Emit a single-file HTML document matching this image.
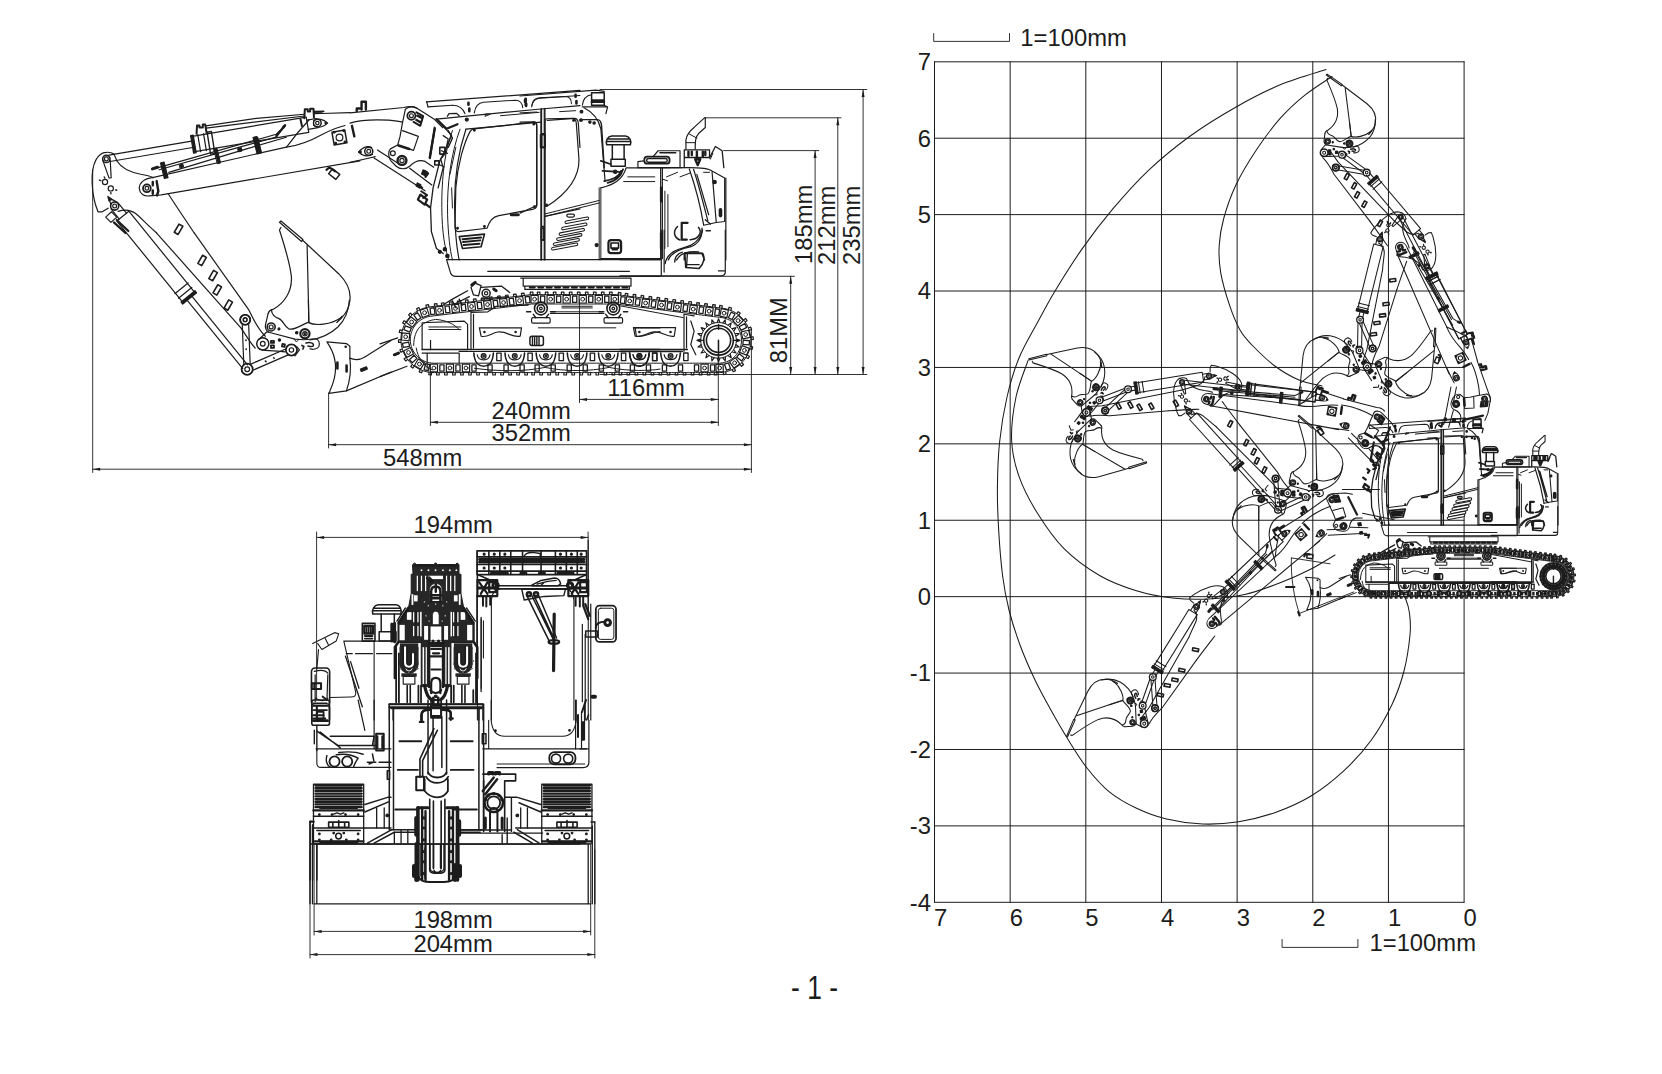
<!DOCTYPE html>
<html lang="en"><head><meta charset="utf-8"><title>Excavator dimensions</title>
<style>html,body{margin:0;padding:0;background:#fff}body{width:1662px;height:1074px;overflow:hidden}svg{display:block}text{font-family:"Liberation Sans",Arial,sans-serif;fill:#1c1c1c;stroke:none}#sideview *,#frontview *,#rightview *{vector-effect:non-scaling-stroke}</style></head><body>
<svg width="1662" height="1074" viewBox="0 0 1662 1074" fill="none" stroke="#1c1c1c" stroke-linecap="round" stroke-linejoin="round">
<rect width="1662" height="1074" fill="#fff" stroke="none"/>
<g id="grid"><path d="M934.5 61.8V902.3M1010.16 61.8V902.3M1085.81 61.8V902.3M1161.47 61.8V902.3M1237.13 61.8V902.3M1312.79 61.8V902.3M1388.44 61.8V902.3M1464.1 61.8V902.3M934.5 61.8H1464.1M934.5 138.21H1464.1M934.5 214.62H1464.1M934.5 291.03H1464.1M934.5 367.44H1464.1M934.5 443.85H1464.1M934.5 520.25H1464.1M934.5 596.66H1464.1M934.5 673.07H1464.1M934.5 749.48H1464.1M934.5 825.89H1464.1M934.5 902.3H1464.1" stroke-width="1"/><text x="931" y="70.1" font-size="23.8" text-anchor="end" >7</text><text x="931" y="146.51" font-size="23.8" text-anchor="end" >6</text><text x="931" y="222.92" font-size="23.8" text-anchor="end" >5</text><text x="931" y="299.33" font-size="23.8" text-anchor="end" >4</text><text x="931" y="375.74" font-size="23.8" text-anchor="end" >3</text><text x="931" y="452.15" font-size="23.8" text-anchor="end" >2</text><text x="931" y="528.55" font-size="23.8" text-anchor="end" >1</text><text x="931" y="604.96" font-size="23.8" text-anchor="end" >0</text><text x="931" y="681.37" font-size="23.8" text-anchor="end" >-1</text><text x="931" y="757.78" font-size="23.8" text-anchor="end" >-2</text><text x="931" y="834.19" font-size="23.8" text-anchor="end" >-3</text><text x="931" y="910.6" font-size="23.8" text-anchor="end" >-4</text><text x="934" y="925.5" font-size="23.8" text-anchor="start" >7</text><text x="1009.66" y="925.5" font-size="23.8" text-anchor="start" >6</text><text x="1085.31" y="925.5" font-size="23.8" text-anchor="start" >5</text><text x="1160.97" y="925.5" font-size="23.8" text-anchor="start" >4</text><text x="1236.63" y="925.5" font-size="23.8" text-anchor="start" >3</text><text x="1312.29" y="925.5" font-size="23.8" text-anchor="start" >2</text><text x="1387.94" y="925.5" font-size="23.8" text-anchor="start" >1</text><text x="1463.6" y="925.5" font-size="23.8" text-anchor="start" >0</text><path d="M933.7 33.5V41.4H1009.5V33.5" stroke-width="0.9"/><text x="1020.3" y="46.3" font-size="23.8" text-anchor="start" >1=100mm</text><path d="M1282.1 939.5V947.4H1357.9V939.5" stroke-width="0.9"/><text x="1369.5" y="950.8" font-size="23.8" text-anchor="start" >1=100mm</text></g>
<g id="dims"><path d="M600 89.5L866.8 89.5" stroke-width="0.9" /><path d="M863.1 89.5L863.1 374.5" stroke-width="0.9" /><path d="M863.1 89.5L864.6 97L861.6 97Z" fill="#1c1c1c" stroke="none"/><path d="M863.1 374.5L861.6 367L864.6 367Z" fill="#1c1c1c" stroke="none"/><path d="M705 117.8L841 117.8" stroke-width="0.9" /><path d="M837.8 117.8L837.8 374.5" stroke-width="0.9" /><path d="M837.8 117.8L839.3 125.3L836.3 125.3Z" fill="#1c1c1c" stroke="none"/><path d="M837.8 374.5L836.3 367L839.3 367Z" fill="#1c1c1c" stroke="none"/><path d="M723.6 150.6L818.8 150.6" stroke-width="0.9" /><path d="M815.1 150.6L815.1 374.5" stroke-width="0.9" /><path d="M815.1 150.6L816.6 158.1L813.6 158.1Z" fill="#1c1c1c" stroke="none"/><path d="M815.1 374.5L813.6 367L816.6 367Z" fill="#1c1c1c" stroke="none"/><path d="M640 276.3L794.4 276.3" stroke-width="0.9" /><path d="M790.7 276.3L790.7 374.5" stroke-width="0.9" /><path d="M790.7 276.3L792.2 283.8L789.2 283.8Z" fill="#1c1c1c" stroke="none"/><path d="M790.7 374.5L789.2 367L792.2 367Z" fill="#1c1c1c" stroke="none"/><path d="M600 374.5L866.8 374.5" stroke-width="0.9" /><text transform="translate(812.3 264) rotate(-90)" font-size="23.8">185mm</text><text transform="translate(834.6 265) rotate(-90)" font-size="23.8">212mm</text><text transform="translate(860.4 265) rotate(-90)" font-size="23.8">235mm</text><text transform="translate(786.8 363.3) rotate(-90)" font-size="23.8">81MM</text><path d="M579.5 300L579.5 402.5" stroke-width="0.9" /><path d="M718.3 340L718.3 425.5" stroke-width="0.9" /><path d="M579.5 399.4L718.3 399.4" stroke-width="0.9" /><path d="M579.5 399.4L587 397.9L587 400.9Z" fill="#1c1c1c" stroke="none"/><path d="M718.3 399.4L710.8 400.9L710.8 397.9Z" fill="#1c1c1c" stroke="none"/><text x="607.2" y="396" font-size="23.8" text-anchor="start" >116mm</text><path d="M430.4 372L430.4 425.5" stroke-width="0.9" /><path d="M430.4 422.3L718.3 422.3" stroke-width="0.9" /><path d="M430.4 422.3L437.9 420.8L437.9 423.8Z" fill="#1c1c1c" stroke="none"/><path d="M718.3 422.3L710.8 423.8L710.8 420.8Z" fill="#1c1c1c" stroke="none"/><text x="491.5" y="418.9" font-size="23.8" text-anchor="start" >240mm</text><path d="M328.6 393L328.6 448" stroke-width="0.9" /><path d="M751.4 330L751.4 472.5" stroke-width="0.9" /><path d="M328.6 444.7L751.4 444.7" stroke-width="0.9" /><path d="M328.6 444.7L336.1 443.2L336.1 446.2Z" fill="#1c1c1c" stroke="none"/><path d="M751.4 444.7L743.9 446.2L743.9 443.2Z" fill="#1c1c1c" stroke="none"/><text x="491.5" y="441" font-size="23.8" text-anchor="start" >352mm</text><path d="M92.7 170L92.7 472.5" stroke-width="0.9" /><path d="M92.7 469.2L751.4 469.2" stroke-width="0.9" /><path d="M92.7 469.2L100.2 467.7L100.2 470.7Z" fill="#1c1c1c" stroke="none"/><path d="M751.4 469.2L743.9 470.7L743.9 467.7Z" fill="#1c1c1c" stroke="none"/><text x="383" y="465.7" font-size="23.8" text-anchor="start" >548mm</text><path d="M316.6 532L316.6 700" stroke-width="0.9" /><path d="M588.1 532L588.1 610" stroke-width="0.9" /><path d="M316.6 537.4L588.1 537.4" stroke-width="0.9" /><path d="M316.6 537.4L324.1 535.9L324.1 538.9Z" fill="#1c1c1c" stroke="none"/><path d="M588.1 537.4L580.6 538.9L580.6 535.9Z" fill="#1c1c1c" stroke="none"/><text x="413.6" y="533.3" font-size="23.8" text-anchor="start" >194mm</text><path d="M314.1 845L314.1 935" stroke-width="0.9" /><path d="M590.7 845L590.7 935" stroke-width="0.9" /><path d="M314.1 931.4L590.7 931.4" stroke-width="0.9" /><path d="M314.1 931.4L321.6 929.9L321.6 932.9Z" fill="#1c1c1c" stroke="none"/><path d="M590.7 931.4L583.2 932.9L583.2 929.9Z" fill="#1c1c1c" stroke="none"/><text x="413.4" y="927.6" font-size="23.8" text-anchor="start" >198mm</text><path d="M310 850L310 958" stroke-width="0.9" /><path d="M594.8 850L594.8 958" stroke-width="0.9" /><path d="M310 954.6L594.8 954.6" stroke-width="0.9" /><path d="M310 954.6L317.5 953.1L317.5 956.1Z" fill="#1c1c1c" stroke="none"/><path d="M594.8 954.6L587.3 956.1L587.3 953.1Z" fill="#1c1c1c" stroke="none"/><text x="413.4" y="951.5" font-size="23.8" text-anchor="start" >204mm</text><text transform="translate(814.5 999) scale(0.8 1)" font-size="33" text-anchor="middle">- 1 -</text></g>
<g id="sideview" stroke-width="1.2"><g transform="translate(85 130) scale(0.09625)"><path d="M300 250C275 232 245 230 222 232C190 232 160 250 138 275C100 320 78 400 74 480C70 580 85 690 110 780L135 850L178 850L240 812" /><circle cx="222" cy="300" r="20"/><circle cx="222" cy="300" r="38" stroke-width="1.6"/><path d="M186 318L250 500L272 496L262 315" /><circle cx="208" cy="540" r="27"/><circle cx="268" cy="607" r="27"/><path d="M150 520l14 6M200 488l6 12M318 622l12 4M268 650l2 12" stroke-width="1.4" /><circle cx="308" cy="790" r="20"/><circle cx="308" cy="790" r="42" stroke-width="1.6"/><path d="M270 775L243 700L335 752" /><path d="M238 690L278 722L250 738Z" fill="#1c1c1c" /><path d="M330 320C380 400 470 440 580 460C650 470 680 480 712 496" /><path d="M300 248L330 318" /><path d="M345 846C400 826 470 826 530 870C585 915 650 990 745 1070" /><path d="M862 660C890 700 915 745 1135 1070" /></g><g transform="translate(80 220) scale(0.16846)"><path d="M455 78L955 640C990 690 1010 730 1040 760" /><path d="M678 77L1000 530C1030 590 1050 640 1100 690" /><circle cx="1085" cy="735" r="14"/><circle cx="1085" cy="735" r="36" stroke-width="1.5"/><circle cx="980" cy="592" r="12"/><circle cx="980" cy="592" r="30" stroke-width="1.5"/><rect x="-13" y="-28" width="26" height="56" transform="translate(585 55) rotate(30)" stroke-width="1.6"/><rect x="-13" y="-28" width="26" height="56" transform="translate(725 240) rotate(30)" stroke-width="1.6"/><rect x="-13" y="-28" width="26" height="56" transform="translate(790 330) rotate(30)" stroke-width="1.6"/><rect x="-13" y="-28" width="26" height="56" transform="translate(815 415) rotate(30)" stroke-width="1.6"/><rect x="-13" y="-28" width="26" height="56" transform="translate(880 505) rotate(30)" stroke-width="1.6"/></g><g transform="translate(114.64 206.03) rotate(50.92)"><path d="M0 -4.65H13M0 4.65H13"/><path d="M13 -7.75H119M13 7.75H119M13 -7.75V7.75"/><path d="M106 -8.55V8.55M111.85 -8.55V8.55"/><rect x="116.4" y="-8.95" width="2.6" height="17.9" fill="#1c1c1c"/><path d="M119 -3.1H207.03M119 3.1H207.03"/></g><g transform="translate(85 130) scale(0.09625)"><path d="M215 905L275 850L330 905L270 960Z" /><path d="M300 960L420 1070M330 935L450 1050" stroke-width="2.2" /></g><g transform="translate(247.18 369.23) rotate(-92.2)"><path d="M4.86 -3.2H44.62M4.86 3.2H44.62"/></g><g transform="translate(247.18 369.23) rotate(-23.54)"><path d="M4.86 -3.2H43.41M4.86 3.2H43.41"/></g><g transform="translate(225 300) scale(0.09990)"><circle cx="203" cy="198" r="18"/><circle cx="203" cy="198" r="50" stroke-width="1.6"/><circle cx="222" cy="693" r="24"/><circle cx="222" cy="693" r="56" stroke-width="1.8"/><circle cx="665" cy="500" r="22"/><circle cx="665" cy="500" r="56" stroke-width="1.8"/><path d="M210 400v6M212 490v6M405 612l5 5M487 578l5 5" stroke-width="1.6" /></g><g transform="translate(225 300) scale(0.09990)"><path d="M340 395L420 318L700 392L790 398L905 388C940 395 950 425 940 465C925 490 880 500 850 488" /><path d="M720 470L745 500L700 560M345 490C380 510 440 500 600 520" /><path d="M810 430C850 420 890 430 885 455C880 470 850 465 830 460" stroke-width="1.5" /><path d="M690 390l25 30l25-25" stroke-width="1.0" /><circle cx="462" cy="270" r="20"/><circle cx="462" cy="270" r="40" stroke-width="1.6"/><circle cx="800" cy="338" r="22"/><circle cx="800" cy="338" r="46" stroke-width="2.2"/><circle cx="800" cy="338" r="8" fill="#1c1c1c"/><circle cx="540" cy="290" r="10" fill="#1c1c1c"/><circle cx="718" cy="328" r="12" fill="#1c1c1c"/><circle cx="545" cy="400" r="12" fill="#1c1c1c"/><path d="M460 410h30v20h-30zM460 455h30v25h-30zM575 440l25 5l-5 25l-25 -5z" stroke-width="1.8" /><path d="M770 455l20 10l-10 25" stroke-width="1.6" /></g><g transform="translate(225 215) scale(0.09990)"><path d="M545 72L560 60L780 245L766 266Z" /><path d="M560 125L545 150C600 320 650 480 665 620C672 760 600 880 480 945C455 950 440 958 432 985" /><path d="M780 255L1140 590C1230 680 1275 790 1240 905C1222 975 1180 1025 1120 1075" /><path d="M822 305L840 1075" /></g><g transform="translate(225 300) scale(0.09990)"><path d="M432 135L405 250C398 290 415 310 440 322" /><path d="M465 100C468 150 500 172 540 186C580 200 592 262 640 290C700 305 760 250 832 224C900 262 1060 250 1165 175" /><path d="M1245 0C1240 100 1200 200 1130 270C1060 335 960 385 850 400" /><path d="M835 0L838 222" /><path d="M1120 225L1170 160" stroke-width="1.0" /></g><path d="M433.9 372.6L430.39 372.41L426.92 371.85L423.52 370.93L420.25 369.64L417.13 368.02L414.2 366.07L411.49 363.82L409.04 361.3L406.87 358.53L405.01 355.55L403.48 352.38L402.29 349.07L401.46 345.65L401 342.17L400.91 338.65L401.2 335.14L401.86 331.69L402.89 328.32L404.26 325.09L405.98 322.02L408.01 319.14L410.33 316.5L412.92 314.13L415.75 312.04L418.79 310.26L422 308.82L425.34 307.73L428.78 307L431.95 306.6L434.95 306.23L437.95 305.87L440.96 305.51L443.96 305.15L446.96 304.78L449.97 304.42L452.97 304.06L455.97 303.7L458.97 303.33L461.98 302.97L464.98 302.61L467.98 302.25L470.99 301.88L473.99 301.52L476.99 301.16L480 300.8L483 300.43L486 300.07L489.01 299.71L492.01 299.35L495.01 298.98L498.01 298.62L501.02 298.26L504.02 297.9L507.02 297.53L510.03 297.17L513.03 296.81L516.03 296.45L519.04 296.08L522.04 295.72L525.04 295.36L528.05 295L531.6 294.6L534.61 294.6L537.61 294.6L540.62 294.6L543.63 294.6L546.64 294.6L549.64 294.6L552.65 294.6L555.66 294.6L558.66 294.6L561.67 294.6L564.68 294.6L567.69 294.6L570.69 294.6L573.7 294.6L576.71 294.6L579.71 294.6L582.72 294.6L585.73 294.6L588.74 294.6L591.74 294.6L594.75 294.6L597.76 294.6L600.76 294.6L603.77 294.6L606.78 294.6L609.79 294.6L612.79 294.6L616.38 294.64L619.37 295.02L622.35 295.4L625.33 295.78L628.31 296.17L631.29 296.55L634.27 296.93L637.25 297.31L640.23 297.69L643.21 298.08L646.19 298.46L649.18 298.84L652.16 299.22L655.14 299.6L658.12 299.99L661.1 300.37L664.08 300.75L667.06 301.13L670.04 301.51L673.02 301.9L676 302.28L678.98 302.66L681.97 303.04L684.95 303.42L687.93 303.81L690.91 304.19L693.89 304.57L696.87 304.95L699.85 305.33L702.83 305.72L705.81 306.1L708.79 306.48L711.78 306.86L714.76 307.24L717.74 307.63L720.72 308.01L723.87 308.43L727.3 309.19L730.63 310.32L733.82 311.81L736.83 313.63L739.62 315.77L742.16 318.2L744.42 320.9L746.38 323.82L748.01 326.94L749.28 330.21L750.2 333.61L750.74 337.09L750.9 340.6L750.67 344.11L750.07 347.57L749.09 350.95L747.75 354.2L746.07 357.29L744.06 360.18L741.75 362.83L739.16 365.21L736.33 367.3L733.29 369.07L730.07 370.49L726.72 371.56L723.28 372.26L719.77 372.58L716.6 372.6L713.59 372.6L710.58 372.6L707.57 372.6L704.57 372.6L701.56 372.6L698.55 372.6L695.54 372.6L692.54 372.6L689.53 372.6L686.52 372.6L683.51 372.6L680.51 372.6L677.5 372.6L674.49 372.6L671.48 372.6L668.48 372.6L665.47 372.6L662.46 372.6L659.45 372.6L656.45 372.6L653.44 372.6L650.43 372.6L647.42 372.6L644.42 372.6L641.41 372.6L638.4 372.6L635.4 372.6L632.39 372.6L629.38 372.6L626.37 372.6L623.37 372.6L620.36 372.6L617.35 372.6L614.34 372.6L611.34 372.6L608.33 372.6L605.32 372.6L602.31 372.6L599.31 372.6L596.3 372.6L593.29 372.6L590.28 372.6L587.28 372.6L584.27 372.6L581.26 372.6L578.25 372.6L575.25 372.6L572.24 372.6L569.23 372.6L566.23 372.6L563.22 372.6L560.21 372.6L557.2 372.6L554.2 372.6L551.19 372.6L548.18 372.6L545.17 372.6L542.17 372.6L539.16 372.6L536.15 372.6L533.14 372.6L530.14 372.6L527.13 372.6L524.12 372.6L521.11 372.6L518.11 372.6L515.1 372.6L512.09 372.6L509.08 372.6L506.08 372.6L503.07 372.6L500.06 372.6L497.06 372.6L494.05 372.6L491.04 372.6L488.03 372.6L485.03 372.6L482.02 372.6L479.01 372.6L476 372.6L473 372.6L469.99 372.6L466.98 372.6L463.97 372.6L460.97 372.6L457.96 372.6L454.95 372.6L451.94 372.6L448.94 372.6L445.93 372.6L442.92 372.6L439.91 372.6L436.91 372.6Z" stroke-width="1.0" /><path d="M433.9 363.2L431.39 363.07L428.9 362.67L426.48 362L424.14 361.09L421.9 359.92L419.81 358.53L417.87 356.92L416.12 355.12L414.57 353.14L413.24 351.01L412.14 348.74L411.29 346.37L410.7 343.93L410.37 341.44L410.31 338.92L410.52 336.41L410.99 333.94L411.72 331.54L412.7 329.22L413.93 327.02L415.38 324.97L417.04 323.08L418.9 321.38L420.92 319.89L423.09 318.62L425.39 317.59L427.78 316.81L430.24 316.29L433.07 315.93L436.08 315.57L439.08 315.2L442.08 314.84L445.09 314.48L448.09 314.12L451.09 313.75L454.1 313.39L457.1 313.03L460.1 312.67L463.1 312.3L466.11 311.94L469.11 311.58L472.11 311.22L475.12 310.85L478.12 310.49L481.12 310.13L484.13 309.77L487.13 309.4L490.13 309.04L493.14 308.68L496.14 308.32L499.14 307.95L502.14 307.59L505.15 307.23L508.15 306.87L511.15 306.5L514.16 306.14L517.16 305.78L520.16 305.42L523.17 305.05L526.17 304.69L529.17 304.33L531.6 304L534.61 304L537.61 304L540.62 304L543.63 304L546.64 304L549.64 304L552.65 304L555.66 304L558.66 304L561.67 304L564.68 304L567.69 304L570.69 304L573.7 304L576.71 304L579.71 304L582.72 304L585.73 304L588.74 304L591.74 304L594.75 304L597.76 304L600.76 304L603.77 304L606.78 304L609.79 304L612.79 304L615.19 303.96L618.17 304.34L621.15 304.73L624.13 305.11L627.11 305.49L630.09 305.87L633.08 306.25L636.06 306.64L639.04 307.02L642.02 307.4L645 307.78L647.98 308.16L650.96 308.55L653.94 308.93L656.92 309.31L659.9 309.69L662.89 310.07L665.87 310.46L668.85 310.84L671.83 311.22L674.81 311.6L677.79 311.98L680.77 312.37L683.75 312.75L686.73 313.13L689.71 313.51L692.69 313.89L695.68 314.28L698.66 314.66L701.64 315.04L704.62 315.42L707.6 315.8L710.58 316.19L713.56 316.57L716.54 316.95L719.52 317.33L722.33 317.71L724.77 318.25L727.13 319.05L729.39 320.1L731.52 321.39L733.5 322.91L735.3 324.63L736.91 326.54L738.29 328.62L739.45 330.83L740.35 333.15L741 335.56L741.39 338.02L741.5 340.51L741.34 343L740.91 345.46L740.22 347.85L739.27 350.16L738.08 352.35L736.65 354.39L735.01 356.27L733.18 357.96L731.17 359.44L729.01 360.7L726.73 361.71L724.36 362.46L721.91 362.96L719.43 363.18L716.6 363.2L713.59 363.2L710.58 363.2L707.57 363.2L704.57 363.2L701.56 363.2L698.55 363.2L695.54 363.2L692.54 363.2L689.53 363.2L686.52 363.2L683.51 363.2L680.51 363.2L677.5 363.2L674.49 363.2L671.48 363.2L668.48 363.2L665.47 363.2L662.46 363.2L659.45 363.2L656.45 363.2L653.44 363.2L650.43 363.2L647.42 363.2L644.42 363.2L641.41 363.2L638.4 363.2L635.4 363.2L632.39 363.2L629.38 363.2L626.37 363.2L623.37 363.2L620.36 363.2L617.35 363.2L614.34 363.2L611.34 363.2L608.33 363.2L605.32 363.2L602.31 363.2L599.31 363.2L596.3 363.2L593.29 363.2L590.28 363.2L587.28 363.2L584.27 363.2L581.26 363.2L578.25 363.2L575.25 363.2L572.24 363.2L569.23 363.2L566.23 363.2L563.22 363.2L560.21 363.2L557.2 363.2L554.2 363.2L551.19 363.2L548.18 363.2L545.17 363.2L542.17 363.2L539.16 363.2L536.15 363.2L533.14 363.2L530.14 363.2L527.13 363.2L524.12 363.2L521.11 363.2L518.11 363.2L515.1 363.2L512.09 363.2L509.08 363.2L506.08 363.2L503.07 363.2L500.06 363.2L497.06 363.2L494.05 363.2L491.04 363.2L488.03 363.2L485.03 363.2L482.02 363.2L479.01 363.2L476 363.2L473 363.2L469.99 363.2L466.98 363.2L463.97 363.2L460.97 363.2L457.96 363.2L454.95 363.2L451.94 363.2L448.94 363.2L445.93 363.2L442.92 363.2L439.91 363.2L436.91 363.2Z" stroke-width="1.0" /><rect x="-3.6" y="-3.8" width="7.2" height="7.6" transform="translate(433.9 368) rotate(180)" stroke-width="1.2"/><circle cx="433.9" cy="368" r="1.9" stroke-width="1.0"/><rect x="-2.1" y="-3.2" width="4.2" height="6.4" transform="translate(426.91 367.13) rotate(194.26)" stroke-width="1.3"/><rect x="-3.6" y="-3.8" width="7.2" height="7.6" transform="translate(419.46 364.06) rotate(210.55)" stroke-width="1.2"/><circle cx="419.46" cy="364.06" r="1.9" stroke-width="1.0"/><rect x="-2.1" y="-3.2" width="4.2" height="6.4" transform="translate(413.18 359.03) rotate(226.84)" stroke-width="1.3"/><rect x="-3.6" y="-3.8" width="7.2" height="7.6" transform="translate(408.56 352.43) rotate(243.14)" stroke-width="1.2"/><circle cx="408.56" cy="352.43" r="1.9" stroke-width="1.0"/><rect x="-2.1" y="-3.2" width="4.2" height="6.4" transform="translate(405.98 344.81) rotate(259.43)" stroke-width="1.3"/><rect x="-3.6" y="-3.8" width="7.2" height="7.6" transform="translate(405.64 336.77) rotate(-84.28)" stroke-width="1.2"/><circle cx="405.64" cy="336.77" r="1.9" stroke-width="1.0"/><rect x="-2.1" y="-3.2" width="4.2" height="6.4" transform="translate(407.57 328.95) rotate(-67.98)" stroke-width="1.3"/><rect x="-3.6" y="-3.8" width="7.2" height="7.6" transform="translate(411.62 321.99) rotate(-51.69)" stroke-width="1.2"/><circle cx="411.62" cy="321.99" r="1.9" stroke-width="1.0"/><rect x="-2.1" y="-3.2" width="4.2" height="6.4" transform="translate(417.45 316.45) rotate(-35.4)" stroke-width="1.3"/><rect x="-3.6" y="-3.8" width="7.2" height="7.6" transform="translate(424.61 312.76) rotate(-19.1)" stroke-width="1.2"/><circle cx="424.61" cy="312.76" r="1.9" stroke-width="1.0"/><rect x="-2.1" y="-3.2" width="4.2" height="6.4" transform="translate(432.5 311.16) rotate(-6.88)" stroke-width="1.3"/><rect x="-3.6" y="-3.8" width="7.2" height="7.6" transform="translate(439.51 310.32) rotate(-6.88)" stroke-width="1.2"/><circle cx="439.51" cy="310.32" r="1.9" stroke-width="1.0"/><rect x="-2.1" y="-3.2" width="4.2" height="6.4" transform="translate(447.51 309.35) rotate(-6.88)" stroke-width="1.3"/><rect x="-3.6" y="-3.8" width="7.2" height="7.6" transform="translate(455.52 308.38) rotate(-6.88)" stroke-width="1.2"/><circle cx="455.52" cy="308.38" r="1.9" stroke-width="1.0"/><rect x="-2.1" y="-3.2" width="4.2" height="6.4" transform="translate(463.53 307.42) rotate(-6.88)" stroke-width="1.3"/><rect x="-3.6" y="-3.8" width="7.2" height="7.6" transform="translate(471.54 306.45) rotate(-6.88)" stroke-width="1.2"/><circle cx="471.54" cy="306.45" r="1.9" stroke-width="1.0"/><rect x="-2.1" y="-3.2" width="4.2" height="6.4" transform="translate(479.55 305.48) rotate(-6.88)" stroke-width="1.3"/><rect x="-3.6" y="-3.8" width="7.2" height="7.6" transform="translate(487.55 304.52) rotate(-6.88)" stroke-width="1.2"/><circle cx="487.55" cy="304.52" r="1.9" stroke-width="1.0"/><rect x="-2.1" y="-3.2" width="4.2" height="6.4" transform="translate(495.56 303.55) rotate(-6.88)" stroke-width="1.3"/><rect x="-3.6" y="-3.8" width="7.2" height="7.6" transform="translate(503.57 302.58) rotate(-6.88)" stroke-width="1.2"/><circle cx="503.57" cy="302.58" r="1.9" stroke-width="1.0"/><rect x="-2.1" y="-3.2" width="4.2" height="6.4" transform="translate(511.58 301.62) rotate(-6.88)" stroke-width="1.3"/><rect x="-3.6" y="-3.8" width="7.2" height="7.6" transform="translate(519.59 300.65) rotate(-6.88)" stroke-width="1.2"/><circle cx="519.59" cy="300.65" r="1.9" stroke-width="1.0"/><rect x="-2.1" y="-3.2" width="4.2" height="6.4" transform="translate(527.6 299.68) rotate(-6.88)" stroke-width="1.3"/><rect x="-3.6" y="-3.8" width="7.2" height="7.6" transform="translate(534.61 299.2) rotate(0)" stroke-width="1.2"/><circle cx="534.61" cy="299.2" r="1.9" stroke-width="1.0"/><rect x="-2.1" y="-3.2" width="4.2" height="6.4" transform="translate(542.63 299.2) rotate(0)" stroke-width="1.3"/><rect x="-3.6" y="-3.8" width="7.2" height="7.6" transform="translate(550.65 299.2) rotate(0)" stroke-width="1.2"/><circle cx="550.65" cy="299.2" r="1.9" stroke-width="1.0"/><rect x="-2.1" y="-3.2" width="4.2" height="6.4" transform="translate(558.66 299.2) rotate(0)" stroke-width="1.3"/><rect x="-3.6" y="-3.8" width="7.2" height="7.6" transform="translate(566.68 299.2) rotate(0)" stroke-width="1.2"/><circle cx="566.68" cy="299.2" r="1.9" stroke-width="1.0"/><rect x="-2.1" y="-3.2" width="4.2" height="6.4" transform="translate(574.7 299.2) rotate(0)" stroke-width="1.3"/><rect x="-3.6" y="-3.8" width="7.2" height="7.6" transform="translate(582.72 299.2) rotate(0)" stroke-width="1.2"/><circle cx="582.72" cy="299.2" r="1.9" stroke-width="1.0"/><rect x="-2.1" y="-3.2" width="4.2" height="6.4" transform="translate(590.74 299.2) rotate(0)" stroke-width="1.3"/><rect x="-3.6" y="-3.8" width="7.2" height="7.6" transform="translate(598.76 299.2) rotate(0)" stroke-width="1.2"/><circle cx="598.76" cy="299.2" r="1.9" stroke-width="1.0"/><rect x="-2.1" y="-3.2" width="4.2" height="6.4" transform="translate(606.78 299.2) rotate(0)" stroke-width="1.3"/><rect x="-3.6" y="-3.8" width="7.2" height="7.6" transform="translate(614.8 299.2) rotate(0)" stroke-width="1.2"/><circle cx="614.8" cy="299.2" r="1.9" stroke-width="1.0"/><rect x="-2.1" y="-3.2" width="4.2" height="6.4" transform="translate(622.76 300.09) rotate(7.3)" stroke-width="1.3"/><rect x="-3.6" y="-3.8" width="7.2" height="7.6" transform="translate(629.71 300.98) rotate(7.3)" stroke-width="1.2"/><circle cx="629.71" cy="300.98" r="1.9" stroke-width="1.0"/><rect x="-2.1" y="-3.2" width="4.2" height="6.4" transform="translate(637.66 302) rotate(7.3)" stroke-width="1.3"/><rect x="-3.6" y="-3.8" width="7.2" height="7.6" transform="translate(645.61 303.02) rotate(7.3)" stroke-width="1.2"/><circle cx="645.61" cy="303.02" r="1.9" stroke-width="1.0"/><rect x="-2.1" y="-3.2" width="4.2" height="6.4" transform="translate(653.56 304.04) rotate(7.3)" stroke-width="1.3"/><rect x="-3.6" y="-3.8" width="7.2" height="7.6" transform="translate(661.51 305.06) rotate(7.3)" stroke-width="1.2"/><circle cx="661.51" cy="305.06" r="1.9" stroke-width="1.0"/><rect x="-2.1" y="-3.2" width="4.2" height="6.4" transform="translate(669.46 306.08) rotate(7.3)" stroke-width="1.3"/><rect x="-3.6" y="-3.8" width="7.2" height="7.6" transform="translate(677.41 307.09) rotate(7.3)" stroke-width="1.2"/><circle cx="677.41" cy="307.09" r="1.9" stroke-width="1.0"/><rect x="-2.1" y="-3.2" width="4.2" height="6.4" transform="translate(685.36 308.11) rotate(7.3)" stroke-width="1.3"/><rect x="-3.6" y="-3.8" width="7.2" height="7.6" transform="translate(693.3 309.13) rotate(7.3)" stroke-width="1.2"/><circle cx="693.3" cy="309.13" r="1.9" stroke-width="1.0"/><rect x="-2.1" y="-3.2" width="4.2" height="6.4" transform="translate(701.25 310.15) rotate(7.3)" stroke-width="1.3"/><rect x="-3.6" y="-3.8" width="7.2" height="7.6" transform="translate(709.2 311.17) rotate(7.3)" stroke-width="1.2"/><circle cx="709.2" cy="311.17" r="1.9" stroke-width="1.0"/><rect x="-2.1" y="-3.2" width="4.2" height="6.4" transform="translate(717.15 312.19) rotate(7.3)" stroke-width="1.3"/><rect x="-3.6" y="-3.8" width="7.2" height="7.6" transform="translate(724.11 313.15) rotate(11.46)" stroke-width="1.2"/><circle cx="724.11" cy="313.15" r="1.9" stroke-width="1.0"/><rect x="-2.1" y="-3.2" width="4.2" height="6.4" transform="translate(731.65 315.87) rotate(28.11)" stroke-width="1.3"/><rect x="-3.6" y="-3.8" width="7.2" height="7.6" transform="translate(738.1 320.63) rotate(44.75)" stroke-width="1.2"/><circle cx="738.1" cy="320.63" r="1.9" stroke-width="1.0"/><rect x="-2.1" y="-3.2" width="4.2" height="6.4" transform="translate(742.92 327.04) rotate(61.4)" stroke-width="1.3"/><rect x="-3.6" y="-3.8" width="7.2" height="7.6" transform="translate(745.7 334.56) rotate(78.05)" stroke-width="1.2"/><circle cx="745.7" cy="334.56" r="1.9" stroke-width="1.0"/><rect x="-2.1" y="-3.2" width="4.2" height="6.4" transform="translate(746.21 342.57) rotate(94.69)" stroke-width="1.3"/><rect x="-3.6" y="-3.8" width="7.2" height="7.6" transform="translate(744.4 350.38) rotate(111.34)" stroke-width="1.2"/><circle cx="744.4" cy="350.38" r="1.9" stroke-width="1.0"/><rect x="-2.1" y="-3.2" width="4.2" height="6.4" transform="translate(740.43 357.35) rotate(127.98)" stroke-width="1.3"/><rect x="-3.6" y="-3.8" width="7.2" height="7.6" transform="translate(734.63 362.89) rotate(144.63)" stroke-width="1.2"/><circle cx="734.63" cy="362.89" r="1.9" stroke-width="1.0"/><rect x="-2.1" y="-3.2" width="4.2" height="6.4" transform="translate(727.49 366.53) rotate(161.27)" stroke-width="1.3"/><rect x="-3.6" y="-3.8" width="7.2" height="7.6" transform="translate(719.61 367.98) rotate(177.92)" stroke-width="1.2"/><circle cx="719.61" cy="367.98" r="1.9" stroke-width="1.0"/><rect x="-2.1" y="-3.2" width="4.2" height="6.4" transform="translate(712.59 368) rotate(180)" stroke-width="1.3"/><rect x="-3.6" y="-3.8" width="7.2" height="7.6" transform="translate(704.57 368) rotate(180)" stroke-width="1.2"/><circle cx="704.57" cy="368" r="1.9" stroke-width="1.0"/><rect x="-2.1" y="-3.2" width="4.2" height="6.4" transform="translate(696.55 368) rotate(180)" stroke-width="1.3"/><rect x="-2.1" y="-3.2" width="4.2" height="6.4" transform="translate(680.51 368) rotate(180)" stroke-width="1.3"/><rect x="-2.1" y="-3.2" width="4.2" height="6.4" transform="translate(664.47 368) rotate(180)" stroke-width="1.3"/><rect x="-2.1" y="-3.2" width="4.2" height="6.4" transform="translate(648.43 368) rotate(180)" stroke-width="1.3"/><rect x="-2.1" y="-3.2" width="4.2" height="6.4" transform="translate(632.39 368) rotate(180)" stroke-width="1.3"/><rect x="-2.1" y="-3.2" width="4.2" height="6.4" transform="translate(617.35 368) rotate(180)" stroke-width="1.3"/><rect x="-2.1" y="-3.2" width="4.2" height="6.4" transform="translate(601.31 368) rotate(180)" stroke-width="1.3"/><rect x="-2.1" y="-3.2" width="4.2" height="6.4" transform="translate(585.27 368) rotate(180)" stroke-width="1.3"/><rect x="-2.1" y="-3.2" width="4.2" height="6.4" transform="translate(569.23 368) rotate(180)" stroke-width="1.3"/><rect x="-2.1" y="-3.2" width="4.2" height="6.4" transform="translate(553.19 368) rotate(180)" stroke-width="1.3"/><rect x="-2.1" y="-3.2" width="4.2" height="6.4" transform="translate(537.15 368) rotate(180)" stroke-width="1.3"/><rect x="-2.1" y="-3.2" width="4.2" height="6.4" transform="translate(522.12 368) rotate(180)" stroke-width="1.3"/><rect x="-2.1" y="-3.2" width="4.2" height="6.4" transform="translate(506.08 368) rotate(180)" stroke-width="1.3"/><rect x="-2.1" y="-3.2" width="4.2" height="6.4" transform="translate(490.04 368) rotate(180)" stroke-width="1.3"/><rect x="-2.1" y="-3.2" width="4.2" height="6.4" transform="translate(474 368) rotate(180)" stroke-width="1.3"/><rect x="-3.6" y="-3.8" width="7.2" height="7.6" transform="translate(465.98 368) rotate(180)" stroke-width="1.2"/><circle cx="465.98" cy="368" r="1.9" stroke-width="1.0"/><rect x="-2.1" y="-3.2" width="4.2" height="6.4" transform="translate(457.96 368) rotate(180)" stroke-width="1.3"/><rect x="-3.6" y="-3.8" width="7.2" height="7.6" transform="translate(449.94 368) rotate(180)" stroke-width="1.2"/><circle cx="449.94" cy="368" r="1.9" stroke-width="1.0"/><rect x="-2.1" y="-3.2" width="4.2" height="6.4" transform="translate(441.92 368) rotate(180)" stroke-width="1.3"/><path d="M431.68 372.55L431.42 374.94L428.84 374.66L429.09 372.27M422.52 370.6L421.61 372.82L419.21 371.83L420.12 369.61M414.28 366.17L412.78 368.04L410.75 366.42L412.25 364.54M407.62 359.6L405.65 360.97L404.16 358.84L406.13 357.47M403.06 351.42L400.79 352.19L399.95 349.73L402.23 348.96M400.98 342.29L398.59 342.4L398.48 339.8L400.87 339.7M401.55 332.95L399.22 332.38L399.84 329.85L402.17 330.43M404.72 324.14L402.64 322.94L403.95 320.69L406.02 321.89M410.22 316.58L408.57 314.84L410.46 313.04L412.11 314.78M417.63 310.86L416.54 308.72L418.85 307.53L419.95 309.67M426.35 307.45L425.9 305.09L428.45 304.6L428.9 306.95M434.66 306.27L434.37 303.89L436.95 303.57L437.24 305.96M441.67 305.42L441.38 303.04L443.96 302.73L444.25 305.11M449.68 304.46L449.39 302.07L451.97 301.76L452.26 304.14M457.68 303.49L457.4 301.11L459.98 300.8L460.27 303.18M465.69 302.52L465.4 300.14L467.99 299.83L468.27 302.21M473.7 301.56L473.41 299.17L475.99 298.86L476.28 301.24M481.71 300.59L481.42 298.21L484 297.89L484.29 300.28M489.72 299.62L489.43 297.24L492.01 296.93L492.3 299.31M497.73 298.66L497.44 296.27L500.02 295.96L500.31 298.34M505.73 297.69L505.45 295.31L508.03 294.99L508.31 297.38M513.74 296.72L513.45 294.34L516.04 294.03L516.32 296.41M521.75 295.76L521.46 293.37L524.04 293.06L524.33 295.44M530.3 294.6L530.3 292.2L532.9 292.2L532.9 294.6M537.32 294.6L537.32 292.2L539.92 292.2L539.92 294.6M545.34 294.6L545.34 292.2L547.94 292.2L547.94 294.6M553.35 294.6L553.35 292.2L555.95 292.2L555.95 294.6M561.37 294.6L561.37 292.2L563.97 292.2L563.97 294.6M569.39 294.6L569.39 292.2L571.99 292.2L571.99 294.6M577.41 294.6L577.41 292.2L580.01 292.2L580.01 294.6M585.43 294.6L585.43 292.2L588.03 292.2L588.03 294.6M593.45 294.6L593.45 292.2L596.05 292.2L596.05 294.6M601.47 294.6L601.47 292.2L604.07 292.2L604.07 294.6M609.49 294.6L609.49 292.2L612.09 292.2L612.09 294.6M618.08 294.85L618.38 292.47L620.96 292.8L620.66 295.18M625.03 295.75L625.34 293.36L627.92 293.7L627.61 296.08M632.98 296.76L633.29 294.38L635.86 294.71L635.56 297.09M640.93 297.78L641.24 295.4L643.81 295.73L643.51 298.11M648.88 298.8L649.18 296.42L651.76 296.75L651.46 299.13M656.83 299.82L657.13 297.44L659.71 297.77L659.41 300.15M664.78 300.84L665.08 298.46L667.66 298.79L667.36 301.17M672.73 301.86L673.03 299.48L675.61 299.81L675.31 302.19M680.68 302.88L680.98 300.5L683.56 300.83L683.26 303.21M688.63 303.89L688.93 301.51L691.51 301.84L691.2 304.23M696.57 304.91L696.88 302.53L699.46 302.86L699.15 305.24M704.52 305.93L704.83 303.55L707.41 303.88L707.1 306.26M712.47 306.95L712.78 304.57L715.36 304.9L715.05 307.28M719.43 307.84L719.73 305.46L722.31 305.79L722.01 308.17M728.31 309.47L729.12 307.21L731.57 308.09L730.76 310.35M736.74 313.54L738.16 311.61L740.25 313.15L738.83 315.08M743.64 319.86L745.56 318.42L747.12 320.49L745.2 321.94M748.45 327.89L750.7 327.06L751.6 329.49L749.35 330.33M750.75 336.96L753.15 336.8L753.31 339.4L750.92 339.55M750.36 346.31L752.7 346.85L752.12 349.38L749.78 348.84M747.31 355.15L749.4 356.34L748.11 358.6L746.02 357.41M741.85 362.76L743.51 364.49L741.63 366.29L739.97 364.55M734.45 368.48L735.54 370.61L733.22 371.8L732.13 369.66M725.71 371.83L726.14 374.19L723.59 374.66L723.15 372.3M716.89 372.6L716.89 375L714.29 375L714.29 372.6M709.88 372.6L709.88 375L707.28 375L707.28 372.6M701.86 372.6L701.86 375L699.26 375L699.26 372.6M693.84 372.6L693.84 375L691.24 375L691.24 372.6M685.82 372.6L685.82 375L683.22 375L683.22 372.6M677.8 372.6L677.8 375L675.2 375L675.2 372.6M669.78 372.6L669.78 375L667.18 375L667.18 372.6M661.76 372.6L661.76 375L659.16 375L659.16 372.6M653.74 372.6L653.74 375L651.14 375L651.14 372.6M645.72 372.6L645.72 375L643.12 375L643.12 372.6M637.7 372.6L637.7 375L635.1 375L635.1 372.6M629.68 372.6L629.68 375L627.08 375L627.08 372.6M621.66 372.6L621.66 375L619.06 375L619.06 372.6M614.64 372.6L614.64 375L612.04 375L612.04 372.6M606.62 372.6L606.62 375L604.02 375L604.02 372.6M598.6 372.6L598.6 375L596 375L596 372.6M590.58 372.6L590.58 375L587.98 375L587.98 372.6M582.56 372.6L582.56 375L579.96 375L579.96 372.6M574.54 372.6L574.54 375L571.94 375L571.94 372.6M566.52 372.6L566.52 375L563.92 375L563.92 372.6M558.5 372.6L558.5 375L555.9 375L555.9 372.6M550.48 372.6L550.48 375L547.88 375L547.88 372.6M542.46 372.6L542.46 375L539.86 375L539.86 372.6M534.44 372.6L534.44 375L531.84 375L531.84 372.6M527.43 372.6L527.43 375L524.83 375L524.83 372.6M519.41 372.6L519.41 375L516.81 375L516.81 372.6M511.39 372.6L511.39 375L508.79 375L508.79 372.6M503.37 372.6L503.37 375L500.77 375L500.77 372.6M495.35 372.6L495.35 375L492.75 375L492.75 372.6M487.33 372.6L487.33 375L484.73 375L484.73 372.6M479.31 372.6L479.31 375L476.71 375L476.71 372.6M471.29 372.6L471.29 375L468.69 375L468.69 372.6M463.27 372.6L463.27 375L460.67 375L460.67 372.6M455.25 372.6L455.25 375L452.65 375L452.65 372.6M447.23 372.6L447.23 375L444.63 375L444.63 372.6M439.21 372.6L439.21 375L436.61 375L436.61 372.6" stroke-width="1.2" /><g transform="translate(380 220) scale(0.16846)"><path d="M200 745C200 640 260 600 330 590C400 595 440 620 470 650" stroke-width="1.0" /><path d="M215 760C225 820 260 870 310 890" stroke-width="1.0" /><path d="M250 610L500 600L520 620L520 770L250 770Z" /><path d="M290 635H480M290 650H480" stroke-width="1.0" /><path d="M300 715V770M250 790H470V850M280 790V880" /><path d="M540 548L640 545L690 512L880 505M540 548V770M555 560V760" /><path d="M250 768H1662M470 780H1662" stroke-width="1.4" /><path d="M590 640H840L832 690C780 700 760 660 700 665C660 670 640 700 600 690Z" /><circle cx="620" cy="665" r="4" fill="#1c1c1c"/><circle cx="805" cy="665" r="4" fill="#1c1c1c"/><path d="M940 640H1400M1080 512H1260M1080 522H1260" stroke-width="1.0" /><path d="M1510 640H1662M1515 640L1522 690C1560 700 1600 670 1662 662" /><rect x="890" y="690" width="80" height="55" rx="12" stroke-width="1.5"/><path d="M905 695v45M918 695v45M931 695v45M944 695v45" stroke-width="1.4" /><circle cx="955" cy="525" r="38" stroke-width="1.6"/><circle cx="955" cy="525" r="22" stroke-width="1.6"/><circle cx="955" cy="525" r="8"/><rect x="900" y="580" width="110" height="32" rx="8"/><path d="M910 560L925 580M1000 560L985 580M895 545h-25M1015 545h25" stroke-width="1.4" /><circle cx="1385" cy="525" r="38" stroke-width="1.6"/><circle cx="1385" cy="525" r="22" stroke-width="1.6"/><circle cx="1385" cy="525" r="8"/><rect x="1330" y="580" width="110" height="32" rx="8"/><path d="M1340 560L1355 580M1430 560L1415 580M1325 545h-25M1445 545h25" stroke-width="1.4" /><path d="M1010 545H1330M1010 555H1330" stroke-width="1.0" /><path d="M557 790C560 850 590 868 615 868C640 868 670 850 673 790" stroke-width="1.6" /><path d="M577 800C583 840 647 840 653 800" stroke-width="1.2" /><circle cx="615" cy="808" r="14" stroke-width="1.3"/><circle cx="615" cy="808" r="5"/><rect x="693" y="790" width="26" height="45" stroke-width="1.3"/><path d="M742 790C745 850 775 868 800 868C825 868 855 850 858 790" stroke-width="1.6" /><path d="M762 800C768 840 832 840 838 800" stroke-width="1.2" /><circle cx="800" cy="808" r="14" stroke-width="1.3"/><circle cx="800" cy="808" r="5"/><rect x="878" y="790" width="26" height="45" stroke-width="1.3"/><path d="M927 790C930 850 960 868 985 868C1010 868 1040 850 1043 790" stroke-width="1.6" /><path d="M947 800C953 840 1017 840 1023 800" stroke-width="1.2" /><circle cx="985" cy="808" r="14" stroke-width="1.3"/><circle cx="985" cy="808" r="5"/><rect x="1063" y="790" width="26" height="45" stroke-width="1.3"/><path d="M1112 790C1115 850 1145 868 1170 868C1195 868 1225 850 1228 790" stroke-width="1.6" /><path d="M1132 800C1138 840 1202 840 1208 800" stroke-width="1.2" /><circle cx="1170" cy="808" r="14" stroke-width="1.3"/><circle cx="1170" cy="808" r="5"/><rect x="1248" y="790" width="26" height="45" stroke-width="1.3"/><path d="M1297 790C1300 850 1330 868 1355 868C1380 868 1410 850 1413 790" stroke-width="1.6" /><path d="M1317 800C1323 840 1387 840 1393 800" stroke-width="1.2" /><circle cx="1355" cy="808" r="14" stroke-width="1.3"/><circle cx="1355" cy="808" r="5"/><rect x="1433" y="790" width="26" height="45" stroke-width="1.3"/><path d="M1482 790C1485 850 1515 868 1540 868C1565 868 1595 850 1598 790" stroke-width="1.6" /><path d="M1502 800C1508 840 1572 840 1578 800" stroke-width="1.2" /><circle cx="1540" cy="808" r="14" stroke-width="1.3"/><circle cx="1540" cy="808" r="5"/><rect x="1618" y="790" width="26" height="45" stroke-width="1.3"/><path d="M560 880C700 900 860 900 980 875C1100 900 1240 900 1360 875C1480 900 1600 895 1662 885" stroke-width="1.0" /><path d="M835 345H1490V392H850V345M860 392v20h620v-20" /><path d="M890 400h28M940 400h28M990 400h28M1040 400h28M1090 400h28M1140 400h28M1190 400h28M1240 400h28M1290 400h28M1340 400h28M1390 400h28M1440 400h28" stroke-width="2.2" /><path d="M395 235H1662M450 335H1662M640 305H1480" /><path d="M395 235L420 318C428 332 440 336 452 335" /><circle cx="630" cy="435" r="24" stroke-width="1.5"/><circle cx="630" cy="435" r="10"/><path d="M540 400L565 375L600 390L585 450L555 445ZM600 400L720 392L770 430M520 420L430 470L380 500M530 455L440 500M470 470l20 35M430 480l20 40M600 470L760 455" stroke-width="1.3" /><path d="M545 385l20 -15M675 410l15 10" stroke-width="3" /><path d="M0 735L105 700M0 930L160 868" /><path d="M85 800l25 -10" stroke-width="3" /></g><g transform="translate(620 230) scale(0.16846)"><circle cx="585" cy="655" r="72" stroke-width="1.6"/><circle cx="585" cy="655" r="88" stroke-width="1.6"/><path d="M585 655V760M585 560V590M497 655H470M673 655H700" stroke-width="1.4" /><path d="M692.74 647.45L713 655L692.74 662.55M689.8 681.11L706.74 694.55L685.13 695.48M676.6 712.21L688.55 730.24L667.72 724.44M654.44 737.72L660.24 758.55L642.21 746.6M625.48 755.13L624.55 776.74L611.11 759.8M592.55 762.74L585 783L577.45 762.74M558.89 759.8L545.45 776.74L544.52 755.13M527.79 746.6L509.76 758.55L515.56 737.72M502.28 724.44L481.45 730.24L493.4 712.21M484.87 695.48L463.26 694.55L480.2 681.11M477.26 662.55L457 655L477.26 647.45M480.2 628.89L463.26 615.45L484.87 614.52M493.4 597.79L481.45 579.76L502.28 585.56M515.56 572.28L509.76 551.45L527.79 563.4M544.52 554.87L545.45 533.26L558.89 550.2M577.45 547.26L585 527L592.55 547.26M611.11 550.2L624.55 533.26L625.48 554.87M642.21 563.4L660.24 551.45L654.44 572.28M667.72 585.56L688.55 579.76L676.6 597.79M685.13 614.52L706.74 615.45L689.8 628.89" stroke-width="1.2" /><circle cx="585" cy="655" r="106" stroke-width="1.0"/><path d="M380 500V720M395 515V700M380 500L440 510M420 540L440 600L420 680L450 740" stroke-width="1.2" /><path d="M80 580H330L322 630C280 640 250 600 200 605C160 610 130 640 90 630Z" /><circle cx="115" cy="605" r="4" fill="#1c1c1c"/><circle cx="300" cy="605" r="4" fill="#1c1c1c"/><path d="M0 709H400M0 721H370" stroke-width="1.4" /><path d="M57 730C60 790 90 808 115 808C140 808 170 790 173 730" stroke-width="1.6" /><path d="M77 740C83 780 147 780 153 740" stroke-width="1.2" /><circle cx="115" cy="748" r="14" stroke-width="1.3"/><circle cx="115" cy="748" r="5"/><rect x="193" y="730" width="26" height="45" stroke-width="1.3"/><path d="M242 730C245 790 275 808 300 808C325 808 355 790 358 730" stroke-width="1.6" /><path d="M262 740C268 780 332 780 338 740" stroke-width="1.2" /><circle cx="300" cy="748" r="14" stroke-width="1.3"/><circle cx="300" cy="748" r="5"/><rect x="378" y="730" width="26" height="45" stroke-width="1.3"/><path d="M0 450L375 520" stroke-width="1.0" /><path d="M625 0V250C625 265 615 272 600 272H0" /><path d="M245 0V270M262 0V250" stroke-width="1.2" /><path d="M245 20v80" stroke-width="2.6" /><path d="M268 200C275 150 320 120 380 105C440 90 480 50 490 0" stroke-width="1.3" /><path d="M325 190C325 160 345 140 370 132" stroke-width="1.3" /><path d="M385 135L490 138C505 160 500 200 470 228L390 222Z" stroke-width="1.5" /><path d="M400 140L395 222M400 205H470" stroke-width="1.3" /><path d="M585 243h35" stroke-width="1.3" /><path d="M0 176H245" stroke-width="1.15" /></g><g transform="translate(300 80) scale(0.16846)"><path d="M810 232L1430 172L1662 152" /><path d="M750 130L1662 62M760 160L905 150" /><path d="M752 130L760 160" /><path d="M905 150C950 150 970 175 980 200M1035 195C1040 150 1060 135 1090 132L1280 120C1305 120 1320 140 1322 165M1375 160C1380 125 1395 110 1420 108L1662 92" stroke-width="1.1" /><path d="M1000 135v12M1005 170v15M1340 112v12M1342 140v14" stroke-width="2.6" /><path d="M875 215L885 200L930 198L945 212" stroke-width="1.3" /><circle cx="990" cy="235" r="9" fill="#1c1c1c"/><path d="M810 232L870 290L935 262" stroke-width="2.2" /><path d="M1100 215l30 -12l-25 -2zM1190 212L1420 192" stroke-width="1.0" /><path d="M985 292C935 440 915 600 918 760C920 900 930 1000 945 1068" /><path d="M950 292C895 440 872 620 876 800C880 920 890 1010 905 1068" stroke-width="1.0" /><path d="M905 300C860 420 845 560 842 700C840 860 850 960 880 1060" stroke-width="1.0" /><path d="M985 292L1430 250" /><path d="M1035 290L1385 250C1400 250 1405 260 1405 275L1405 745C1405 760 1395 765 1380 768L1180 805C1140 812 1125 840 1110 880L940 900C925 900 920 890 920 870L925 640C935 500 975 370 1010 305C1018 292 1025 290 1035 290Z" /><circle cx="1035" cy="298" r="5" fill="#1c1c1c"/><circle cx="1388" cy="262" r="5" fill="#1c1c1c"/><circle cx="1392" cy="752" r="5" fill="#1c1c1c"/><circle cx="935" cy="880" r="5" fill="#1c1c1c"/><circle cx="1095" cy="870" r="5" fill="#1c1c1c"/><path d="M1255 800h40" stroke-width="3.2" /><path d="M945 930L1095 915L1075 990L965 1000Z" stroke-width="1.6" /><path d="M965 945L1075 935M968 962L1070 952M972 980L1065 972" stroke-width="2.0" /><path d="M1430 172V1068M1450 170V1068" /><path d="M1435 320h18v80h-18z" stroke-width="1.6" /><path d="M1435 870h14v80h-14z" stroke-width="1.4" /><path d="M820 240L900 330L860 420L830 480L810 560L790 640L775 760L780 900L810 1000L850 1030" stroke-width="1.3" /><path d="M800 290L770 460" stroke-width="2.2" /><path d="M850 330L880 350L860 440L835 470L850 520L820 640M880 300L905 345L880 400M840 420l35 15M820 500l35 15" stroke-width="1.3" /><path d="M830 400h30v40h-30zM800 480h25v25h-25z" stroke-width="1.6" /><path d="M740 540l20 15l-15 20M700 620l25 20M715 680l40 30l-15 30l-40 -30zM745 735l25 20" stroke-width="2.2" /><circle cx="860" cy="1005" r="10" fill="#1c1c1c"/><circle cx="875" cy="1045" r="10" fill="#1c1c1c"/><circle cx="830" cy="1020" r="9" fill="#1c1c1c"/><path d="M925 400L890 560M900 640L905 760" stroke-width="1.0" /><path d="M1468 240L1630 228C1645 228 1650 240 1652 255L1662 400" /><path d="M1452 810L1662 765" /></g><g transform="translate(520 80) scale(0.16846)"><path d="M0 95L450 60L500 68" /><path d="M70 152C75 120 90 108 115 106L270 98C295 98 305 115 305 140M370 150C375 110 395 92 425 88" stroke-width="1.1" /><path d="M30 118v12M35 140v10M330 88v12M335 125v14" stroke-width="2.6" /><path d="M425 75H500V150H425Z" stroke-width="1.5" /><path d="M425 130H500M430 120H498" stroke-width="2.0" /><path d="M370 160H520M500 150L520 160L510 200" stroke-width="1.2" /><path d="M380 165C430 190 465 230 480 290L505 600" /><path d="M360 235H460C478 235 482 250 484 270L500 520" stroke-width="1.4" /><circle cx="365" cy="188" r="8" fill="#1c1c1c"/><circle cx="362" cy="238" r="8" fill="#1c1c1c"/><circle cx="415" cy="250" r="7" fill="#1c1c1c"/><circle cx="440" cy="255" r="7" fill="#1c1c1c"/><path d="M128 170V1068M148 168V1068" /><path d="M122 325h26v75h-26z" stroke-width="1.6" /><path d="M126 880h16v70h-16z" stroke-width="1.4" /><path d="M0 195L100 190M235 188L330 182" stroke-width="1.0" /><path d="M0 250L85 248C97 248 100 258 100 272L100 745L0 790" /><path d="M160 230L312 228C328 228 332 240 334 255L350 470C352 560 300 660 160 750C150 752 148 745 148 735L148 245C148 235 152 230 160 230Z" /><circle cx="318" cy="240" r="5" fill="#1c1c1c"/><circle cx="158" cy="742" r="5" fill="#1c1c1c"/><path d="M148 810L470 730M148 795L470 715" stroke-width="1.0" /><rect x="278" y="796" width="45" height="18" rx="9" stroke-width="1.3"/><path d="M275 845L400 821.25" stroke-width="3.6" stroke="#1c1c1c" stroke-linecap="round"/><path d="M275 845L400 821.25" stroke-width="1.5" stroke="#fff" stroke-linecap="round"/><path d="M255 882L390 856.35" stroke-width="3.6" stroke="#1c1c1c" stroke-linecap="round"/><path d="M255 882L390 856.35" stroke-width="1.5" stroke="#fff" stroke-linecap="round"/><path d="M240 915L375 889.35" stroke-width="3.6" stroke="#1c1c1c" stroke-linecap="round"/><path d="M240 915L375 889.35" stroke-width="1.5" stroke="#fff" stroke-linecap="round"/><path d="M225 945L360 919.35" stroke-width="3.6" stroke="#1c1c1c" stroke-linecap="round"/><path d="M225 945L360 919.35" stroke-width="1.5" stroke="#fff" stroke-linecap="round"/><path d="M205 975L345 948.4" stroke-width="3.6" stroke="#1c1c1c" stroke-linecap="round"/><path d="M205 975L345 948.4" stroke-width="1.5" stroke="#fff" stroke-linecap="round"/><path d="M195 1002L335 975.4" stroke-width="3.6" stroke="#1c1c1c" stroke-linecap="round"/><path d="M195 1002L335 975.4" stroke-width="1.5" stroke="#fff" stroke-linecap="round"/><circle cx="455" cy="980" r="9" fill="#1c1c1c"/><path d="M470 640V1068M480 640V1068" stroke-width="1.0" /><path d="M480 640C560 620 610 590 630 522L835 522V1060H480" /><path d="M640 575H800M615 603H800" stroke-width="1.0" /><path d="M845 522V1060M835 522H845" /><path d="M838 640v80M838 910v90" stroke-width="2.6" /><path d="M860 660V1000M878 680V990" stroke-width="1.0" /><rect x="525" y="950" width="75" height="78" rx="16" stroke-width="2.2"/><path d="M540 968h45v30h-45zM548 1008h30" stroke-width="1.6" /><path d="M515 385C505 360 520 335 545 332H625C650 335 665 360 655 385ZM518 350H652M516 365H655" stroke-width="1.5" /><path d="M548 385V470H618V385M540 470H625V512H540Z" stroke-width="1.5" /><path d="M480 480L540 500M490 540L590 545M500 600C560 590 590 570 600 540M520 610C570 600 600 570 612 530" stroke-width="1.8" /><circle cx="565" cy="545" r="10" fill="#1c1c1c"/><path d="M790 455L820 420H950V515M700 515V485L735 480" /><rect x="738" y="455" width="150" height="42" rx="18" stroke-width="1.8"/><rect x="752" y="466" width="122" height="22" rx="10" stroke-width="1.4"/><path d="M700 520H960M830 432H925" stroke-width="1.3" /><path d="M845 522L1000 520C1080 520 1120 525 1140 540L1215 582V840L1165 846" /><path d="M1005 528C1030 600 1070 740 1090 860M1030 530C1060 620 1090 740 1115 835M1050 560L1120 800" stroke-width="1.2" /><path d="M870 575L935 548M950 575L1010 552M1090 548H1125" stroke-width="1.0" /><path d="M850 590l25 8" stroke-width="1.0" /><path d="M1140 545L1165 846M1165 846L1090 862" /><circle cx="1155" cy="605" r="10" fill="#1c1c1c"/><path d="M1190 770v35" stroke-width="3.6" /><path d="M1222 582V1068" /><path d="M1100 830l30 25M1105 895h25" stroke-width="1.4" /><path d="M985 410V355C990 320 1010 300 1035 280L1095 225H1100" /><path d="M1100 225V282L1060 318C1045 335 1040 350 1040 410" /><path d="M985 372H1040M1000 318L1050 345" stroke-width="1.0" /><path d="M975 415H1125V460H975ZM975 415V520" stroke-width="1.3" /><path d="M1000 425v25M1020 425v20M1050 425v45M1085 425v30M1100 425v20M1040 470h30l-15 35z" stroke-width="2.4" /><path d="M1125 462L1160 395L1200 420L1210 520" stroke-width="1.3" /><path d="M1130 470l15 -35" stroke-width="1.0" /><path d="M935 870C905 900 915 935 950 950M1060 875C1085 905 1060 945 1010 948" stroke-width="1.5" /><path d="M995 848H960V948H990" stroke-width="2.2" /><path d="M880 1068C900 1020 960 1000 1010 990C1060 975 1085 930 1080 880" stroke-width="1.3" /><path d="M930 1068C950 1030 1000 1015 1060 1020M975 1030V1068M975 1030H1080L1095 1068" stroke-width="1.4" /></g><g transform="translate(225 300) scale(0.09990)"><path d="M1020 420C1090 520 1125 650 1095 780C1080 850 1055 900 1040 935L1215 910C1255 800 1265 700 1250 580L1250 462L1215 436Z" /><path d="M1250 582C1300 605 1350 600 1400 570L1662 405" /><path d="M1215 910L1662 720" /><path d="M1125 625v60M1217 655v60" stroke-width="2.6" /><rect x="-30" y="-10" width="60" height="20" transform="translate(1390 692) rotate(-22)" stroke-width="1.8"/><circle cx="1208" cy="468" r="7" fill="#1c1c1c"/></g><g transform="translate(80 80) scale(0.16846)"><path d="M430 580C380 585 350 612 352 645C355 676 380 692 412 688L482 682L1662 480" /><path d="M430 580L1225 398" /><circle cx="397" cy="643" r="11"/><circle cx="397" cy="643" r="23" stroke-width="1.8"/><path d="M432 605v20M432 655v20M455 600l10 60l-8 25" stroke-width="2.4" /><path d="M464 520L1165 322L1205 283M470 533L979 390L1170 338M527 548L979 412L1225 340" /><path d="M430 528l30 -10" stroke-width="3" /><path d="M1205 283l12 -14" stroke-width="2.5" /><rect x="-11" y="-47.5" width="22" height="95" transform="translate(500 536) rotate(-14)" stroke-width="1.2" fill="#1c1c1c"/><rect x="-11" y="-50" width="22" height="100" transform="translate(1050 387) rotate(-14)" stroke-width="1.2" fill="#1c1c1c"/><rect x="-10" y="-9" width="20" height="18" transform="translate(603 510) rotate(-14)" stroke-width="1" fill="#1c1c1c"/><rect x="-10" y="-9" width="20" height="18" transform="translate(950 412) rotate(-14)" stroke-width="1" fill="#1c1c1c"/></g><g transform="translate(185 100) scale(0.09625)"><path d="M1055 490C1120 400 1200 300 1290 205" /><path d="M1055 490C1200 470 1330 410 1430 355C1520 310 1600 280 1662 265" /><circle cx="1375" cy="240" r="18"/><circle cx="1375" cy="240" r="40" stroke-width="1.5"/><path d="M1335 215C1380 185 1440 200 1482 240C1440 285 1380 295 1335 262" /><circle cx="1462" cy="240" r="8" fill="#1c1c1c"/><path d="M1240 190L1245 95L1275 95L1275 120L1300 120L1300 92L1335 92L1340 185" stroke-width="2.0" /><path d="M1340 120L1440 118M1340 140L1420 135" stroke-width="1.8" /><path d="M1200 200L1215 270" stroke-width="2" /><path d="M1425 140L1714 131" /><rect x="-67.5" y="-67.5" width="135" height="135" transform="translate(1605 390) rotate(-10)" stroke-width="1.5"/><circle cx="1605" cy="390" r="35"/><circle cx="1550" cy="335" r="9" fill="#1c1c1c"/><circle cx="1650" cy="320" r="9" fill="#1c1c1c"/><circle cx="1565" cy="450" r="9" fill="#1c1c1c"/><circle cx="1662" cy="435" r="9" fill="#1c1c1c"/><rect x="-47.5" y="-32.5" width="95" height="65" transform="translate(1550 770) rotate(38)" stroke-width="1.5"/><path d="M1470 725L1500 700L1560 740" stroke-width="2.2" /></g><g transform="translate(350 95) scale(0.09625)"><path d="M0 185L560 130C600 118 650 110 700 140" /><path d="M0 292C100 262 220 252 400 262C470 268 520 275 545 282" /><path d="M0 700L180 660L262 640" /><path d="M20 320L45 430" stroke-width="2.4" /><circle cx="195" cy="585" r="20"/><circle cx="195" cy="585" r="42" stroke-width="1.5"/><path d="M225 545C170 520 120 560 88 592C120 625 180 650 235 615" /><path d="M90 592l25 -12l0 24z" fill="#1c1c1c" /><path d="M120 150v-80h45v80M70 165v-25h40" stroke-width="2.4" /></g><g transform="translate(317.34 123.1) rotate(170.38)"><path d="M0 -4.65H10M0 4.65H10"/><path d="M10 -7.75H127M10 7.75H127M10 -7.75V7.75"/><path d="M114 -8.55V8.55M119.85 -8.55V8.55"/><rect x="124.4" y="-8.95" width="2.6" height="17.9" fill="#1c1c1c"/><path d="M127 -3.2H210.78M127 3.2H210.78"/></g><g transform="translate(185 100) scale(0.09625)"><path d="M215 268L745 190L1240 148M220 292L1240 166" /><path d="M120 350L125 265L150 265L150 285L185 285L185 255L210 255L225 345" stroke-width="2.0" /><rect x="-22.5" y="-115" width="45" height="230" transform="translate(270 445) rotate(-9)" stroke-width="1.4"/><rect x="-16" y="-80" width="32" height="160" transform="translate(335 580) rotate(-14)" stroke-width="1.0" fill="#1c1c1c"/><rect x="-16" y="-85" width="32" height="170" transform="translate(760 470) rotate(-14)" stroke-width="1.0" fill="#1c1c1c"/><rect x="-15" y="-15" width="30" height="30" transform="translate(572 520) rotate(-14)" stroke-width="1" fill="#1c1c1c"/><path d="M950 375L1010 300L1030 275" stroke-width="2.4" /></g><g transform="translate(350 95) scale(0.09625)"><path d="M575 150C600 120 660 110 700 140L880 255L965 340" /><path d="M575 150L545 290L520 430L495 520L420 560C395 585 395 640 425 685L480 740C520 775 580 775 620 740C680 680 730 670 780 690L870 750" /><path d="M545 370L710 430L660 575L500 522" /><circle cx="638" cy="215" r="20"/><circle cx="638" cy="215" r="42" stroke-width="1.8"/><path d="M690 180l70 40l-30 100l-70 -40" stroke-width="2.0" /><path d="M700 215l40 20M690 260l40 22" stroke-width="2.5" /><circle cx="445" cy="605" r="25"/><circle cx="540" cy="680" r="22"/><circle cx="540" cy="680" r="46" stroke-width="2.4"/><path d="M505 525l110 35" stroke-width="2.6" /><path d="M880 340L830 655" stroke-width="2.2" /><path d="M285 572L490 705M620 760L850 935M250 655L780 995" /><path d="M760 780l40 20l-15 40l-40 -20zM700 915l35 20l-12 30l-35 -20z" stroke-width="1.5" fill="#1c1c1c" /><path d="M740 1000l60 40l-40 30" stroke-width="2" /></g></g><g id="frontview" stroke-width="1.1"><g transform="translate(300 540) scale(0.16846)"><path d="M75 615L205 550L230 556L215 600L130 650L105 615M150 585L170 625M110 650L100 765" /><rect x="68" y="760" width="108" height="222" stroke-width="1.6" rx="22"/><path d="M85 780C120 770 150 770 165 790M90 800V960M165 800L160 950M95 940C120 960 150 955 165 940" stroke-width="1.2" /><path d="M70 850h55v35h-55zM85 850v35" stroke-width="2.0" /><path d="M135 930l25 20" stroke-width="2" /><rect x="70" y="985" width="105" height="90" stroke-width="1.6" rx="10"/><path d="M80 1040h60M80 1060h70M100 990v78" stroke-width="2" /><path d="M260 600H560M260 600L330 900C335 925 325 932 300 932L180 935" /><path d="M275 675H310M330 675H430M455 675H545" stroke-width="1.3" /><path d="M440 600V1068" /><path d="M270 690L370 990M300 722L350 880" stroke-width="1.3" /><path d="M432 440C425 410 440 388 465 385H570C595 388 605 410 598 440ZM436 405H596M434 420H598" stroke-width="1.5" /><path d="M482 440V545H560V440M470 545H570V600H470Z" stroke-width="1.5" /><rect x="370" y="495" width="75" height="105" stroke-width="1.6"/><rect x="382" y="510" width="52" height="45" stroke-width="2.4"/><path d="M395 515v35M408 515v35M421 515v35M385 570h45M385 585h45" stroke-width="1.8" /><path d="M530 975H1085M530 992H1085" stroke-width="1.8" /><path d="M530 975V1068M552 992V1068M1085 975V1068M1062 992V1068" /><rect x="778" y="985" width="60" height="70" stroke-width="1.8"/><path d="M720 1068V1040C720 1015 740 1005 770 1005M895 1068V1030C895 1012 880 1005 846 1005" stroke-width="2.2" /><path d="M1050 330V975M1075 460V900" stroke-width="1.3" /></g><g transform="translate(390 555) scale(0.15361)"><path d="M148 62L160 52L172 62H285L297 50L309 62H425L437 52L449 62V125H462V250L478 335L548 440V570H52V440L122 335L138 250V125H148Z" stroke-width="1.0" fill="#262626" /><rect x="200" y="560" width="55" height="300" fill="#262626" stroke="none"/><rect x="345" y="560" width="55" height="300" fill="#262626" stroke="none"/><circle cx="124" cy="712" r="62" fill="#262626" stroke="none"/><rect x="62" y="600" width="124" height="112" fill="#262626" stroke="none"/><circle cx="124" cy="735" r="20" fill="none" stroke="#fff" stroke-width="0.9"/><rect x="74" y="770" width="100" height="22" fill="#262626" stroke="none"/><rect x="86" y="790" width="76" height="50" fill="none" stroke="#262626" stroke-width="1.2"/><rect x="64" y="575" width="120" height="40" fill="#262626" stroke="none"/><circle cx="476" cy="712" r="62" fill="#262626" stroke="none"/><rect x="414" y="600" width="124" height="112" fill="#262626" stroke="none"/><circle cx="476" cy="735" r="20" fill="none" stroke="#fff" stroke-width="0.9"/><rect x="426" y="770" width="100" height="22" fill="#262626" stroke="none"/><rect x="438" y="790" width="76" height="50" fill="none" stroke="#262626" stroke-width="1.2"/><rect x="416" y="575" width="120" height="40" fill="#262626" stroke="none"/><path d="M32 600V800M568 600V800M52 570L32 600M548 570L568 600" stroke-width="2.6" /><path d="M196 100l9 -11l9 11l-9 8z" stroke-width="0.5" fill="#fff" /><path d="M241 100l9 -11l9 11l-9 8z" stroke-width="0.5" fill="#fff" /><path d="M288 100l9 -11l9 11l-9 8z" stroke-width="0.5" fill="#fff" /><path d="M336 100l9 -11l9 11l-9 8z" stroke-width="0.5" fill="#fff" /><path d="M381 100l9 -11l9 11l-9 8z" stroke-width="0.5" fill="#fff" /><path d="M423 100l9 -11l9 11l-9 8z" stroke-width="0.5" fill="#fff" /><path d="M160 70H440" stroke-width="2.2" /><rect x="174" y="135" width="8" height="100" fill="#fff" stroke="none"/><rect x="201" y="135" width="8" height="100" fill="#fff" stroke="none"/><rect x="228" y="135" width="8" height="100" fill="#fff" stroke="none"/><rect x="364" y="135" width="8" height="100" fill="#fff" stroke="none"/><rect x="391" y="135" width="8" height="100" fill="#fff" stroke="none"/><rect x="418" y="135" width="8" height="100" fill="#fff" stroke="none"/><rect x="250" y="135" width="95" height="22" fill="#fff" stroke="none"/><path d="M257 300V230C257 200 275 186 298 186C321 186 339 200 339 230V300Z" stroke-width="0.8" fill="#fff" /><path d="M268 300V238C268 215 282 205 298 205C314 205 328 215 328 238V300M262 262H334M270 282H326M298 190V240" stroke-width="2.4" /><path d="M240 150l30 30M255 145l25 25" stroke-width="2.0" /><circle cx="225" cy="305" r="6" stroke-width="0.5" fill="#fff"/><circle cx="250" cy="330" r="6" stroke-width="0.5" fill="#fff"/><circle cx="255" cy="430" r="6" stroke-width="0.5" fill="#fff"/><circle cx="235" cy="395" r="6" stroke-width="0.5" fill="#fff"/><circle cx="370" cy="305" r="6" stroke-width="0.5" fill="#fff"/><circle cx="345" cy="330" r="6" stroke-width="0.5" fill="#fff"/><circle cx="340" cy="430" r="6" stroke-width="0.5" fill="#fff"/><circle cx="360" cy="395" r="6" stroke-width="0.5" fill="#fff"/><circle cx="298" cy="320" r="6" stroke-width="0.5" fill="#fff"/><path d="M276 452V395C276 375 286 366 298 366C310 366 320 375 320 395V452Z" stroke-width="0.8" fill="#fff" /><rect x="262" y="462" width="76" height="98" fill="#fff" stroke-width="1"/><rect x="255" y="560" width="90" height="300" fill="#fff" stroke="none"/><path d="M262 575H338M270 590H330M280 560v15M316 560v15" stroke-width="3.0" /><path d="M268 612H332M280 640H320M255 660H345" stroke-width="2.2" /><path d="M270 745H330" stroke-width="2.0" /><path d="M255 560V860M345 560V860" stroke-width="2.4" /><path d="M268 900V835C268 810 282 800 298 800C314 800 328 810 328 835V900" stroke-width="2.2" /><path d="M262 880C280 905 316 905 334 880" stroke-width="2.0" /><rect x="150" y="372" width="36" height="66" fill="#fff" stroke="none"/><rect x="150" y="462" width="36" height="66" fill="#fff" stroke="none"/><path d="M168 372V438M168 462V528" stroke-width="3.0" /><rect x="156" y="262" width="24" height="40" fill="#fff" stroke="none"/><rect x="410" y="372" width="36" height="66" fill="#fff" stroke="none"/><rect x="410" y="462" width="36" height="66" fill="#fff" stroke="none"/><path d="M428 372V438M428 462V528" stroke-width="3.0" /><rect x="416" y="262" width="24" height="40" fill="#fff" stroke="none"/><rect x="140" y="255" width="12" height="70" fill="#fff" stroke="none"/><rect x="448" y="255" width="12" height="70" fill="#fff" stroke="none"/><rect x="196" y="370" width="10" height="160" fill="#fff" stroke="none"/><rect x="394" y="370" width="10" height="160" fill="#fff" stroke="none"/><rect x="110" y="372" width="30" height="50" fill="#fff" stroke="none"/><rect x="460" y="372" width="30" height="50" fill="#fff" stroke="none"/><rect x="222" y="462" width="26" height="90" fill="#fff" stroke="none"/><rect x="352" y="462" width="26" height="90" fill="#fff" stroke="none"/><rect x="212" y="600" width="10" height="240" fill="#fff" stroke="none"/><rect x="378" y="600" width="10" height="240" fill="#fff" stroke="none"/><rect x="232" y="600" width="8" height="240" fill="#fff" stroke="none"/><rect x="360" y="600" width="8" height="240" fill="#fff" stroke="none"/><rect x="62" y="455" width="34" height="100" fill="#fff" stroke="none"/><rect x="502" y="455" width="34" height="100" fill="#fff" stroke="none"/><path d="M120 345L58 440M478 345L540 440" stroke-width="3.0" /><path d="M100 345L45 430M498 345L555 430" stroke-width="1.4" /><path d="M98 595V700C98 735 150 735 150 700V640" stroke="#fff" stroke-width="3.4" stroke-linecap="butt"/><path d="M502 595V700C502 735 450 735 450 700V640" stroke="#fff" stroke-width="3.4" stroke-linecap="butt"/><path d="M86 595V700C86 752 162 752 162 700V640M110 595V700C110 720 138 720 138 700V640" stroke-width="1.6" /><path d="M514 595V700C514 752 438 752 438 700V640M490 595V700C490 720 462 720 462 700V640" stroke-width="1.6" /><circle cx="70" cy="740" r="5" stroke-width="0.5" fill="#fff"/><circle cx="178" cy="740" r="5" stroke-width="0.5" fill="#fff"/><circle cx="124" cy="765" r="5" stroke-width="0.5" fill="#fff"/><circle cx="422" cy="740" r="5" stroke-width="0.5" fill="#fff"/><circle cx="530" cy="740" r="5" stroke-width="0.5" fill="#fff"/><circle cx="476" cy="765" r="5" stroke-width="0.5" fill="#fff"/><circle cx="60" cy="690" r="5" stroke-width="0.5" fill="#fff"/><circle cx="540" cy="690" r="5" stroke-width="0.5" fill="#fff"/><path d="M112 850V960M132 850V960M468 850V960M488 850V960" stroke-width="1.6" /><path d="M40 600V960M58 640V960M185 850V960M202 850V960M398 850V960M415 850V960M560 640V960M542 880V960" stroke-width="1.8" /><path d="M225 850C235 900 250 930 268 940M375 850C365 900 350 930 332 940" stroke-width="3.2" /><circle cx="298" cy="920" r="9" fill="#262626"/><path d="M282 930V965M314 930V965" stroke-width="2.6" /><path d="M30 445V565M12 450V560" stroke-width="3.0" /></g><g transform="translate(440 540) scale(0.16846)"><rect x="220" y="65" width="650" height="140" stroke-width="1.8"/><path d="M220 100H870M220 145H870M220 185H870" stroke-width="1.6" /><path d="M235 115H855M235 130H855" stroke-width="3.0" /><path d="M290 65V205M355 65V205M420 65V205M490 65V205M600 65V205M685 65V205M750 65V205M815 65V205" stroke-width="1.6" /><circle cx="262" cy="84" r="6" fill="#1c1c1c"/><circle cx="262" cy="166" r="6" fill="#1c1c1c"/><circle cx="322" cy="84" r="6" fill="#1c1c1c"/><circle cx="322" cy="166" r="6" fill="#1c1c1c"/><circle cx="385" cy="84" r="6" fill="#1c1c1c"/><circle cx="385" cy="166" r="6" fill="#1c1c1c"/><circle cx="715" cy="84" r="6" fill="#1c1c1c"/><circle cx="715" cy="166" r="6" fill="#1c1c1c"/><circle cx="780" cy="84" r="6" fill="#1c1c1c"/><circle cx="780" cy="166" r="6" fill="#1c1c1c"/><circle cx="838" cy="84" r="6" fill="#1c1c1c"/><circle cx="838" cy="166" r="6" fill="#1c1c1c"/><path d="M500 95C510 75 530 72 560 75L595 80V98" stroke-width="1.4" /><path d="M305 197H400M480 197H510M590 197H620M700 197H790" stroke-width="3.0" /><path d="M222 205L290 235M870 205L805 235M222 205V235M870 205V235" stroke-width="1.6" /><path d="M340 272H760M340 290H760" stroke-width="1.6" /><rect x="222" y="238" width="118" height="95" stroke-width="2.2"/><path d="M232 250L282 320M282 250L242 320M292 250h40v60h-40z" stroke-width="2.2" /><path d="M227 285H334" stroke-width="3" /><rect x="762" y="238" width="118" height="95" stroke-width="2.2"/><path d="M772 250L822 320M822 250L782 320M832 250h40v60h-40z" stroke-width="2.2" /><path d="M767 285H874" stroke-width="3" /><circle cx="330" cy="270" r="16" stroke-width="3"/><circle cx="772" cy="270" r="16" stroke-width="3"/><path d="M255 335v55M275 335v60M298 335v50M805 335v55M830 335v60M850 335v50" stroke-width="2.0" /><path d="M222 235V1068M880 0V1068" /><path d="M305 1068V360C305 320 325 292 355 290M795 1068V360C795 320 775 292 745 290" /><path d="M245 470V880M258 480V700" stroke-width="1.1" /><path d="M845 500V960M862 560V1068M895 380V1068" stroke-width="1.2" /><path d="M850 390L880 470M862 380L890 450" stroke-width="2.2" /><path d="M545 268L600 240L680 225C700 225 712 240 716 260L700 272H548Z" stroke-width="1.5" /><path d="M575 262L640 245L690 240M600 268L615 255" stroke-width="1.3" /><path d="M485 292H745L735 330L620 335L500 356Z" stroke-width="1.4" /><circle cx="528" cy="322" r="12" stroke-width="2.6"/><circle cx="570" cy="322" r="12" stroke-width="2.6"/><path d="M515 330L652 608M541 322L672 588M558 330L680 592M582 322L692 582" stroke-width="1.5" /><path d="M678 440L674 775" stroke-width="3.2" /><ellipse cx="676" cy="605" rx="32" ry="11" stroke-width="2"/><rect x="925" y="390" width="120" height="215" stroke-width="1.8" rx="22"/><rect x="940" y="405" width="92" height="185" stroke-width="1.0" rx="14"/><circle cx="995" cy="490" r="17" stroke-width="3"/><rect x="865" y="540" width="70" height="36" stroke-width="1.6"/><path d="M925 520C925 490 950 485 980 485" stroke-width="2" /><path d="M905 930h15" stroke-width="4" /><path d="M870 1068l12 -30" stroke-width="1.5" /></g><g transform="translate(300 700) scale(0.16846)"><rect x="70" y="0" width="105" height="150" stroke-width="1.6" rx="12"/><path d="M80 20h80M80 60h80M100 70h40v40h-40zM78 120h85" stroke-width="1.8" /><path d="M100 150V300M85 180V260" stroke-width="1.4" /><path d="M440 0V290M345 0L385 180" stroke-width="1.2" /><path d="M95 290H540M100 290V375C100 392 110 400 125 400H540" /><path d="M100 185L225 270H450M180 215H440M120 190L240 285M440 215L430 270" stroke-width="1.5" /><rect x="452" y="200" width="45" height="100" stroke-width="2.0"/><path d="M460 215v70M488 215v70" stroke-width="1.8" /><circle cx="205" cy="365" r="30" stroke-width="1.8"/><circle cx="280" cy="365" r="30" stroke-width="1.8"/><path d="M160 330C150 360 160 390 180 398M230 312C280 305 340 310 375 322M215 325C260 318 310 325 345 345C330 370 320 385 318 398" stroke-width="1.4" /><path d="M400 370H450M470 370H540M410 380l20 -8M430 320l8 40" stroke-width="1.5" /><path d="M530 25H1090V770M530 25V770M555 50V770M1062 50V770M540 50H1080" stroke-width="1.5" /><path d="M590 245H720M895 245H1025M580 415H700M895 415H1030M565 650H700M910 650H1050" stroke-width="1.8" /><path d="M540 770H690M940 770H1080M560 785H680M950 785H1070" stroke-width="1.5" /><path d="M1082 200h22v60h-22zM518 420h14v50h-14z" stroke-width="1.5" /><path d="M760 0V440M870 0V440M790 100V420M842 100V400" stroke-width="1.5" /><path d="M760 430C780 470 850 470 870 430M748 455C780 505 850 505 880 455M740 470V540C780 590 850 590 878 540V470" stroke-width="1.8" /><path d="M770 590V1010C770 1035 860 1035 860 1010V590M792 600V1000M838 600V1000" stroke-width="1.6" /><path d="M795 1010C800 1030 830 1030 835 1010" stroke-width="1.4" /><rect x="778" y="0" width="60" height="95" stroke-width="1.8"/><path d="M722 130V85C722 65 740 58 770 58M712 130h20M895 110V78C895 62 880 58 846 58M888 110h18" stroke-width="2.4" /><path d="M795 170L712 350V460M815 180L728 360V455" stroke-width="1.6" /><rect x="690" y="455" width="46" height="80" stroke-width="2.0"/><path d="M700 640V1068M935 640V1068" stroke-width="3.6" /><path d="M725 640V1068M745 660V1068M885 660V1068M908 640V1068" stroke-width="2.4" /><path d="M690 700V800M690 980V1068M945 720V800M920 980V1068" stroke-width="4" /><path d="M700 640H760M870 640H935" stroke-width="3" /><circle cx="735" cy="700" r="6" fill="#1c1c1c"/><circle cx="897" cy="700" r="6" fill="#1c1c1c"/><circle cx="735" cy="760" r="6" fill="#1c1c1c"/><circle cx="897" cy="760" r="6" fill="#1c1c1c"/><circle cx="735" cy="830" r="6" fill="#1c1c1c"/><circle cx="897" cy="830" r="6" fill="#1c1c1c"/><circle cx="735" cy="900" r="6" fill="#1c1c1c"/><circle cx="897" cy="900" r="6" fill="#1c1c1c"/><circle cx="735" cy="960" r="6" fill="#1c1c1c"/><circle cx="897" cy="960" r="6" fill="#1c1c1c"/><circle cx="735" cy="1030" r="6" fill="#1c1c1c"/><circle cx="897" cy="1030" r="6" fill="#1c1c1c"/><path d="M1135 0V120C1140 185 1170 215 1215 215H1560C1600 215 1632 185 1640 120V0" /><path d="M1120 120V290M1085 290H1700M1170 380H1690" /><circle cx="1160" cy="182" r="5" fill="#1c1c1c"/><circle cx="1600" cy="180" r="5" fill="#1c1c1c"/><rect x="1480" y="310" width="155" height="72" stroke-width="1.8" rx="30"/><circle cx="1520" cy="348" r="27" stroke-width="1.6"/><circle cx="1592" cy="348" r="27" stroke-width="1.6"/><rect x="80" y="500" width="298" height="350" stroke-width="1.3"/><path d="M92 508H366M92 524H366M92 540H366M92 556H366M92 572H366M92 588H366M92 604H366M92 620H366M92 636H366" stroke-width="2.3" /><path d="M80 655H378M120 640H338" stroke-width="2.4" /><path d="M80 690H378M80 760H378M100 775H358M80 838H378" stroke-width="1.6" /><path d="M125 845H335" stroke-width="3.2" /><path d="M170 725h120v30h-120zM195 725v30M230 715v40M265 725v30" stroke-width="1.6" /><circle cx="229" cy="808" r="17" stroke-width="1.5"/><circle cx="115" cy="680" r="5" fill="#1c1c1c"/><circle cx="190" cy="680" r="5" fill="#1c1c1c"/><circle cx="270" cy="680" r="5" fill="#1c1c1c"/><circle cx="345" cy="680" r="5" fill="#1c1c1c"/><circle cx="115" cy="795" r="5" fill="#1c1c1c"/><circle cx="115" cy="830" r="5" fill="#1c1c1c"/><circle cx="345" cy="795" r="5" fill="#1c1c1c"/><circle cx="345" cy="830" r="5" fill="#1c1c1c"/><circle cx="185" cy="830" r="5" fill="#1c1c1c"/><circle cx="275" cy="830" r="5" fill="#1c1c1c"/><circle cx="200" cy="790" r="5" fill="#1c1c1c"/><circle cx="260" cy="790" r="5" fill="#1c1c1c"/><path d="M200 678l20 -8l20 8l20 -8" stroke-width="1.4" /><rect x="1435" y="500" width="298" height="350" stroke-width="1.3"/><path d="M1447 508H1721M1447 524H1721M1447 540H1721M1447 556H1721M1447 572H1721M1447 588H1721M1447 604H1721M1447 620H1721M1447 636H1721" stroke-width="2.3" /><path d="M1435 655H1733M1475 640H1693" stroke-width="2.4" /><path d="M1435 690H1733M1435 760H1733M1455 775H1713M1435 838H1733" stroke-width="1.6" /><path d="M1480 845H1690" stroke-width="3.2" /><path d="M1525 725h120v30h-120zM1550 725v30M1585 715v40M1620 725v30" stroke-width="1.6" /><circle cx="1584" cy="808" r="17" stroke-width="1.5"/><circle cx="1470" cy="680" r="5" fill="#1c1c1c"/><circle cx="1545" cy="680" r="5" fill="#1c1c1c"/><circle cx="1625" cy="680" r="5" fill="#1c1c1c"/><circle cx="1700" cy="680" r="5" fill="#1c1c1c"/><circle cx="1470" cy="795" r="5" fill="#1c1c1c"/><circle cx="1470" cy="830" r="5" fill="#1c1c1c"/><circle cx="1700" cy="795" r="5" fill="#1c1c1c"/><circle cx="1700" cy="830" r="5" fill="#1c1c1c"/><circle cx="1540" cy="830" r="5" fill="#1c1c1c"/><circle cx="1630" cy="830" r="5" fill="#1c1c1c"/><circle cx="1555" cy="790" r="5" fill="#1c1c1c"/><circle cx="1615" cy="790" r="5" fill="#1c1c1c"/><path d="M1555 678l20 -8l20 8l20 -8" stroke-width="1.4" /><path d="M385 620L520 578H540M385 665L525 605M400 850L545 770M440 850L560 785M1430 620L1290 578H1215M1430 665L1300 610M1420 850L1290 770M1380 850L1270 785" stroke-width="1.5" /><path d="M455 640V760M500 640V760M560 790V850M600 770V850M640 770V850" stroke-width="1.3" /><circle cx="518" cy="685" r="8" fill="#1c1c1c"/><circle cx="1290" cy="685" r="8" fill="#1c1c1c"/><path d="M380 760H540M1280 760H1435M940 790H1440M950 772H1250" stroke-width="1.4" /><path d="M1230 700V850M1255 580V780M1200 800V850" stroke-width="1.4" /><path d="M1310 640V760M1350 640V760" stroke-width="1.3" /><path d="M1085 440H1280V480H1215M1090 480V780M1215 480V780" stroke-width="1.6" /><path d="M1120 440v-10h25v10M1160 440v-10h25v10" stroke-width="3" /><path d="M1100 560L1170 470M1085 540L1150 460" stroke-width="2.4" /><circle cx="1150" cy="610" r="55" stroke-width="2.6"/><circle cx="1150" cy="610" r="38" stroke-width="1.8"/><path d="M1128 780V660C1128 635 1172 635 1172 660V780" stroke-width="2.0" /><circle cx="1102" cy="590" r="6" fill="#1c1c1c"/><circle cx="1120" cy="565" r="6" fill="#1c1c1c"/><circle cx="1180" cy="565" r="6" fill="#1c1c1c"/><circle cx="1198" cy="590" r="6" fill="#1c1c1c"/><circle cx="1150" cy="555" r="6" fill="#1c1c1c"/><path d="M1100 700v60M1200 700v60" stroke-width="3" /><path d="M60 855H1662M60 720V1068M100 855V1068M75 740V1068" stroke-width="1.5" /><path d="M60 720H82" stroke-width="1.5" /></g><g transform="translate(440 700) scale(0.16846)"></g><path d="M314.1 844.2H590.7M314.1 903.8H590.7M310 822V903.8M594.8 822V903.8M316.8 844.2V903.8M588.2 844.2V903.8M312.5 826V903.8M592.3 826V903.8" stroke-width="1.3" /><path d="M310 822H314M591 822H594.8" stroke-width="1.3" /><path d="M588.9 720V762C588.9 766 586 767.6 583 767.6H497M575.6 700V748.9M580 748.9H588.9M581.5 712V748M584.5 705V740" stroke-width="1.2" /><path d="M578 715v22M583 722v18M586 700l-4 12" stroke-width="2.0" /><path d="M416.5 844V873M457.5 844V873" stroke-width="4" /><path d="M421 844V876M425 848V878M449 848V878M453 844V876" stroke-width="1.6" /><path d="M418 875C420 882 426 882 430 882H444C450 882 455 880 456 875" stroke-width="2" /><path d="M430 844V868C430 874 444 874 444 868V844M433.5 844V868M440.5 844V868" stroke-width="1.4" /><path d="M414 866v10M460 866v10" stroke-width="4" /></g><g id="rightview" stroke-width="1.05"><path d="M1326 69.6C1318.47 72.1 1295.85 78.33 1280.8 84.6C1265.75 90.87 1250.73 98.68 1235.7 107.2C1220.67 115.72 1205.13 125.18 1190.6 135.7C1176.07 146.22 1161.53 158.02 1148.5 170.3C1135.47 182.58 1123.43 196.35 1112.4 209.4C1101.37 222.45 1091.83 235.05 1082.3 248.6C1072.77 262.15 1062.72 278.3 1055.2 290.7C1047.68 303.1 1043.23 311.78 1037.2 323C1031.17 334.22 1024.03 345.67 1019 358C1013.97 370.33 1010.23 383 1007 397C1003.77 411 1001.2 426.75 999.6 442C998 457.25 997.55 473.73 997.4 488.5C997.25 503.27 997.83 516.07 998.7 530.6C999.57 545.13 1000.88 562.47 1002.6 575.7C1004.32 588.93 1006.1 598.45 1009 610C1011.9 621.55 1015.67 633.33 1020 645C1024.33 656.67 1029.67 668.83 1035 680C1040.33 691.17 1046.33 701.83 1052 712C1057.67 722.17 1063.17 731.67 1069 741C1074.83 750.33 1080.33 759.57 1087 768C1093.67 776.43 1100.83 784.93 1109 791.6C1117.17 798.27 1126.42 803.43 1136 808C1145.58 812.57 1155.4 816.33 1166.5 819C1177.6 821.67 1190.57 823.55 1202.6 824C1214.63 824.45 1226.67 823.58 1238.7 821.7C1250.73 819.82 1262.75 816.98 1274.8 812.7C1286.85 808.42 1299.47 803.02 1311 796C1322.53 788.98 1334 779.85 1344 770.6C1354 761.35 1363 751.53 1371 740.5C1379 729.47 1386.5 715.98 1392 704.4C1397.5 692.82 1401 682.57 1404 671C1407 659.43 1409.07 644.5 1410 635C1410.93 625.5 1410.32 620 1409.6 614C1408.88 608 1407.35 603 1405.7 599C1404.05 595 1400.7 591.5 1399.7 590" stroke-width="1.05" /><path d="M1332 76.5C1327.48 79.6 1313.43 88.23 1304.9 95.1C1296.37 101.97 1288.82 108.67 1280.8 117.7C1272.78 126.73 1264.32 138.02 1256.8 149.3C1249.28 160.58 1241.22 173.87 1235.7 185.4C1230.18 196.93 1226.45 208.48 1223.7 218.5C1220.95 228.52 1219.7 236.48 1219.2 245.5C1218.7 254.52 1218.95 262.57 1220.7 272.6C1222.45 282.63 1226.48 296.13 1229.7 305.7C1232.92 315.27 1236.28 323.45 1240 330C1243.72 336.55 1246.2 339 1252 345C1257.8 351 1266.97 360.17 1274.8 366C1282.63 371.83 1291.13 376.67 1299 380C1306.87 383.33 1318.17 385 1322 386" stroke-width="1.05" /><path d="M1028 360.6C1026 366.67 1018.73 383.77 1016 397C1013.27 410.23 1011.1 426.77 1011.6 440C1012.1 453.23 1014.77 464.32 1019 476.4C1023.23 488.48 1029.5 500.47 1037 512.5C1044.5 524.53 1053.5 538.07 1064 548.6C1074.5 559.13 1087.93 568.68 1100 575.7C1112.07 582.72 1124.32 586.98 1136.4 590.7C1148.48 594.42 1160.47 596.62 1172.5 598C1184.53 599.38 1196.57 599.57 1208.6 599C1220.63 598.43 1232.67 597.33 1244.7 594.6C1256.73 591.87 1269.75 586.87 1280.8 582.6C1291.85 578.33 1301.97 573.6 1311 569C1320.03 564.4 1331 557.33 1335 555" stroke-width="1.05" /><g transform="translate(1098.6 360.8) scale(0.633)"><path d="M433.9 372.6L430.39 372.41L426.92 371.85L423.52 370.93L420.25 369.64L417.13 368.02L414.2 366.07L411.49 363.82L409.04 361.3L406.87 358.53L405.01 355.55L403.48 352.38L402.29 349.07L401.46 345.65L401 342.17L400.91 338.65L401.2 335.14L401.86 331.69L402.89 328.32L404.26 325.09L405.98 322.02L408.01 319.14L410.33 316.5L412.92 314.13L415.75 312.04L418.79 310.26L422 308.82L425.34 307.73L428.78 307L431.95 306.6L434.95 306.23L437.95 305.87L440.96 305.51L443.96 305.15L446.96 304.78L449.97 304.42L452.97 304.06L455.97 303.7L458.97 303.33L461.98 302.97L464.98 302.61L467.98 302.25L470.99 301.88L473.99 301.52L476.99 301.16L480 300.8L483 300.43L486 300.07L489.01 299.71L492.01 299.35L495.01 298.98L498.01 298.62L501.02 298.26L504.02 297.9L507.02 297.53L510.03 297.17L513.03 296.81L516.03 296.45L519.04 296.08L522.04 295.72L525.04 295.36L528.05 295L531.6 294.6L534.61 294.6L537.61 294.6L540.62 294.6L543.63 294.6L546.64 294.6L549.64 294.6L552.65 294.6L555.66 294.6L558.66 294.6L561.67 294.6L564.68 294.6L567.69 294.6L570.69 294.6L573.7 294.6L576.71 294.6L579.71 294.6L582.72 294.6L585.73 294.6L588.74 294.6L591.74 294.6L594.75 294.6L597.76 294.6L600.76 294.6L603.77 294.6L606.78 294.6L609.79 294.6L612.79 294.6L616.38 294.64L619.37 295.02L622.35 295.4L625.33 295.78L628.31 296.17L631.29 296.55L634.27 296.93L637.25 297.31L640.23 297.69L643.21 298.08L646.19 298.46L649.18 298.84L652.16 299.22L655.14 299.6L658.12 299.99L661.1 300.37L664.08 300.75L667.06 301.13L670.04 301.51L673.02 301.9L676 302.28L678.98 302.66L681.97 303.04L684.95 303.42L687.93 303.81L690.91 304.19L693.89 304.57L696.87 304.95L699.85 305.33L702.83 305.72L705.81 306.1L708.79 306.48L711.78 306.86L714.76 307.24L717.74 307.63L720.72 308.01L723.87 308.43L727.3 309.19L730.63 310.32L733.82 311.81L736.83 313.63L739.62 315.77L742.16 318.2L744.42 320.9L746.38 323.82L748.01 326.94L749.28 330.21L750.2 333.61L750.74 337.09L750.9 340.6L750.67 344.11L750.07 347.57L749.09 350.95L747.75 354.2L746.07 357.29L744.06 360.18L741.75 362.83L739.16 365.21L736.33 367.3L733.29 369.07L730.07 370.49L726.72 371.56L723.28 372.26L719.77 372.58L716.6 372.6L713.59 372.6L710.58 372.6L707.57 372.6L704.57 372.6L701.56 372.6L698.55 372.6L695.54 372.6L692.54 372.6L689.53 372.6L686.52 372.6L683.51 372.6L680.51 372.6L677.5 372.6L674.49 372.6L671.48 372.6L668.48 372.6L665.47 372.6L662.46 372.6L659.45 372.6L656.45 372.6L653.44 372.6L650.43 372.6L647.42 372.6L644.42 372.6L641.41 372.6L638.4 372.6L635.4 372.6L632.39 372.6L629.38 372.6L626.37 372.6L623.37 372.6L620.36 372.6L617.35 372.6L614.34 372.6L611.34 372.6L608.33 372.6L605.32 372.6L602.31 372.6L599.31 372.6L596.3 372.6L593.29 372.6L590.28 372.6L587.28 372.6L584.27 372.6L581.26 372.6L578.25 372.6L575.25 372.6L572.24 372.6L569.23 372.6L566.23 372.6L563.22 372.6L560.21 372.6L557.2 372.6L554.2 372.6L551.19 372.6L548.18 372.6L545.17 372.6L542.17 372.6L539.16 372.6L536.15 372.6L533.14 372.6L530.14 372.6L527.13 372.6L524.12 372.6L521.11 372.6L518.11 372.6L515.1 372.6L512.09 372.6L509.08 372.6L506.08 372.6L503.07 372.6L500.06 372.6L497.06 372.6L494.05 372.6L491.04 372.6L488.03 372.6L485.03 372.6L482.02 372.6L479.01 372.6L476 372.6L473 372.6L469.99 372.6L466.98 372.6L463.97 372.6L460.97 372.6L457.96 372.6L454.95 372.6L451.94 372.6L448.94 372.6L445.93 372.6L442.92 372.6L439.91 372.6L436.91 372.6Z" stroke-width="1.0" /><path d="M433.9 363.2L431.39 363.07L428.9 362.67L426.48 362L424.14 361.09L421.9 359.92L419.81 358.53L417.87 356.92L416.12 355.12L414.57 353.14L413.24 351.01L412.14 348.74L411.29 346.37L410.7 343.93L410.37 341.44L410.31 338.92L410.52 336.41L410.99 333.94L411.72 331.54L412.7 329.22L413.93 327.02L415.38 324.97L417.04 323.08L418.9 321.38L420.92 319.89L423.09 318.62L425.39 317.59L427.78 316.81L430.24 316.29L433.07 315.93L436.08 315.57L439.08 315.2L442.08 314.84L445.09 314.48L448.09 314.12L451.09 313.75L454.1 313.39L457.1 313.03L460.1 312.67L463.1 312.3L466.11 311.94L469.11 311.58L472.11 311.22L475.12 310.85L478.12 310.49L481.12 310.13L484.13 309.77L487.13 309.4L490.13 309.04L493.14 308.68L496.14 308.32L499.14 307.95L502.14 307.59L505.15 307.23L508.15 306.87L511.15 306.5L514.16 306.14L517.16 305.78L520.16 305.42L523.17 305.05L526.17 304.69L529.17 304.33L531.6 304L534.61 304L537.61 304L540.62 304L543.63 304L546.64 304L549.64 304L552.65 304L555.66 304L558.66 304L561.67 304L564.68 304L567.69 304L570.69 304L573.7 304L576.71 304L579.71 304L582.72 304L585.73 304L588.74 304L591.74 304L594.75 304L597.76 304L600.76 304L603.77 304L606.78 304L609.79 304L612.79 304L615.19 303.96L618.17 304.34L621.15 304.73L624.13 305.11L627.11 305.49L630.09 305.87L633.08 306.25L636.06 306.64L639.04 307.02L642.02 307.4L645 307.78L647.98 308.16L650.96 308.55L653.94 308.93L656.92 309.31L659.9 309.69L662.89 310.07L665.87 310.46L668.85 310.84L671.83 311.22L674.81 311.6L677.79 311.98L680.77 312.37L683.75 312.75L686.73 313.13L689.71 313.51L692.69 313.89L695.68 314.28L698.66 314.66L701.64 315.04L704.62 315.42L707.6 315.8L710.58 316.19L713.56 316.57L716.54 316.95L719.52 317.33L722.33 317.71L724.77 318.25L727.13 319.05L729.39 320.1L731.52 321.39L733.5 322.91L735.3 324.63L736.91 326.54L738.29 328.62L739.45 330.83L740.35 333.15L741 335.56L741.39 338.02L741.5 340.51L741.34 343L740.91 345.46L740.22 347.85L739.27 350.16L738.08 352.35L736.65 354.39L735.01 356.27L733.18 357.96L731.17 359.44L729.01 360.7L726.73 361.71L724.36 362.46L721.91 362.96L719.43 363.18L716.6 363.2L713.59 363.2L710.58 363.2L707.57 363.2L704.57 363.2L701.56 363.2L698.55 363.2L695.54 363.2L692.54 363.2L689.53 363.2L686.52 363.2L683.51 363.2L680.51 363.2L677.5 363.2L674.49 363.2L671.48 363.2L668.48 363.2L665.47 363.2L662.46 363.2L659.45 363.2L656.45 363.2L653.44 363.2L650.43 363.2L647.42 363.2L644.42 363.2L641.41 363.2L638.4 363.2L635.4 363.2L632.39 363.2L629.38 363.2L626.37 363.2L623.37 363.2L620.36 363.2L617.35 363.2L614.34 363.2L611.34 363.2L608.33 363.2L605.32 363.2L602.31 363.2L599.31 363.2L596.3 363.2L593.29 363.2L590.28 363.2L587.28 363.2L584.27 363.2L581.26 363.2L578.25 363.2L575.25 363.2L572.24 363.2L569.23 363.2L566.23 363.2L563.22 363.2L560.21 363.2L557.2 363.2L554.2 363.2L551.19 363.2L548.18 363.2L545.17 363.2L542.17 363.2L539.16 363.2L536.15 363.2L533.14 363.2L530.14 363.2L527.13 363.2L524.12 363.2L521.11 363.2L518.11 363.2L515.1 363.2L512.09 363.2L509.08 363.2L506.08 363.2L503.07 363.2L500.06 363.2L497.06 363.2L494.05 363.2L491.04 363.2L488.03 363.2L485.03 363.2L482.02 363.2L479.01 363.2L476 363.2L473 363.2L469.99 363.2L466.98 363.2L463.97 363.2L460.97 363.2L457.96 363.2L454.95 363.2L451.94 363.2L448.94 363.2L445.93 363.2L442.92 363.2L439.91 363.2L436.91 363.2Z" stroke-width="1.0" /><rect x="-3.6" y="-3.8" width="7.2" height="7.6" transform="translate(433.9 368) rotate(180)" stroke-width="1.2"/><circle cx="433.9" cy="368" r="1.9" stroke-width="1.0"/><rect x="-2.1" y="-3.2" width="4.2" height="6.4" transform="translate(426.91 367.13) rotate(194.26)" stroke-width="1.3"/><rect x="-3.6" y="-3.8" width="7.2" height="7.6" transform="translate(419.46 364.06) rotate(210.55)" stroke-width="1.2"/><circle cx="419.46" cy="364.06" r="1.9" stroke-width="1.0"/><rect x="-2.1" y="-3.2" width="4.2" height="6.4" transform="translate(413.18 359.03) rotate(226.84)" stroke-width="1.3"/><rect x="-3.6" y="-3.8" width="7.2" height="7.6" transform="translate(408.56 352.43) rotate(243.14)" stroke-width="1.2"/><circle cx="408.56" cy="352.43" r="1.9" stroke-width="1.0"/><rect x="-2.1" y="-3.2" width="4.2" height="6.4" transform="translate(405.98 344.81) rotate(259.43)" stroke-width="1.3"/><rect x="-3.6" y="-3.8" width="7.2" height="7.6" transform="translate(405.64 336.77) rotate(-84.28)" stroke-width="1.2"/><circle cx="405.64" cy="336.77" r="1.9" stroke-width="1.0"/><rect x="-2.1" y="-3.2" width="4.2" height="6.4" transform="translate(407.57 328.95) rotate(-67.98)" stroke-width="1.3"/><rect x="-3.6" y="-3.8" width="7.2" height="7.6" transform="translate(411.62 321.99) rotate(-51.69)" stroke-width="1.2"/><circle cx="411.62" cy="321.99" r="1.9" stroke-width="1.0"/><rect x="-2.1" y="-3.2" width="4.2" height="6.4" transform="translate(417.45 316.45) rotate(-35.4)" stroke-width="1.3"/><rect x="-3.6" y="-3.8" width="7.2" height="7.6" transform="translate(424.61 312.76) rotate(-19.1)" stroke-width="1.2"/><circle cx="424.61" cy="312.76" r="1.9" stroke-width="1.0"/><rect x="-2.1" y="-3.2" width="4.2" height="6.4" transform="translate(432.5 311.16) rotate(-6.88)" stroke-width="1.3"/><rect x="-3.6" y="-3.8" width="7.2" height="7.6" transform="translate(439.51 310.32) rotate(-6.88)" stroke-width="1.2"/><circle cx="439.51" cy="310.32" r="1.9" stroke-width="1.0"/><rect x="-2.1" y="-3.2" width="4.2" height="6.4" transform="translate(447.51 309.35) rotate(-6.88)" stroke-width="1.3"/><rect x="-3.6" y="-3.8" width="7.2" height="7.6" transform="translate(455.52 308.38) rotate(-6.88)" stroke-width="1.2"/><circle cx="455.52" cy="308.38" r="1.9" stroke-width="1.0"/><rect x="-2.1" y="-3.2" width="4.2" height="6.4" transform="translate(463.53 307.42) rotate(-6.88)" stroke-width="1.3"/><rect x="-3.6" y="-3.8" width="7.2" height="7.6" transform="translate(471.54 306.45) rotate(-6.88)" stroke-width="1.2"/><circle cx="471.54" cy="306.45" r="1.9" stroke-width="1.0"/><rect x="-2.1" y="-3.2" width="4.2" height="6.4" transform="translate(479.55 305.48) rotate(-6.88)" stroke-width="1.3"/><rect x="-3.6" y="-3.8" width="7.2" height="7.6" transform="translate(487.55 304.52) rotate(-6.88)" stroke-width="1.2"/><circle cx="487.55" cy="304.52" r="1.9" stroke-width="1.0"/><rect x="-2.1" y="-3.2" width="4.2" height="6.4" transform="translate(495.56 303.55) rotate(-6.88)" stroke-width="1.3"/><rect x="-3.6" y="-3.8" width="7.2" height="7.6" transform="translate(503.57 302.58) rotate(-6.88)" stroke-width="1.2"/><circle cx="503.57" cy="302.58" r="1.9" stroke-width="1.0"/><rect x="-2.1" y="-3.2" width="4.2" height="6.4" transform="translate(511.58 301.62) rotate(-6.88)" stroke-width="1.3"/><rect x="-3.6" y="-3.8" width="7.2" height="7.6" transform="translate(519.59 300.65) rotate(-6.88)" stroke-width="1.2"/><circle cx="519.59" cy="300.65" r="1.9" stroke-width="1.0"/><rect x="-2.1" y="-3.2" width="4.2" height="6.4" transform="translate(527.6 299.68) rotate(-6.88)" stroke-width="1.3"/><rect x="-3.6" y="-3.8" width="7.2" height="7.6" transform="translate(534.61 299.2) rotate(0)" stroke-width="1.2"/><circle cx="534.61" cy="299.2" r="1.9" stroke-width="1.0"/><rect x="-2.1" y="-3.2" width="4.2" height="6.4" transform="translate(542.63 299.2) rotate(0)" stroke-width="1.3"/><rect x="-3.6" y="-3.8" width="7.2" height="7.6" transform="translate(550.65 299.2) rotate(0)" stroke-width="1.2"/><circle cx="550.65" cy="299.2" r="1.9" stroke-width="1.0"/><rect x="-2.1" y="-3.2" width="4.2" height="6.4" transform="translate(558.66 299.2) rotate(0)" stroke-width="1.3"/><rect x="-3.6" y="-3.8" width="7.2" height="7.6" transform="translate(566.68 299.2) rotate(0)" stroke-width="1.2"/><circle cx="566.68" cy="299.2" r="1.9" stroke-width="1.0"/><rect x="-2.1" y="-3.2" width="4.2" height="6.4" transform="translate(574.7 299.2) rotate(0)" stroke-width="1.3"/><rect x="-3.6" y="-3.8" width="7.2" height="7.6" transform="translate(582.72 299.2) rotate(0)" stroke-width="1.2"/><circle cx="582.72" cy="299.2" r="1.9" stroke-width="1.0"/><rect x="-2.1" y="-3.2" width="4.2" height="6.4" transform="translate(590.74 299.2) rotate(0)" stroke-width="1.3"/><rect x="-3.6" y="-3.8" width="7.2" height="7.6" transform="translate(598.76 299.2) rotate(0)" stroke-width="1.2"/><circle cx="598.76" cy="299.2" r="1.9" stroke-width="1.0"/><rect x="-2.1" y="-3.2" width="4.2" height="6.4" transform="translate(606.78 299.2) rotate(0)" stroke-width="1.3"/><rect x="-3.6" y="-3.8" width="7.2" height="7.6" transform="translate(614.8 299.2) rotate(0)" stroke-width="1.2"/><circle cx="614.8" cy="299.2" r="1.9" stroke-width="1.0"/><rect x="-2.1" y="-3.2" width="4.2" height="6.4" transform="translate(622.76 300.09) rotate(7.3)" stroke-width="1.3"/><rect x="-3.6" y="-3.8" width="7.2" height="7.6" transform="translate(629.71 300.98) rotate(7.3)" stroke-width="1.2"/><circle cx="629.71" cy="300.98" r="1.9" stroke-width="1.0"/><rect x="-2.1" y="-3.2" width="4.2" height="6.4" transform="translate(637.66 302) rotate(7.3)" stroke-width="1.3"/><rect x="-3.6" y="-3.8" width="7.2" height="7.6" transform="translate(645.61 303.02) rotate(7.3)" stroke-width="1.2"/><circle cx="645.61" cy="303.02" r="1.9" stroke-width="1.0"/><rect x="-2.1" y="-3.2" width="4.2" height="6.4" transform="translate(653.56 304.04) rotate(7.3)" stroke-width="1.3"/><rect x="-3.6" y="-3.8" width="7.2" height="7.6" transform="translate(661.51 305.06) rotate(7.3)" stroke-width="1.2"/><circle cx="661.51" cy="305.06" r="1.9" stroke-width="1.0"/><rect x="-2.1" y="-3.2" width="4.2" height="6.4" transform="translate(669.46 306.08) rotate(7.3)" stroke-width="1.3"/><rect x="-3.6" y="-3.8" width="7.2" height="7.6" transform="translate(677.41 307.09) rotate(7.3)" stroke-width="1.2"/><circle cx="677.41" cy="307.09" r="1.9" stroke-width="1.0"/><rect x="-2.1" y="-3.2" width="4.2" height="6.4" transform="translate(685.36 308.11) rotate(7.3)" stroke-width="1.3"/><rect x="-3.6" y="-3.8" width="7.2" height="7.6" transform="translate(693.3 309.13) rotate(7.3)" stroke-width="1.2"/><circle cx="693.3" cy="309.13" r="1.9" stroke-width="1.0"/><rect x="-2.1" y="-3.2" width="4.2" height="6.4" transform="translate(701.25 310.15) rotate(7.3)" stroke-width="1.3"/><rect x="-3.6" y="-3.8" width="7.2" height="7.6" transform="translate(709.2 311.17) rotate(7.3)" stroke-width="1.2"/><circle cx="709.2" cy="311.17" r="1.9" stroke-width="1.0"/><rect x="-2.1" y="-3.2" width="4.2" height="6.4" transform="translate(717.15 312.19) rotate(7.3)" stroke-width="1.3"/><rect x="-3.6" y="-3.8" width="7.2" height="7.6" transform="translate(724.11 313.15) rotate(11.46)" stroke-width="1.2"/><circle cx="724.11" cy="313.15" r="1.9" stroke-width="1.0"/><rect x="-2.1" y="-3.2" width="4.2" height="6.4" transform="translate(731.65 315.87) rotate(28.11)" stroke-width="1.3"/><rect x="-3.6" y="-3.8" width="7.2" height="7.6" transform="translate(738.1 320.63) rotate(44.75)" stroke-width="1.2"/><circle cx="738.1" cy="320.63" r="1.9" stroke-width="1.0"/><rect x="-2.1" y="-3.2" width="4.2" height="6.4" transform="translate(742.92 327.04) rotate(61.4)" stroke-width="1.3"/><rect x="-3.6" y="-3.8" width="7.2" height="7.6" transform="translate(745.7 334.56) rotate(78.05)" stroke-width="1.2"/><circle cx="745.7" cy="334.56" r="1.9" stroke-width="1.0"/><rect x="-2.1" y="-3.2" width="4.2" height="6.4" transform="translate(746.21 342.57) rotate(94.69)" stroke-width="1.3"/><rect x="-3.6" y="-3.8" width="7.2" height="7.6" transform="translate(744.4 350.38) rotate(111.34)" stroke-width="1.2"/><circle cx="744.4" cy="350.38" r="1.9" stroke-width="1.0"/><rect x="-2.1" y="-3.2" width="4.2" height="6.4" transform="translate(740.43 357.35) rotate(127.98)" stroke-width="1.3"/><rect x="-3.6" y="-3.8" width="7.2" height="7.6" transform="translate(734.63 362.89) rotate(144.63)" stroke-width="1.2"/><circle cx="734.63" cy="362.89" r="1.9" stroke-width="1.0"/><rect x="-2.1" y="-3.2" width="4.2" height="6.4" transform="translate(727.49 366.53) rotate(161.27)" stroke-width="1.3"/><rect x="-3.6" y="-3.8" width="7.2" height="7.6" transform="translate(719.61 367.98) rotate(177.92)" stroke-width="1.2"/><circle cx="719.61" cy="367.98" r="1.9" stroke-width="1.0"/><rect x="-2.1" y="-3.2" width="4.2" height="6.4" transform="translate(712.59 368) rotate(180)" stroke-width="1.3"/><rect x="-3.6" y="-3.8" width="7.2" height="7.6" transform="translate(704.57 368) rotate(180)" stroke-width="1.2"/><circle cx="704.57" cy="368" r="1.9" stroke-width="1.0"/><rect x="-2.1" y="-3.2" width="4.2" height="6.4" transform="translate(696.55 368) rotate(180)" stroke-width="1.3"/><rect x="-2.1" y="-3.2" width="4.2" height="6.4" transform="translate(680.51 368) rotate(180)" stroke-width="1.3"/><rect x="-2.1" y="-3.2" width="4.2" height="6.4" transform="translate(664.47 368) rotate(180)" stroke-width="1.3"/><rect x="-2.1" y="-3.2" width="4.2" height="6.4" transform="translate(648.43 368) rotate(180)" stroke-width="1.3"/><rect x="-2.1" y="-3.2" width="4.2" height="6.4" transform="translate(632.39 368) rotate(180)" stroke-width="1.3"/><rect x="-2.1" y="-3.2" width="4.2" height="6.4" transform="translate(617.35 368) rotate(180)" stroke-width="1.3"/><rect x="-2.1" y="-3.2" width="4.2" height="6.4" transform="translate(601.31 368) rotate(180)" stroke-width="1.3"/><rect x="-2.1" y="-3.2" width="4.2" height="6.4" transform="translate(585.27 368) rotate(180)" stroke-width="1.3"/><rect x="-2.1" y="-3.2" width="4.2" height="6.4" transform="translate(569.23 368) rotate(180)" stroke-width="1.3"/><rect x="-2.1" y="-3.2" width="4.2" height="6.4" transform="translate(553.19 368) rotate(180)" stroke-width="1.3"/><rect x="-2.1" y="-3.2" width="4.2" height="6.4" transform="translate(537.15 368) rotate(180)" stroke-width="1.3"/><rect x="-2.1" y="-3.2" width="4.2" height="6.4" transform="translate(522.12 368) rotate(180)" stroke-width="1.3"/><rect x="-2.1" y="-3.2" width="4.2" height="6.4" transform="translate(506.08 368) rotate(180)" stroke-width="1.3"/><rect x="-2.1" y="-3.2" width="4.2" height="6.4" transform="translate(490.04 368) rotate(180)" stroke-width="1.3"/><rect x="-2.1" y="-3.2" width="4.2" height="6.4" transform="translate(474 368) rotate(180)" stroke-width="1.3"/><rect x="-3.6" y="-3.8" width="7.2" height="7.6" transform="translate(465.98 368) rotate(180)" stroke-width="1.2"/><circle cx="465.98" cy="368" r="1.9" stroke-width="1.0"/><rect x="-2.1" y="-3.2" width="4.2" height="6.4" transform="translate(457.96 368) rotate(180)" stroke-width="1.3"/><rect x="-3.6" y="-3.8" width="7.2" height="7.6" transform="translate(449.94 368) rotate(180)" stroke-width="1.2"/><circle cx="449.94" cy="368" r="1.9" stroke-width="1.0"/><rect x="-2.1" y="-3.2" width="4.2" height="6.4" transform="translate(441.92 368) rotate(180)" stroke-width="1.3"/><path d="M431.68 372.55L431.42 374.94L428.84 374.66L429.09 372.27M422.52 370.6L421.61 372.82L419.21 371.83L420.12 369.61M414.28 366.17L412.78 368.04L410.75 366.42L412.25 364.54M407.62 359.6L405.65 360.97L404.16 358.84L406.13 357.47M403.06 351.42L400.79 352.19L399.95 349.73L402.23 348.96M400.98 342.29L398.59 342.4L398.48 339.8L400.87 339.7M401.55 332.95L399.22 332.38L399.84 329.85L402.17 330.43M404.72 324.14L402.64 322.94L403.95 320.69L406.02 321.89M410.22 316.58L408.57 314.84L410.46 313.04L412.11 314.78M417.63 310.86L416.54 308.72L418.85 307.53L419.95 309.67M426.35 307.45L425.9 305.09L428.45 304.6L428.9 306.95M434.66 306.27L434.37 303.89L436.95 303.57L437.24 305.96M441.67 305.42L441.38 303.04L443.96 302.73L444.25 305.11M449.68 304.46L449.39 302.07L451.97 301.76L452.26 304.14M457.68 303.49L457.4 301.11L459.98 300.8L460.27 303.18M465.69 302.52L465.4 300.14L467.99 299.83L468.27 302.21M473.7 301.56L473.41 299.17L475.99 298.86L476.28 301.24M481.71 300.59L481.42 298.21L484 297.89L484.29 300.28M489.72 299.62L489.43 297.24L492.01 296.93L492.3 299.31M497.73 298.66L497.44 296.27L500.02 295.96L500.31 298.34M505.73 297.69L505.45 295.31L508.03 294.99L508.31 297.38M513.74 296.72L513.45 294.34L516.04 294.03L516.32 296.41M521.75 295.76L521.46 293.37L524.04 293.06L524.33 295.44M530.3 294.6L530.3 292.2L532.9 292.2L532.9 294.6M537.32 294.6L537.32 292.2L539.92 292.2L539.92 294.6M545.34 294.6L545.34 292.2L547.94 292.2L547.94 294.6M553.35 294.6L553.35 292.2L555.95 292.2L555.95 294.6M561.37 294.6L561.37 292.2L563.97 292.2L563.97 294.6M569.39 294.6L569.39 292.2L571.99 292.2L571.99 294.6M577.41 294.6L577.41 292.2L580.01 292.2L580.01 294.6M585.43 294.6L585.43 292.2L588.03 292.2L588.03 294.6M593.45 294.6L593.45 292.2L596.05 292.2L596.05 294.6M601.47 294.6L601.47 292.2L604.07 292.2L604.07 294.6M609.49 294.6L609.49 292.2L612.09 292.2L612.09 294.6M618.08 294.85L618.38 292.47L620.96 292.8L620.66 295.18M625.03 295.75L625.34 293.36L627.92 293.7L627.61 296.08M632.98 296.76L633.29 294.38L635.86 294.71L635.56 297.09M640.93 297.78L641.24 295.4L643.81 295.73L643.51 298.11M648.88 298.8L649.18 296.42L651.76 296.75L651.46 299.13M656.83 299.82L657.13 297.44L659.71 297.77L659.41 300.15M664.78 300.84L665.08 298.46L667.66 298.79L667.36 301.17M672.73 301.86L673.03 299.48L675.61 299.81L675.31 302.19M680.68 302.88L680.98 300.5L683.56 300.83L683.26 303.21M688.63 303.89L688.93 301.51L691.51 301.84L691.2 304.23M696.57 304.91L696.88 302.53L699.46 302.86L699.15 305.24M704.52 305.93L704.83 303.55L707.41 303.88L707.1 306.26M712.47 306.95L712.78 304.57L715.36 304.9L715.05 307.28M719.43 307.84L719.73 305.46L722.31 305.79L722.01 308.17M728.31 309.47L729.12 307.21L731.57 308.09L730.76 310.35M736.74 313.54L738.16 311.61L740.25 313.15L738.83 315.08M743.64 319.86L745.56 318.42L747.12 320.49L745.2 321.94M748.45 327.89L750.7 327.06L751.6 329.49L749.35 330.33M750.75 336.96L753.15 336.8L753.31 339.4L750.92 339.55M750.36 346.31L752.7 346.85L752.12 349.38L749.78 348.84M747.31 355.15L749.4 356.34L748.11 358.6L746.02 357.41M741.85 362.76L743.51 364.49L741.63 366.29L739.97 364.55M734.45 368.48L735.54 370.61L733.22 371.8L732.13 369.66M725.71 371.83L726.14 374.19L723.59 374.66L723.15 372.3M716.89 372.6L716.89 375L714.29 375L714.29 372.6M709.88 372.6L709.88 375L707.28 375L707.28 372.6M701.86 372.6L701.86 375L699.26 375L699.26 372.6M693.84 372.6L693.84 375L691.24 375L691.24 372.6M685.82 372.6L685.82 375L683.22 375L683.22 372.6M677.8 372.6L677.8 375L675.2 375L675.2 372.6M669.78 372.6L669.78 375L667.18 375L667.18 372.6M661.76 372.6L661.76 375L659.16 375L659.16 372.6M653.74 372.6L653.74 375L651.14 375L651.14 372.6M645.72 372.6L645.72 375L643.12 375L643.12 372.6M637.7 372.6L637.7 375L635.1 375L635.1 372.6M629.68 372.6L629.68 375L627.08 375L627.08 372.6M621.66 372.6L621.66 375L619.06 375L619.06 372.6M614.64 372.6L614.64 375L612.04 375L612.04 372.6M606.62 372.6L606.62 375L604.02 375L604.02 372.6M598.6 372.6L598.6 375L596 375L596 372.6M590.58 372.6L590.58 375L587.98 375L587.98 372.6M582.56 372.6L582.56 375L579.96 375L579.96 372.6M574.54 372.6L574.54 375L571.94 375L571.94 372.6M566.52 372.6L566.52 375L563.92 375L563.92 372.6M558.5 372.6L558.5 375L555.9 375L555.9 372.6M550.48 372.6L550.48 375L547.88 375L547.88 372.6M542.46 372.6L542.46 375L539.86 375L539.86 372.6M534.44 372.6L534.44 375L531.84 375L531.84 372.6M527.43 372.6L527.43 375L524.83 375L524.83 372.6M519.41 372.6L519.41 375L516.81 375L516.81 372.6M511.39 372.6L511.39 375L508.79 375L508.79 372.6M503.37 372.6L503.37 375L500.77 375L500.77 372.6M495.35 372.6L495.35 375L492.75 375L492.75 372.6M487.33 372.6L487.33 375L484.73 375L484.73 372.6M479.31 372.6L479.31 375L476.71 375L476.71 372.6M471.29 372.6L471.29 375L468.69 375L468.69 372.6M463.27 372.6L463.27 375L460.67 375L460.67 372.6M455.25 372.6L455.25 375L452.65 375L452.65 372.6M447.23 372.6L447.23 375L444.63 375L444.63 372.6M439.21 372.6L439.21 375L436.61 375L436.61 372.6" stroke-width="1.2" /><path d="M433.9 368L430.88 367.84L427.89 367.36L424.97 366.56L422.15 365.46L419.46 364.06L416.94 362.38L414.61 360.45L412.51 358.28L410.64 355.89L409.04 353.33L407.72 350.6L406.69 347.75L405.98 344.81L405.59 341.81L405.51 338.78L405.76 335.77L406.33 332.79L407.21 329.9L408.39 327.11L409.87 324.47L411.62 321.99L413.62 319.72L415.85 317.68L418.28 315.88L420.9 314.35L423.66 313.11L426.54 312.17L429.5 311.54L432.5 311.16L435.5 310.8L438.5 310.44L441.51 310.08L444.51 309.71L447.51 309.35L450.52 308.99L453.52 308.63L456.52 308.26L459.53 307.9L462.53 307.54L465.53 307.18L468.54 306.81L471.54 306.45L474.54 306.09L477.54 305.73L480.55 305.36L483.55 305L486.55 304.64L489.56 304.28L492.56 303.91L495.56 303.55L498.57 303.19L501.57 302.83L504.57 302.46L507.58 302.1L510.58 301.74L513.58 301.38L516.58 301.01L519.59 300.65L522.59 300.29L525.59 299.93L528.6 299.56L531.6 299.2L534.61 299.2L537.61 299.2L540.62 299.2L543.63 299.2L546.64 299.2L549.64 299.2L552.65 299.2L555.66 299.2L558.66 299.2L561.67 299.2L564.68 299.2L567.69 299.2L570.69 299.2L573.7 299.2L576.71 299.2L579.71 299.2L582.72 299.2L585.73 299.2L588.74 299.2L591.74 299.2L594.75 299.2L597.76 299.2L600.76 299.2L603.77 299.2L606.78 299.2L609.79 299.2L612.79 299.2L615.8 299.2L618.78 299.58L621.76 299.96L624.74 300.35L627.72 300.73L630.7 301.11L633.69 301.49L636.67 301.87L639.65 302.26L642.63 302.64L645.61 303.02L648.59 303.4L651.57 303.78L654.55 304.17L657.53 304.55L660.51 304.93L663.5 305.31L666.48 305.69L669.46 306.08L672.44 306.46L675.42 306.84L678.4 307.22L681.38 307.6L684.36 307.99L687.34 308.37L690.32 308.75L693.3 309.13L696.29 309.51L699.27 309.9L702.25 310.28L705.23 310.66L708.21 311.04L711.19 311.42L714.17 311.81L717.15 312.19L720.13 312.57L723.12 312.97L726.06 313.62L728.92 314.59L731.65 315.87L734.23 317.43L736.62 319.27L738.8 321.35L740.74 323.66L742.42 326.17L743.82 328.84L744.91 331.65L745.7 334.56L746.16 337.54L746.3 340.56L746.11 343.57L745.59 346.54L744.75 349.44L743.6 352.22L742.16 354.87L740.43 357.35L738.45 359.62L736.23 361.66L733.8 363.45L731.2 364.97L728.44 366.19L725.57 367.11L722.61 367.71L719.61 367.98L716.6 368L713.59 368L710.58 368L707.57 368L704.57 368L701.56 368L698.55 368L695.54 368L692.54 368L689.53 368L686.52 368L683.51 368L680.51 368L677.5 368L674.49 368L671.48 368L668.48 368L665.47 368L662.46 368L659.45 368L656.45 368L653.44 368L650.43 368L647.42 368L644.42 368L641.41 368L638.4 368L635.4 368L632.39 368L629.38 368L626.37 368L623.37 368L620.36 368L617.35 368L614.34 368L611.34 368L608.33 368L605.32 368L602.31 368L599.31 368L596.3 368L593.29 368L590.28 368L587.28 368L584.27 368L581.26 368L578.25 368L575.25 368L572.24 368L569.23 368L566.23 368L563.22 368L560.21 368L557.2 368L554.2 368L551.19 368L548.18 368L545.17 368L542.17 368L539.16 368L536.15 368L533.14 368L530.14 368L527.13 368L524.12 368L521.11 368L518.11 368L515.1 368L512.09 368L509.08 368L506.08 368L503.07 368L500.06 368L497.06 368L494.05 368L491.04 368L488.03 368L485.03 368L482.02 368L479.01 368L476 368L473 368L469.99 368L466.98 368L463.97 368L460.97 368L457.96 368L454.95 368L451.94 368L448.94 368L445.93 368L442.92 368L439.91 368L436.91 368Z" stroke-width="3.6" stroke-dasharray="2.4 1.4" stroke-linecap="butt" stroke="#1c1c1c"/><circle cx="718.6" cy="340.3" r="16" stroke-width="3.2"/><circle cx="718.6" cy="340.3" r="20.5" stroke-width="2.2" stroke-dasharray="1.6 1.2"/><g transform="translate(380 220) scale(0.16846)"><path d="M200 745C200 640 260 600 330 590C400 595 440 620 470 650" stroke-width="1.0" /><path d="M215 760C225 820 260 870 310 890" stroke-width="1.0" /><path d="M250 610L500 600L520 620L520 770L250 770Z" /><path d="M290 635H480M290 650H480" stroke-width="1.0" /><path d="M300 715V770M250 790H470V850M280 790V880" /><path d="M540 548L640 545L690 512L880 505M540 548V770M555 560V760" /><path d="M250 768H1662M470 780H1662" stroke-width="1.4" /><path d="M590 640H840L832 690C780 700 760 660 700 665C660 670 640 700 600 690Z" /><circle cx="620" cy="665" r="4" fill="#1c1c1c"/><circle cx="805" cy="665" r="4" fill="#1c1c1c"/><path d="M940 640H1400M1080 512H1260M1080 522H1260" stroke-width="1.0" /><path d="M1510 640H1662M1515 640L1522 690C1560 700 1600 670 1662 662" /><rect x="890" y="690" width="80" height="55" rx="12" stroke-width="1.5"/><path d="M905 695v45M918 695v45M931 695v45M944 695v45" stroke-width="1.4" /><circle cx="955" cy="525" r="38" stroke-width="1.6"/><circle cx="955" cy="525" r="22" stroke-width="1.6"/><circle cx="955" cy="525" r="8"/><rect x="900" y="580" width="110" height="32" rx="8"/><path d="M910 560L925 580M1000 560L985 580M895 545h-25M1015 545h25" stroke-width="1.4" /><circle cx="1385" cy="525" r="38" stroke-width="1.6"/><circle cx="1385" cy="525" r="22" stroke-width="1.6"/><circle cx="1385" cy="525" r="8"/><rect x="1330" y="580" width="110" height="32" rx="8"/><path d="M1340 560L1355 580M1430 560L1415 580M1325 545h-25M1445 545h25" stroke-width="1.4" /><path d="M1010 545H1330M1010 555H1330" stroke-width="1.0" /><path d="M557 790C560 850 590 868 615 868C640 868 670 850 673 790" stroke-width="1.6" /><path d="M577 800C583 840 647 840 653 800" stroke-width="1.2" /><circle cx="615" cy="808" r="14" stroke-width="1.3"/><circle cx="615" cy="808" r="5"/><rect x="693" y="790" width="26" height="45" stroke-width="1.3"/><path d="M742 790C745 850 775 868 800 868C825 868 855 850 858 790" stroke-width="1.6" /><path d="M762 800C768 840 832 840 838 800" stroke-width="1.2" /><circle cx="800" cy="808" r="14" stroke-width="1.3"/><circle cx="800" cy="808" r="5"/><rect x="878" y="790" width="26" height="45" stroke-width="1.3"/><path d="M927 790C930 850 960 868 985 868C1010 868 1040 850 1043 790" stroke-width="1.6" /><path d="M947 800C953 840 1017 840 1023 800" stroke-width="1.2" /><circle cx="985" cy="808" r="14" stroke-width="1.3"/><circle cx="985" cy="808" r="5"/><rect x="1063" y="790" width="26" height="45" stroke-width="1.3"/><path d="M1112 790C1115 850 1145 868 1170 868C1195 868 1225 850 1228 790" stroke-width="1.6" /><path d="M1132 800C1138 840 1202 840 1208 800" stroke-width="1.2" /><circle cx="1170" cy="808" r="14" stroke-width="1.3"/><circle cx="1170" cy="808" r="5"/><rect x="1248" y="790" width="26" height="45" stroke-width="1.3"/><path d="M1297 790C1300 850 1330 868 1355 868C1380 868 1410 850 1413 790" stroke-width="1.6" /><path d="M1317 800C1323 840 1387 840 1393 800" stroke-width="1.2" /><circle cx="1355" cy="808" r="14" stroke-width="1.3"/><circle cx="1355" cy="808" r="5"/><rect x="1433" y="790" width="26" height="45" stroke-width="1.3"/><path d="M1482 790C1485 850 1515 868 1540 868C1565 868 1595 850 1598 790" stroke-width="1.6" /><path d="M1502 800C1508 840 1572 840 1578 800" stroke-width="1.2" /><circle cx="1540" cy="808" r="14" stroke-width="1.3"/><circle cx="1540" cy="808" r="5"/><rect x="1618" y="790" width="26" height="45" stroke-width="1.3"/><path d="M560 880C700 900 860 900 980 875C1100 900 1240 900 1360 875C1480 900 1600 895 1662 885" stroke-width="1.0" /><path d="M835 345H1490V392H850V345M860 392v20h620v-20" /><path d="M890 400h28M940 400h28M990 400h28M1040 400h28M1090 400h28M1140 400h28M1190 400h28M1240 400h28M1290 400h28M1340 400h28M1390 400h28M1440 400h28" stroke-width="2.2" /><path d="M395 235H1662M450 335H1662M640 305H1480" /><path d="M395 235L420 318C428 332 440 336 452 335" /><circle cx="630" cy="435" r="24" stroke-width="1.5"/><circle cx="630" cy="435" r="10"/><path d="M540 400L565 375L600 390L585 450L555 445ZM600 400L720 392L770 430M520 420L430 470L380 500M530 455L440 500M470 470l20 35M430 480l20 40M600 470L760 455" stroke-width="1.3" /><path d="M545 385l20 -15M675 410l15 10" stroke-width="3" /><path d="M0 735L105 700M0 930L160 868" /><path d="M85 800l25 -10" stroke-width="3" /></g><g transform="translate(620 230) scale(0.16846)"><circle cx="585" cy="655" r="72" stroke-width="1.6"/><circle cx="585" cy="655" r="88" stroke-width="1.6"/><path d="M585 655V760M585 560V590M497 655H470M673 655H700" stroke-width="1.4" /><path d="M692.74 647.45L713 655L692.74 662.55M689.8 681.11L706.74 694.55L685.13 695.48M676.6 712.21L688.55 730.24L667.72 724.44M654.44 737.72L660.24 758.55L642.21 746.6M625.48 755.13L624.55 776.74L611.11 759.8M592.55 762.74L585 783L577.45 762.74M558.89 759.8L545.45 776.74L544.52 755.13M527.79 746.6L509.76 758.55L515.56 737.72M502.28 724.44L481.45 730.24L493.4 712.21M484.87 695.48L463.26 694.55L480.2 681.11M477.26 662.55L457 655L477.26 647.45M480.2 628.89L463.26 615.45L484.87 614.52M493.4 597.79L481.45 579.76L502.28 585.56M515.56 572.28L509.76 551.45L527.79 563.4M544.52 554.87L545.45 533.26L558.89 550.2M577.45 547.26L585 527L592.55 547.26M611.11 550.2L624.55 533.26L625.48 554.87M642.21 563.4L660.24 551.45L654.44 572.28M667.72 585.56L688.55 579.76L676.6 597.79M685.13 614.52L706.74 615.45L689.8 628.89" stroke-width="1.2" /><circle cx="585" cy="655" r="106" stroke-width="1.0"/><path d="M380 500V720M395 515V700M380 500L440 510M420 540L440 600L420 680L450 740" stroke-width="1.2" /><path d="M80 580H330L322 630C280 640 250 600 200 605C160 610 130 640 90 630Z" /><circle cx="115" cy="605" r="4" fill="#1c1c1c"/><circle cx="300" cy="605" r="4" fill="#1c1c1c"/><path d="M0 709H400M0 721H370" stroke-width="1.4" /><path d="M57 730C60 790 90 808 115 808C140 808 170 790 173 730" stroke-width="1.6" /><path d="M77 740C83 780 147 780 153 740" stroke-width="1.2" /><circle cx="115" cy="748" r="14" stroke-width="1.3"/><circle cx="115" cy="748" r="5"/><rect x="193" y="730" width="26" height="45" stroke-width="1.3"/><path d="M242 730C245 790 275 808 300 808C325 808 355 790 358 730" stroke-width="1.6" /><path d="M262 740C268 780 332 780 338 740" stroke-width="1.2" /><circle cx="300" cy="748" r="14" stroke-width="1.3"/><circle cx="300" cy="748" r="5"/><rect x="378" y="730" width="26" height="45" stroke-width="1.3"/><path d="M0 450L375 520" stroke-width="1.0" /><path d="M625 0V250C625 265 615 272 600 272H0" /><path d="M245 0V270M262 0V250" stroke-width="1.2" /><path d="M245 20v80" stroke-width="2.6" /><path d="M268 200C275 150 320 120 380 105C440 90 480 50 490 0" stroke-width="1.3" /><path d="M325 190C325 160 345 140 370 132" stroke-width="1.3" /><path d="M385 135L490 138C505 160 500 200 470 228L390 222Z" stroke-width="1.5" /><path d="M400 140L395 222M400 205H470" stroke-width="1.3" /><path d="M585 243h35" stroke-width="1.3" /><path d="M0 176H245" stroke-width="1.15" /></g><g transform="translate(300 80) scale(0.16846)"><path d="M810 232L1430 172L1662 152" /><path d="M750 130L1662 62M760 160L905 150" /><path d="M752 130L760 160" /><path d="M905 150C950 150 970 175 980 200M1035 195C1040 150 1060 135 1090 132L1280 120C1305 120 1320 140 1322 165M1375 160C1380 125 1395 110 1420 108L1662 92" stroke-width="1.1" /><path d="M1000 135v12M1005 170v15M1340 112v12M1342 140v14" stroke-width="2.6" /><path d="M875 215L885 200L930 198L945 212" stroke-width="1.3" /><circle cx="990" cy="235" r="9" fill="#1c1c1c"/><path d="M810 232L870 290L935 262" stroke-width="2.2" /><path d="M1100 215l30 -12l-25 -2zM1190 212L1420 192" stroke-width="1.0" /><path d="M985 292C935 440 915 600 918 760C920 900 930 1000 945 1068" /><path d="M950 292C895 440 872 620 876 800C880 920 890 1010 905 1068" stroke-width="1.0" /><path d="M905 300C860 420 845 560 842 700C840 860 850 960 880 1060" stroke-width="1.0" /><path d="M985 292L1430 250" /><path d="M1035 290L1385 250C1400 250 1405 260 1405 275L1405 745C1405 760 1395 765 1380 768L1180 805C1140 812 1125 840 1110 880L940 900C925 900 920 890 920 870L925 640C935 500 975 370 1010 305C1018 292 1025 290 1035 290Z" /><circle cx="1035" cy="298" r="5" fill="#1c1c1c"/><circle cx="1388" cy="262" r="5" fill="#1c1c1c"/><circle cx="1392" cy="752" r="5" fill="#1c1c1c"/><circle cx="935" cy="880" r="5" fill="#1c1c1c"/><circle cx="1095" cy="870" r="5" fill="#1c1c1c"/><path d="M1255 800h40" stroke-width="3.2" /><path d="M945 930L1095 915L1075 990L965 1000Z" stroke-width="1.6" /><path d="M965 945L1075 935M968 962L1070 952M972 980L1065 972" stroke-width="2.0" /><path d="M1430 172V1068M1450 170V1068" /><path d="M1435 320h18v80h-18z" stroke-width="1.6" /><path d="M1435 870h14v80h-14z" stroke-width="1.4" /><path d="M820 240L900 330L860 420L830 480L810 560L790 640L775 760L780 900L810 1000L850 1030" stroke-width="1.3" /><path d="M800 290L770 460" stroke-width="2.2" /><path d="M850 330L880 350L860 440L835 470L850 520L820 640M880 300L905 345L880 400M840 420l35 15M820 500l35 15" stroke-width="1.3" /><path d="M830 400h30v40h-30zM800 480h25v25h-25z" stroke-width="1.6" /><path d="M740 540l20 15l-15 20M700 620l25 20M715 680l40 30l-15 30l-40 -30zM745 735l25 20" stroke-width="2.2" /><circle cx="860" cy="1005" r="10" fill="#1c1c1c"/><circle cx="875" cy="1045" r="10" fill="#1c1c1c"/><circle cx="830" cy="1020" r="9" fill="#1c1c1c"/><path d="M925 400L890 560M900 640L905 760" stroke-width="1.0" /><path d="M1468 240L1630 228C1645 228 1650 240 1652 255L1662 400" /><path d="M1452 810L1662 765" /></g><g transform="translate(520 80) scale(0.16846)"><path d="M0 95L450 60L500 68" /><path d="M70 152C75 120 90 108 115 106L270 98C295 98 305 115 305 140M370 150C375 110 395 92 425 88" stroke-width="1.1" /><path d="M30 118v12M35 140v10M330 88v12M335 125v14" stroke-width="2.6" /><path d="M425 75H500V150H425Z" stroke-width="1.5" /><path d="M425 130H500M430 120H498" stroke-width="2.0" /><path d="M370 160H520M500 150L520 160L510 200" stroke-width="1.2" /><path d="M380 165C430 190 465 230 480 290L505 600" /><path d="M360 235H460C478 235 482 250 484 270L500 520" stroke-width="1.4" /><circle cx="365" cy="188" r="8" fill="#1c1c1c"/><circle cx="362" cy="238" r="8" fill="#1c1c1c"/><circle cx="415" cy="250" r="7" fill="#1c1c1c"/><circle cx="440" cy="255" r="7" fill="#1c1c1c"/><path d="M128 170V1068M148 168V1068" /><path d="M122 325h26v75h-26z" stroke-width="1.6" /><path d="M126 880h16v70h-16z" stroke-width="1.4" /><path d="M0 195L100 190M235 188L330 182" stroke-width="1.0" /><path d="M0 250L85 248C97 248 100 258 100 272L100 745L0 790" /><path d="M160 230L312 228C328 228 332 240 334 255L350 470C352 560 300 660 160 750C150 752 148 745 148 735L148 245C148 235 152 230 160 230Z" /><circle cx="318" cy="240" r="5" fill="#1c1c1c"/><circle cx="158" cy="742" r="5" fill="#1c1c1c"/><path d="M148 810L470 730M148 795L470 715" stroke-width="1.0" /><rect x="278" y="796" width="45" height="18" rx="9" stroke-width="1.3"/><path d="M275 845L400 821.25" stroke-width="3.6" stroke="#1c1c1c" stroke-linecap="round"/><path d="M275 845L400 821.25" stroke-width="1.5" stroke="#fff" stroke-linecap="round"/><path d="M255 882L390 856.35" stroke-width="3.6" stroke="#1c1c1c" stroke-linecap="round"/><path d="M255 882L390 856.35" stroke-width="1.5" stroke="#fff" stroke-linecap="round"/><path d="M240 915L375 889.35" stroke-width="3.6" stroke="#1c1c1c" stroke-linecap="round"/><path d="M240 915L375 889.35" stroke-width="1.5" stroke="#fff" stroke-linecap="round"/><path d="M225 945L360 919.35" stroke-width="3.6" stroke="#1c1c1c" stroke-linecap="round"/><path d="M225 945L360 919.35" stroke-width="1.5" stroke="#fff" stroke-linecap="round"/><path d="M205 975L345 948.4" stroke-width="3.6" stroke="#1c1c1c" stroke-linecap="round"/><path d="M205 975L345 948.4" stroke-width="1.5" stroke="#fff" stroke-linecap="round"/><path d="M195 1002L335 975.4" stroke-width="3.6" stroke="#1c1c1c" stroke-linecap="round"/><path d="M195 1002L335 975.4" stroke-width="1.5" stroke="#fff" stroke-linecap="round"/><circle cx="455" cy="980" r="9" fill="#1c1c1c"/><path d="M470 640V1068M480 640V1068" stroke-width="1.0" /><path d="M480 640C560 620 610 590 630 522L835 522V1060H480" /><path d="M640 575H800M615 603H800" stroke-width="1.0" /><path d="M845 522V1060M835 522H845" /><path d="M838 640v80M838 910v90" stroke-width="2.6" /><path d="M860 660V1000M878 680V990" stroke-width="1.0" /><rect x="525" y="950" width="75" height="78" rx="16" stroke-width="2.2"/><path d="M540 968h45v30h-45zM548 1008h30" stroke-width="1.6" /><path d="M515 385C505 360 520 335 545 332H625C650 335 665 360 655 385ZM518 350H652M516 365H655" stroke-width="1.5" /><path d="M548 385V470H618V385M540 470H625V512H540Z" stroke-width="1.5" /><path d="M480 480L540 500M490 540L590 545M500 600C560 590 590 570 600 540M520 610C570 600 600 570 612 530" stroke-width="1.8" /><circle cx="565" cy="545" r="10" fill="#1c1c1c"/><path d="M790 455L820 420H950V515M700 515V485L735 480" /><rect x="738" y="455" width="150" height="42" rx="18" stroke-width="1.8"/><rect x="752" y="466" width="122" height="22" rx="10" stroke-width="1.4"/><path d="M700 520H960M830 432H925" stroke-width="1.3" /><path d="M845 522L1000 520C1080 520 1120 525 1140 540L1215 582V840L1165 846" /><path d="M1005 528C1030 600 1070 740 1090 860M1030 530C1060 620 1090 740 1115 835M1050 560L1120 800" stroke-width="1.2" /><path d="M870 575L935 548M950 575L1010 552M1090 548H1125" stroke-width="1.0" /><path d="M850 590l25 8" stroke-width="1.0" /><path d="M1140 545L1165 846M1165 846L1090 862" /><circle cx="1155" cy="605" r="10" fill="#1c1c1c"/><path d="M1190 770v35" stroke-width="3.6" /><path d="M1222 582V1068" /><path d="M1100 830l30 25M1105 895h25" stroke-width="1.4" /><path d="M985 410V355C990 320 1010 300 1035 280L1095 225H1100" /><path d="M1100 225V282L1060 318C1045 335 1040 350 1040 410" /><path d="M985 372H1040M1000 318L1050 345" stroke-width="1.0" /><path d="M975 415H1125V460H975ZM975 415V520" stroke-width="1.3" /><path d="M1000 425v25M1020 425v20M1050 425v45M1085 425v30M1100 425v20M1040 470h30l-15 35z" stroke-width="2.4" /><path d="M1125 462L1160 395L1200 420L1210 520" stroke-width="1.3" /><path d="M1130 470l15 -35" stroke-width="1.0" /><path d="M935 870C905 900 915 935 950 950M1060 875C1085 905 1060 945 1010 948" stroke-width="1.5" /><path d="M995 848H960V948H990" stroke-width="2.2" /><path d="M880 1068C900 1020 960 1000 1010 990C1060 975 1085 930 1080 880" stroke-width="1.3" /><path d="M930 1068C950 1030 1000 1015 1060 1020M975 1030V1068M975 1030H1080L1095 1068" stroke-width="1.4" /></g><g transform="translate(225 300) scale(0.09990)"><path d="M1020 420C1090 520 1125 650 1095 780C1080 850 1055 900 1040 935L1215 910C1255 800 1265 700 1250 580L1250 462L1215 436Z" /><path d="M1250 582C1300 605 1350 600 1400 570L1662 405" /><path d="M1215 910L1662 720" /><path d="M1125 625v60M1217 655v60" stroke-width="2.6" /><rect x="-30" y="-10" width="60" height="20" transform="translate(1390 692) rotate(-22)" stroke-width="1.8"/><circle cx="1208" cy="468" r="7" fill="#1c1c1c"/></g></g><g transform="translate(1160 440) scale(0.16846)"><path d="M780 700C775 800 795 950 832 1040M822 1032L1150 902M780 700L1010 735" stroke-width="0.9" /><path d="M748 872h50M820 1020l8 22" stroke-width="2.0" /></g><g transform="translate(1447.6 509.1) scale(0.633) rotate(12.4) translate(-551.34 -234.28)"><g transform="translate(350 95) scale(0.09625)"><path d="M575 150C600 120 660 110 700 140L880 255L965 340" /><path d="M575 150L545 290L520 430L495 520L420 560C395 585 395 640 425 685L480 740C520 775 580 775 620 740C680 680 730 670 780 690L870 750" /><path d="M545 370L710 430L660 575L500 522" /><circle cx="638" cy="215" r="20"/><circle cx="638" cy="215" r="42" stroke-width="1.8"/><path d="M690 180l70 40l-30 100l-70 -40" stroke-width="2.0" /><path d="M700 215l40 20M690 260l40 22" stroke-width="2.5" /><circle cx="445" cy="605" r="25"/><circle cx="540" cy="680" r="22"/><circle cx="540" cy="680" r="46" stroke-width="2.4"/><path d="M505 525l110 35" stroke-width="2.6" /><path d="M880 340L830 655" stroke-width="2.2" /><path d="M285 572L490 705M620 760L850 935M250 655L780 995" /><path d="M760 780l40 20l-15 40l-40 -20zM700 915l35 20l-12 30l-35 -20z" stroke-width="1.5" fill="#1c1c1c" /><path d="M740 1000l60 40l-40 30" stroke-width="2" /></g></g><g transform="translate(1379.4 414.1) scale(0.633) rotate(20.3) translate(-411.41 -115.69)"><g transform="translate(80 80) scale(0.16846)"><path d="M430 580C380 585 350 612 352 645C355 676 380 692 412 688L482 682L1662 480" /><path d="M430 580L1225 398" /><circle cx="397" cy="643" r="11"/><circle cx="397" cy="643" r="23" stroke-width="1.8"/><path d="M432 605v20M432 655v20M455 600l10 60l-8 25" stroke-width="2.4" /><path d="M464 520L1165 322L1205 283M470 533L979 390L1170 338M527 548L979 412L1225 340" /><path d="M430 528l30 -10" stroke-width="3" /><path d="M1205 283l12 -14" stroke-width="2.5" /><rect x="-11" y="-47.5" width="22" height="95" transform="translate(500 536) rotate(-14)" stroke-width="1.2" fill="#1c1c1c"/><rect x="-11" y="-50" width="22" height="100" transform="translate(1050 387) rotate(-14)" stroke-width="1.2" fill="#1c1c1c"/><rect x="-10" y="-9" width="20" height="18" transform="translate(603 510) rotate(-14)" stroke-width="1" fill="#1c1c1c"/><rect x="-10" y="-9" width="20" height="18" transform="translate(950 412) rotate(-14)" stroke-width="1" fill="#1c1c1c"/></g><g transform="translate(185 100) scale(0.09625)"><path d="M1055 490C1120 400 1200 300 1290 205" /><path d="M1055 490C1200 470 1330 410 1430 355C1520 310 1600 280 1662 265" /><circle cx="1375" cy="240" r="18"/><circle cx="1375" cy="240" r="40" stroke-width="1.5"/><path d="M1335 215C1380 185 1440 200 1482 240C1440 285 1380 295 1335 262" /><circle cx="1462" cy="240" r="8" fill="#1c1c1c"/><path d="M1240 190L1245 95L1275 95L1275 120L1300 120L1300 92L1335 92L1340 185" stroke-width="2.0" /><path d="M1340 120L1440 118M1340 140L1420 135" stroke-width="1.8" /><path d="M1200 200L1215 270" stroke-width="2" /><path d="M1425 140L1714 131" /><rect x="-67.5" y="-67.5" width="135" height="135" transform="translate(1605 390) rotate(-10)" stroke-width="1.5"/><circle cx="1605" cy="390" r="35"/><circle cx="1550" cy="335" r="9" fill="#1c1c1c"/><circle cx="1650" cy="320" r="9" fill="#1c1c1c"/><circle cx="1565" cy="450" r="9" fill="#1c1c1c"/><circle cx="1662" cy="435" r="9" fill="#1c1c1c"/><rect x="-47.5" y="-32.5" width="95" height="65" transform="translate(1550 770) rotate(38)" stroke-width="1.5"/><path d="M1470 725L1500 700L1560 740" stroke-width="2.2" /></g><g transform="translate(350 95) scale(0.09625)"><path d="M0 185L560 130C600 118 650 110 700 140" /><path d="M0 292C100 262 220 252 400 262C470 268 520 275 545 282" /><path d="M0 700L180 660L262 640" /><path d="M20 320L45 430" stroke-width="2.4" /><circle cx="195" cy="585" r="20"/><circle cx="195" cy="585" r="42" stroke-width="1.5"/><path d="M225 545C170 520 120 560 88 592C120 625 180 650 235 615" /><path d="M90 592l25 -12l0 24z" fill="#1c1c1c" /><path d="M120 150v-80h45v80M70 165v-25h40" stroke-width="2.4" /></g></g><g transform="translate(1208.5 399.2) scale(0.633) rotate(120.6) translate(-146.6 -188.42)"><g transform="translate(85 130) scale(0.09625)"><path d="M300 250C275 232 245 230 222 232C190 232 160 250 138 275C100 320 78 400 74 480C70 580 85 690 110 780L135 850L178 850L240 812" /><circle cx="222" cy="300" r="20"/><circle cx="222" cy="300" r="38" stroke-width="1.6"/><path d="M186 318L250 500L272 496L262 315" /><circle cx="208" cy="540" r="27"/><circle cx="268" cy="607" r="27"/><path d="M150 520l14 6M200 488l6 12M318 622l12 4M268 650l2 12" stroke-width="1.4" /><circle cx="308" cy="790" r="20"/><circle cx="308" cy="790" r="42" stroke-width="1.6"/><path d="M270 775L243 700L335 752" /><path d="M238 690L278 722L250 738Z" fill="#1c1c1c" /><path d="M330 320C380 400 470 440 580 460C650 470 680 480 712 496" /><path d="M300 248L330 318" /><path d="M345 846C400 826 470 826 530 870C585 915 650 990 745 1070" /><path d="M862 660C890 700 915 745 1135 1070" /></g><g transform="translate(80 220) scale(0.16846)"><path d="M455 78L955 640C990 690 1010 730 1040 760" /><path d="M678 77L1000 530C1030 590 1050 640 1100 690" /><circle cx="1085" cy="735" r="14"/><circle cx="1085" cy="735" r="36" stroke-width="1.5"/><circle cx="980" cy="592" r="12"/><circle cx="980" cy="592" r="30" stroke-width="1.5"/><rect x="-13" y="-28" width="26" height="56" transform="translate(585 55) rotate(30)" stroke-width="1.6"/><rect x="-13" y="-28" width="26" height="56" transform="translate(725 240) rotate(30)" stroke-width="1.6"/><rect x="-13" y="-28" width="26" height="56" transform="translate(790 330) rotate(30)" stroke-width="1.6"/><rect x="-13" y="-28" width="26" height="56" transform="translate(815 415) rotate(30)" stroke-width="1.6"/><rect x="-13" y="-28" width="26" height="56" transform="translate(880 505) rotate(30)" stroke-width="1.6"/></g></g><g transform="translate(1086.17 412.65) scale(0.633) rotate(-55) translate(-263.26 -343.96)"><g transform="translate(225 215) scale(0.09990)"><path d="M545 72L560 60L780 245L766 266Z" /><path d="M560 125L545 150C600 320 650 480 665 620C672 760 600 880 480 945C455 950 440 958 432 985" /><path d="M780 255L1140 590C1230 680 1275 790 1240 905C1222 975 1180 1025 1120 1075" /><path d="M822 305L840 1075" /></g><g transform="translate(225 300) scale(0.09990)"><path d="M432 135L405 250C398 290 415 310 440 322" /><path d="M465 100C468 150 500 172 540 186C580 200 592 262 640 290C700 305 760 250 832 224C900 262 1060 250 1165 175" /><path d="M1245 0C1240 100 1200 200 1130 270C1060 335 960 385 850 400" /><path d="M835 0L838 222" /><path d="M1120 225L1170 160" stroke-width="1.0" /></g><g transform="translate(225 300) scale(0.09990)"><path d="M340 395L420 318L700 392L790 398L905 388C940 395 950 425 940 465C925 490 880 500 850 488" /><path d="M720 470L745 500L700 560M345 490C380 510 440 500 600 520" /><path d="M810 430C850 420 890 430 885 455C880 470 850 465 830 460" stroke-width="1.5" /><path d="M690 390l25 30l25-25" stroke-width="1.0" /><circle cx="462" cy="270" r="20"/><circle cx="462" cy="270" r="40" stroke-width="1.6"/><circle cx="800" cy="338" r="22"/><circle cx="800" cy="338" r="46" stroke-width="2.2"/><circle cx="800" cy="338" r="8" fill="#1c1c1c"/><circle cx="540" cy="290" r="10" fill="#1c1c1c"/><circle cx="718" cy="328" r="12" fill="#1c1c1c"/><circle cx="545" cy="400" r="12" fill="#1c1c1c"/><path d="M460 410h30v20h-30zM460 455h30v25h-30zM575 440l25 5l-5 25l-25 -5z" stroke-width="1.8" /><path d="M770 455l20 10l-10 25" stroke-width="1.6" /></g></g><g transform="translate(1086.17 412.65) scale(0.633) rotate(121.6) translate(-263.26 -343.96)"><g transform="translate(225 215) scale(0.09990)"><path d="M545 72L560 60L780 245L766 266Z" /><path d="M560 125L545 150C600 320 650 480 665 620C672 760 600 880 480 945C455 950 440 958 432 985" /><path d="M780 255L1140 590C1230 680 1275 790 1240 905C1222 975 1180 1025 1120 1075" /><path d="M822 305L840 1075" /></g><g transform="translate(225 300) scale(0.09990)"><path d="M432 135L405 250C398 290 415 310 440 322" /><path d="M465 100C468 150 500 172 540 186C580 200 592 262 640 290C700 305 760 250 832 224C900 262 1060 250 1165 175" /><path d="M1245 0C1240 100 1200 200 1130 270C1060 335 960 385 850 400" /><path d="M835 0L838 222" /><path d="M1120 225L1170 160" stroke-width="1.0" /></g><g transform="translate(225 300) scale(0.09990)"><path d="M340 395L420 318L700 392L790 398L905 388C940 395 950 425 940 465C925 490 880 500 850 488" /><path d="M720 470L745 500L700 560M345 490C380 510 440 500 600 520" /><path d="M810 430C850 420 890 430 885 455C880 470 850 465 830 460" stroke-width="1.5" /><path d="M690 390l25 30l25-25" stroke-width="1.0" /><circle cx="462" cy="270" r="20"/><circle cx="462" cy="270" r="40" stroke-width="1.6"/><circle cx="800" cy="338" r="22"/><circle cx="800" cy="338" r="46" stroke-width="2.2"/><circle cx="800" cy="338" r="8" fill="#1c1c1c"/><circle cx="540" cy="290" r="10" fill="#1c1c1c"/><circle cx="718" cy="328" r="12" fill="#1c1c1c"/><circle cx="545" cy="400" r="12" fill="#1c1c1c"/><path d="M460 410h30v20h-30zM460 455h30v25h-30zM575 440l25 5l-5 25l-25 -5z" stroke-width="1.8" /><path d="M770 455l20 10l-10 25" stroke-width="1.6" /></g></g><g transform="translate(1209.2 376.11) rotate(170.8)"><path d="M0 -2.94H6.33M0 2.94H6.33"/><path d="M6.33 -4.91H75.33M6.33 4.91H75.33M6.33 -4.91V4.91"/><path d="M67.1 -5.71V5.71M70.8 -5.71V5.71"/><rect x="72.73" y="-6.11" width="2.6" height="12.21" fill="#1c1c1c"/><path d="M75.33 -1.99H80.23M75.33 1.99H80.23"/></g><g transform="translate(1128.03 389.26) rotate(136.96)"><path d="M3.08 -2.03H28.25M3.08 2.03H28.25"/></g><g transform="translate(1128.03 389.26) rotate(158.99)"><path d="M3.08 -2.03H27.48M3.08 2.03H27.48"/></g><circle cx="1128.03" cy="389.26" r="3.4" stroke-width="1.3"/><circle cx="1128.03" cy="389.26" r="1.3"/><circle cx="1105.13" cy="410.64" r="3.4" stroke-width="1.3"/><circle cx="1105.13" cy="410.64" r="1.3"/><circle cx="1099.5" cy="400.22" r="3.4" stroke-width="1.3"/><circle cx="1099.5" cy="400.22" r="1.3"/><g transform="translate(1321.93 397.84) rotate(-172.55)"><path d="M0 -2.94H6.33M0 2.94H6.33"/><path d="M6.33 -4.91H75.96M6.33 4.91H75.96M6.33 -4.91V4.91"/><path d="M67.73 -5.71V5.71M71.43 -5.71V5.71"/><rect x="73.36" y="-6.11" width="2.6" height="12.21" fill="#1c1c1c"/><path d="M75.96 -1.99H83.08M75.96 1.99H83.08"/></g><g transform="translate(1208.5 399.2) scale(0.633) rotate(-3.3) translate(-146.6 -188.42)"><g transform="translate(85 130) scale(0.09625)"><path d="M300 250C275 232 245 230 222 232C190 232 160 250 138 275C100 320 78 400 74 480C70 580 85 690 110 780L135 850L178 850L240 812" /><circle cx="222" cy="300" r="20"/><circle cx="222" cy="300" r="38" stroke-width="1.6"/><path d="M186 318L250 500L272 496L262 315" /><circle cx="208" cy="540" r="27"/><circle cx="268" cy="607" r="27"/><path d="M150 520l14 6M200 488l6 12M318 622l12 4M268 650l2 12" stroke-width="1.4" /><circle cx="308" cy="790" r="20"/><circle cx="308" cy="790" r="42" stroke-width="1.6"/><path d="M270 775L243 700L335 752" /><path d="M238 690L278 722L250 738Z" fill="#1c1c1c" /><path d="M330 320C380 400 470 440 580 460C650 470 680 480 712 496" /><path d="M300 248L330 318" /><path d="M345 846C400 826 470 826 530 870C585 915 650 990 745 1070" /><path d="M862 660C890 700 915 745 1135 1070" /></g><g transform="translate(80 220) scale(0.16846)"><path d="M455 78L955 640C990 690 1010 730 1040 760" /><path d="M678 77L1000 530C1030 590 1050 640 1100 690" /><circle cx="1085" cy="735" r="14"/><circle cx="1085" cy="735" r="36" stroke-width="1.5"/><circle cx="980" cy="592" r="12"/><circle cx="980" cy="592" r="30" stroke-width="1.5"/><rect x="-13" y="-28" width="26" height="56" transform="translate(585 55) rotate(30)" stroke-width="1.6"/><rect x="-13" y="-28" width="26" height="56" transform="translate(725 240) rotate(30)" stroke-width="1.6"/><rect x="-13" y="-28" width="26" height="56" transform="translate(790 330) rotate(30)" stroke-width="1.6"/><rect x="-13" y="-28" width="26" height="56" transform="translate(815 415) rotate(30)" stroke-width="1.6"/><rect x="-13" y="-28" width="26" height="56" transform="translate(880 505) rotate(30)" stroke-width="1.6"/></g></g><g transform="translate(1287.89 493.24) scale(0.633) rotate(0) translate(-263.26 -343.96)"><g transform="translate(225 215) scale(0.09990)"><path d="M545 72L560 60L780 245L766 266Z" /><path d="M560 125L545 150C600 320 650 480 665 620C672 760 600 880 480 945C455 950 440 958 432 985" /><path d="M780 255L1140 590C1230 680 1275 790 1240 905C1222 975 1180 1025 1120 1075" /><path d="M822 305L840 1075" /></g><g transform="translate(225 300) scale(0.09990)"><path d="M432 135L405 250C398 290 415 310 440 322" /><path d="M465 100C468 150 500 172 540 186C580 200 592 262 640 290C700 305 760 250 832 224C900 262 1060 250 1165 175" /><path d="M1245 0C1240 100 1200 200 1130 270C1060 335 960 385 850 400" /><path d="M835 0L838 222" /><path d="M1120 225L1170 160" stroke-width="1.0" /></g><g transform="translate(225 300) scale(0.09990)"><path d="M340 395L420 318L700 392L790 398L905 388C940 395 950 425 940 465C925 490 880 500 850 488" /><path d="M720 470L745 500L700 560M345 490C380 510 440 500 600 520" /><path d="M810 430C850 420 890 430 885 455C880 470 850 465 830 460" stroke-width="1.5" /><path d="M690 390l25 30l25-25" stroke-width="1.0" /><circle cx="462" cy="270" r="20"/><circle cx="462" cy="270" r="40" stroke-width="1.6"/><circle cx="800" cy="338" r="22"/><circle cx="800" cy="338" r="46" stroke-width="2.2"/><circle cx="800" cy="338" r="8" fill="#1c1c1c"/><circle cx="540" cy="290" r="10" fill="#1c1c1c"/><circle cx="718" cy="328" r="12" fill="#1c1c1c"/><circle cx="545" cy="400" r="12" fill="#1c1c1c"/><path d="M460 410h30v20h-30zM460 455h30v25h-30zM575 440l25 5l-5 25l-25 -5z" stroke-width="1.8" /><path d="M770 455l20 10l-10 25" stroke-width="1.6" /></g></g><g transform="translate(1287.89 493.24) scale(0.633) rotate(181.2) translate(-263.26 -343.96)"><g transform="translate(225 215) scale(0.09990)"><path d="M545 72L560 60L780 245L766 266Z" /><path d="M560 125L545 150C600 320 650 480 665 620C672 760 600 880 480 945C455 950 440 958 432 985" /><path d="M780 255L1140 590C1230 680 1275 790 1240 905C1222 975 1180 1025 1120 1075" /><path d="M822 305L840 1075" /></g><g transform="translate(225 300) scale(0.09990)"><path d="M432 135L405 250C398 290 415 310 440 322" /><path d="M465 100C468 150 500 172 540 186C580 200 592 262 640 290C700 305 760 250 832 224C900 262 1060 250 1165 175" /><path d="M1245 0C1240 100 1200 200 1130 270C1060 335 960 385 850 400" /><path d="M835 0L838 222" /><path d="M1120 225L1170 160" stroke-width="1.0" /></g><g transform="translate(225 300) scale(0.09990)"><path d="M340 395L420 318L700 392L790 398L905 388C940 395 950 425 940 465C925 490 880 500 850 488" /><path d="M720 470L745 500L700 560M345 490C380 510 440 500 600 520" /><path d="M810 430C850 420 890 430 885 455C880 470 850 465 830 460" stroke-width="1.5" /><path d="M690 390l25 30l25-25" stroke-width="1.0" /><circle cx="462" cy="270" r="20"/><circle cx="462" cy="270" r="40" stroke-width="1.6"/><circle cx="800" cy="338" r="22"/><circle cx="800" cy="338" r="46" stroke-width="2.2"/><circle cx="800" cy="338" r="8" fill="#1c1c1c"/><circle cx="540" cy="290" r="10" fill="#1c1c1c"/><circle cx="718" cy="328" r="12" fill="#1c1c1c"/><circle cx="545" cy="400" r="12" fill="#1c1c1c"/><path d="M460 410h30v20h-30zM460 455h30v25h-30zM575 440l25 5l-5 25l-25 -5z" stroke-width="1.8" /><path d="M770 455l20 10l-10 25" stroke-width="1.6" /></g></g><g transform="translate(1188.95 411.49) rotate(47.85)"><path d="M0 -2.94H6.33M0 2.94H6.33"/><path d="M6.33 -4.91H75.33M6.33 4.91H75.33M6.33 -4.91V4.91"/><path d="M67.1 -5.71V5.71M70.8 -5.71V5.71"/><rect x="72.73" y="-6.11" width="2.6" height="12.21" fill="#1c1c1c"/><path d="M75.33 -1.99H130.68M75.33 1.99H130.68"/></g><g transform="translate(1277.99 509.85) rotate(-94.28)"><path d="M3.08 -2.03H28.25M3.08 2.03H28.25"/></g><g transform="translate(1277.99 509.85) rotate(-24.81)"><path d="M3.08 -2.03H27.48M3.08 2.03H27.48"/></g><circle cx="1277.99" cy="509.85" r="3.4" stroke-width="1.3"/><circle cx="1277.99" cy="509.85" r="1.3"/><circle cx="1275.65" cy="478.62" r="3.4" stroke-width="1.3"/><circle cx="1275.65" cy="478.62" r="1.3"/><circle cx="1305.73" cy="497.03" r="3.4" stroke-width="1.3"/><circle cx="1305.73" cy="497.03" r="1.3"/><g transform="translate(1321.93 397.84) rotate(-173.54)"><path d="M0 -2.94H6.33M0 2.94H6.33"/><path d="M6.33 -4.91H75.96M6.33 4.91H75.96M6.33 -4.91V4.91"/><path d="M67.73 -5.71V5.71M71.43 -5.71V5.71"/><rect x="73.36" y="-6.11" width="2.6" height="12.21" fill="#1c1c1c"/><path d="M75.96 -1.99H138.82M75.96 1.99H138.82"/></g><g transform="translate(1447.6 509.1) scale(0.633) rotate(68.3) translate(-551.34 -234.28)"><g transform="translate(350 95) scale(0.09625)"><path d="M575 150C600 120 660 110 700 140L880 255L965 340" /><path d="M575 150L545 290L520 430L495 520L420 560C395 585 395 640 425 685L480 740C520 775 580 775 620 740C680 680 730 670 780 690L870 750" /><path d="M545 370L710 430L660 575L500 522" /><circle cx="638" cy="215" r="20"/><circle cx="638" cy="215" r="42" stroke-width="1.8"/><path d="M690 180l70 40l-30 100l-70 -40" stroke-width="2.0" /><path d="M700 215l40 20M690 260l40 22" stroke-width="2.5" /><circle cx="445" cy="605" r="25"/><circle cx="540" cy="680" r="22"/><circle cx="540" cy="680" r="46" stroke-width="2.4"/><path d="M505 525l110 35" stroke-width="2.6" /><path d="M880 340L830 655" stroke-width="2.2" /><path d="M285 572L490 705M620 760L850 935M250 655L780 995" /><path d="M760 780l40 20l-15 40l-40 -20zM700 915l35 20l-12 30l-35 -20z" stroke-width="1.5" fill="#1c1c1c" /><path d="M740 1000l60 40l-40 30" stroke-width="2" /></g></g><g transform="translate(1484.7 399) scale(0.633) rotate(76.3) translate(-411.41 -115.69)"><g transform="translate(80 80) scale(0.16846)"><path d="M430 580C380 585 350 612 352 645C355 676 380 692 412 688L482 682L1662 480" /><path d="M430 580L1225 398" /><circle cx="397" cy="643" r="11"/><circle cx="397" cy="643" r="23" stroke-width="1.8"/><path d="M432 605v20M432 655v20M455 600l10 60l-8 25" stroke-width="2.4" /><path d="M464 520L1165 322L1205 283M470 533L979 390L1170 338M527 548L979 412L1225 340" /><path d="M430 528l30 -10" stroke-width="3" /><path d="M1205 283l12 -14" stroke-width="2.5" /><rect x="-11" y="-47.5" width="22" height="95" transform="translate(500 536) rotate(-14)" stroke-width="1.2" fill="#1c1c1c"/><rect x="-11" y="-50" width="22" height="100" transform="translate(1050 387) rotate(-14)" stroke-width="1.2" fill="#1c1c1c"/><rect x="-10" y="-9" width="20" height="18" transform="translate(603 510) rotate(-14)" stroke-width="1" fill="#1c1c1c"/><rect x="-10" y="-9" width="20" height="18" transform="translate(950 412) rotate(-14)" stroke-width="1" fill="#1c1c1c"/></g><g transform="translate(185 100) scale(0.09625)"><path d="M1055 490C1120 400 1200 300 1290 205" /><path d="M1055 490C1200 470 1330 410 1430 355C1520 310 1600 280 1662 265" /><circle cx="1375" cy="240" r="18"/><circle cx="1375" cy="240" r="40" stroke-width="1.5"/><path d="M1335 215C1380 185 1440 200 1482 240C1440 285 1380 295 1335 262" /><circle cx="1462" cy="240" r="8" fill="#1c1c1c"/><path d="M1240 190L1245 95L1275 95L1275 120L1300 120L1300 92L1335 92L1340 185" stroke-width="2.0" /><path d="M1340 120L1440 118M1340 140L1420 135" stroke-width="1.8" /><path d="M1200 200L1215 270" stroke-width="2" /><path d="M1425 140L1714 131" /><rect x="-67.5" y="-67.5" width="135" height="135" transform="translate(1605 390) rotate(-10)" stroke-width="1.5"/><circle cx="1605" cy="390" r="35"/><circle cx="1550" cy="335" r="9" fill="#1c1c1c"/><circle cx="1650" cy="320" r="9" fill="#1c1c1c"/><circle cx="1565" cy="450" r="9" fill="#1c1c1c"/><circle cx="1662" cy="435" r="9" fill="#1c1c1c"/><rect x="-47.5" y="-32.5" width="95" height="65" transform="translate(1550 770) rotate(38)" stroke-width="1.5"/><path d="M1470 725L1500 700L1560 740" stroke-width="2.2" /></g><g transform="translate(350 95) scale(0.09625)"><path d="M0 185L560 130C600 118 650 110 700 140" /><path d="M0 292C100 262 220 252 400 262C470 268 520 275 545 282" /><path d="M0 700L180 660L262 640" /><path d="M20 320L45 430" stroke-width="2.4" /><circle cx="195" cy="585" r="20"/><circle cx="195" cy="585" r="42" stroke-width="1.5"/><path d="M225 545C170 520 120 560 88 592C120 625 180 650 235 615" /><path d="M90 592l25 -12l0 24z" fill="#1c1c1c" /><path d="M120 150v-80h45v80M70 165v-25h40" stroke-width="2.4" /></g></g><g transform="translate(1401.1 248.5) scale(0.633) rotate(178) translate(-146.6 -188.42)"><g transform="translate(85 130) scale(0.09625)"><path d="M300 250C275 232 245 230 222 232C190 232 160 250 138 275C100 320 78 400 74 480C70 580 85 690 110 780L135 850L178 850L240 812" /><circle cx="222" cy="300" r="20"/><circle cx="222" cy="300" r="38" stroke-width="1.6"/><path d="M186 318L250 500L272 496L262 315" /><circle cx="208" cy="540" r="27"/><circle cx="268" cy="607" r="27"/><path d="M150 520l14 6M200 488l6 12M318 622l12 4M268 650l2 12" stroke-width="1.4" /><circle cx="308" cy="790" r="20"/><circle cx="308" cy="790" r="42" stroke-width="1.6"/><path d="M270 775L243 700L335 752" /><path d="M238 690L278 722L250 738Z" fill="#1c1c1c" /><path d="M330 320C380 400 470 440 580 460C650 470 680 480 712 496" /><path d="M300 248L330 318" /><path d="M345 846C400 826 470 826 530 870C585 915 650 990 745 1070" /><path d="M862 660C890 700 915 745 1135 1070" /></g><g transform="translate(80 220) scale(0.16846)"><path d="M455 78L955 640C990 690 1010 730 1040 760" /><path d="M678 77L1000 530C1030 590 1050 640 1100 690" /><circle cx="1085" cy="735" r="14"/><circle cx="1085" cy="735" r="36" stroke-width="1.5"/><circle cx="980" cy="592" r="12"/><circle cx="980" cy="592" r="30" stroke-width="1.5"/><rect x="-13" y="-28" width="26" height="56" transform="translate(585 55) rotate(30)" stroke-width="1.6"/><rect x="-13" y="-28" width="26" height="56" transform="translate(725 240) rotate(30)" stroke-width="1.6"/><rect x="-13" y="-28" width="26" height="56" transform="translate(790 330) rotate(30)" stroke-width="1.6"/><rect x="-13" y="-28" width="26" height="56" transform="translate(815 415) rotate(30)" stroke-width="1.6"/><rect x="-13" y="-28" width="26" height="56" transform="translate(880 505) rotate(30)" stroke-width="1.6"/></g></g><g transform="translate(1323.86 152.68) scale(0.633) rotate(-5.8) translate(-263.26 -343.96)"><g transform="translate(225 215) scale(0.09990)"><path d="M545 72L560 60L780 245L766 266Z" /><path d="M560 125L545 150C600 320 650 480 665 620C672 760 600 880 480 945C455 950 440 958 432 985" /><path d="M780 255L1140 590C1230 680 1275 790 1240 905C1222 975 1180 1025 1120 1075" /><path d="M822 305L840 1075" /></g><g transform="translate(225 300) scale(0.09990)"><path d="M432 135L405 250C398 290 415 310 440 322" /><path d="M465 100C468 150 500 172 540 186C580 200 592 262 640 290C700 305 760 250 832 224C900 262 1060 250 1165 175" /><path d="M1245 0C1240 100 1200 200 1130 270C1060 335 960 385 850 400" /><path d="M835 0L838 222" /><path d="M1120 225L1170 160" stroke-width="1.0" /></g><g transform="translate(225 300) scale(0.09990)"><path d="M340 395L420 318L700 392L790 398L905 388C940 395 950 425 940 465C925 490 880 500 850 488" /><path d="M720 470L745 500L700 560M345 490C380 510 440 500 600 520" /><path d="M810 430C850 420 890 430 885 455C880 470 850 465 830 460" stroke-width="1.5" /><path d="M690 390l25 30l25-25" stroke-width="1.0" /><circle cx="462" cy="270" r="20"/><circle cx="462" cy="270" r="40" stroke-width="1.6"/><circle cx="800" cy="338" r="22"/><circle cx="800" cy="338" r="46" stroke-width="2.2"/><circle cx="800" cy="338" r="8" fill="#1c1c1c"/><circle cx="540" cy="290" r="10" fill="#1c1c1c"/><circle cx="718" cy="328" r="12" fill="#1c1c1c"/><circle cx="545" cy="400" r="12" fill="#1c1c1c"/><path d="M460 410h30v20h-30zM460 455h30v25h-30zM575 440l25 5l-5 25l-25 -5z" stroke-width="1.8" /><path d="M770 455l20 10l-10 25" stroke-width="1.6" /></g></g><g transform="translate(1420.93 236.65) rotate(-130.28)"><path d="M0 -2.94H6.33M0 2.94H6.33"/><path d="M6.33 -4.91H75.33M6.33 4.91H75.33M6.33 -4.91V4.91"/><path d="M67.1 -5.71V5.71M70.8 -5.71V5.71"/><rect x="72.73" y="-6.11" width="2.6" height="12.21" fill="#1c1c1c"/><path d="M75.33 -1.99H81.9M75.33 1.99H81.9"/></g><g transform="translate(1366.68 172.65) rotate(-170.69)"><path d="M3.08 -2.03H28.25M3.08 2.03H28.25"/></g><g transform="translate(1366.68 172.65) rotate(-143.92)"><path d="M3.08 -2.03H27.48M3.08 2.03H27.48"/></g><circle cx="1366.68" cy="172.65" r="3.4" stroke-width="1.3"/><circle cx="1366.68" cy="172.65" r="1.3"/><circle cx="1335.77" cy="167.58" r="3.4" stroke-width="1.3"/><circle cx="1335.77" cy="167.58" r="1.3"/><circle cx="1341.99" cy="154.66" r="3.4" stroke-width="1.3"/><circle cx="1341.99" cy="154.66" r="1.3"/><g transform="translate(1466.04 342.26) rotate(-117.08)"><path d="M0 -2.94H6.33M0 2.94H6.33"/><path d="M6.33 -4.91H75.96M6.33 4.91H75.96M6.33 -4.91V4.91"/><path d="M67.73 -5.71V5.71M71.43 -5.71V5.71"/><rect x="73.36" y="-6.11" width="2.6" height="12.21" fill="#1c1c1c"/><path d="M75.96 -1.99H83.31M75.96 1.99H83.31"/></g><g transform="translate(1401.1 248.5) scale(0.633) rotate(52.8) translate(-146.6 -188.42)"><g transform="translate(85 130) scale(0.09625)"><path d="M300 250C275 232 245 230 222 232C190 232 160 250 138 275C100 320 78 400 74 480C70 580 85 690 110 780L135 850L178 850L240 812" /><circle cx="222" cy="300" r="20"/><circle cx="222" cy="300" r="38" stroke-width="1.6"/><path d="M186 318L250 500L272 496L262 315" /><circle cx="208" cy="540" r="27"/><circle cx="268" cy="607" r="27"/><path d="M150 520l14 6M200 488l6 12M318 622l12 4M268 650l2 12" stroke-width="1.4" /><circle cx="308" cy="790" r="20"/><circle cx="308" cy="790" r="42" stroke-width="1.6"/><path d="M270 775L243 700L335 752" /><path d="M238 690L278 722L250 738Z" fill="#1c1c1c" /><path d="M330 320C380 400 470 440 580 460C650 470 680 480 712 496" /><path d="M300 248L330 318" /><path d="M345 846C400 826 470 826 530 870C585 915 650 990 745 1070" /><path d="M862 660C890 700 915 745 1135 1070" /></g><g transform="translate(80 220) scale(0.16846)"><path d="M455 78L955 640C990 690 1010 730 1040 760" /><path d="M678 77L1000 530C1030 590 1050 640 1100 690" /><circle cx="1085" cy="735" r="14"/><circle cx="1085" cy="735" r="36" stroke-width="1.5"/><circle cx="980" cy="592" r="12"/><circle cx="980" cy="592" r="30" stroke-width="1.5"/><rect x="-13" y="-28" width="26" height="56" transform="translate(585 55) rotate(30)" stroke-width="1.6"/><rect x="-13" y="-28" width="26" height="56" transform="translate(725 240) rotate(30)" stroke-width="1.6"/><rect x="-13" y="-28" width="26" height="56" transform="translate(790 330) rotate(30)" stroke-width="1.6"/><rect x="-13" y="-28" width="26" height="56" transform="translate(815 415) rotate(30)" stroke-width="1.6"/><rect x="-13" y="-28" width="26" height="56" transform="translate(880 505) rotate(30)" stroke-width="1.6"/></g></g><g transform="translate(1367.33 366.85) scale(0.633) rotate(-127.4) translate(-263.26 -343.96)"><g transform="translate(225 215) scale(0.09990)"><path d="M545 72L560 60L780 245L766 266Z" /><path d="M560 125L545 150C600 320 650 480 665 620C672 760 600 880 480 945C455 950 440 958 432 985" /><path d="M780 255L1140 590C1230 680 1275 790 1240 905C1222 975 1180 1025 1120 1075" /><path d="M822 305L840 1075" /></g><g transform="translate(225 300) scale(0.09990)"><path d="M432 135L405 250C398 290 415 310 440 322" /><path d="M465 100C468 150 500 172 540 186C580 200 592 262 640 290C700 305 760 250 832 224C900 262 1060 250 1165 175" /><path d="M1245 0C1240 100 1200 200 1130 270C1060 335 960 385 850 400" /><path d="M835 0L838 222" /><path d="M1120 225L1170 160" stroke-width="1.0" /></g><g transform="translate(225 300) scale(0.09990)"><path d="M340 395L420 318L700 392L790 398L905 388C940 395 950 425 940 465C925 490 880 500 850 488" /><path d="M720 470L745 500L700 560M345 490C380 510 440 500 600 520" /><path d="M810 430C850 420 890 430 885 455C880 470 850 465 830 460" stroke-width="1.5" /><path d="M690 390l25 30l25-25" stroke-width="1.0" /><circle cx="462" cy="270" r="20"/><circle cx="462" cy="270" r="40" stroke-width="1.6"/><circle cx="800" cy="338" r="22"/><circle cx="800" cy="338" r="46" stroke-width="2.2"/><circle cx="800" cy="338" r="8" fill="#1c1c1c"/><circle cx="540" cy="290" r="10" fill="#1c1c1c"/><circle cx="718" cy="328" r="12" fill="#1c1c1c"/><circle cx="545" cy="400" r="12" fill="#1c1c1c"/><path d="M460 410h30v20h-30zM460 455h30v25h-30zM575 440l25 5l-5 25l-25 -5z" stroke-width="1.8" /><path d="M770 455l20 10l-10 25" stroke-width="1.6" /></g></g><g transform="translate(1367.33 366.85) scale(0.633) rotate(52.5) translate(-263.26 -343.96)"><g transform="translate(225 215) scale(0.09990)"><path d="M545 72L560 60L780 245L766 266Z" /><path d="M560 125L545 150C600 320 650 480 665 620C672 760 600 880 480 945C455 950 440 958 432 985" /><path d="M780 255L1140 590C1230 680 1275 790 1240 905C1222 975 1180 1025 1120 1075" /><path d="M822 305L840 1075" /></g><g transform="translate(225 300) scale(0.09990)"><path d="M432 135L405 250C398 290 415 310 440 322" /><path d="M465 100C468 150 500 172 540 186C580 200 592 262 640 290C700 305 760 250 832 224C900 262 1060 250 1165 175" /><path d="M1245 0C1240 100 1200 200 1130 270C1060 335 960 385 850 400" /><path d="M835 0L838 222" /><path d="M1120 225L1170 160" stroke-width="1.0" /></g><g transform="translate(225 300) scale(0.09990)"><path d="M340 395L420 318L700 392L790 398L905 388C940 395 950 425 940 465C925 490 880 500 850 488" /><path d="M720 470L745 500L700 560M345 490C380 510 440 500 600 520" /><path d="M810 430C850 420 890 430 885 455C880 470 850 465 830 460" stroke-width="1.5" /><path d="M690 390l25 30l25-25" stroke-width="1.0" /><circle cx="462" cy="270" r="20"/><circle cx="462" cy="270" r="40" stroke-width="1.6"/><circle cx="800" cy="338" r="22"/><circle cx="800" cy="338" r="46" stroke-width="2.2"/><circle cx="800" cy="338" r="8" fill="#1c1c1c"/><circle cx="540" cy="290" r="10" fill="#1c1c1c"/><circle cx="718" cy="328" r="12" fill="#1c1c1c"/><circle cx="545" cy="400" r="12" fill="#1c1c1c"/><path d="M460 410h30v20h-30zM460 455h30v25h-30zM575 440l25 5l-5 25l-25 -5z" stroke-width="1.8" /><path d="M770 455l20 10l-10 25" stroke-width="1.6" /></g></g><g transform="translate(1379.99 239.13) rotate(103.85)"><path d="M0 -2.94H6.33M0 2.94H6.33"/><path d="M6.33 -4.91H75.33M6.33 4.91H75.33M6.33 -4.91V4.91"/><path d="M67.1 -5.71V5.71M70.8 -5.71V5.71"/><rect x="72.73" y="-6.11" width="2.6" height="12.21" fill="#1c1c1c"/><path d="M75.33 -1.99H81.11M75.33 1.99H81.11"/></g><g transform="translate(1360.09 319.82) rotate(66.39)"><path d="M3.08 -2.03H28.25M3.08 2.03H28.25"/></g><g transform="translate(1360.09 319.82) rotate(91.09)"><path d="M3.08 -2.03H27.48M3.08 2.03H27.48"/></g><circle cx="1360.09" cy="319.82" r="3.4" stroke-width="1.3"/><circle cx="1360.09" cy="319.82" r="1.3"/><circle cx="1372.64" cy="348.53" r="3.4" stroke-width="1.3"/><circle cx="1372.64" cy="348.53" r="1.3"/><circle cx="1359.51" cy="350.38" r="3.4" stroke-width="1.3"/><circle cx="1359.51" cy="350.38" r="1.3"/><g transform="translate(1466.04 342.26) rotate(-117.57)"><path d="M0 -2.94H6.33M0 2.94H6.33"/><path d="M6.33 -4.91H75.96M6.33 4.91H75.96M6.33 -4.91V4.91"/><path d="M67.73 -5.71V5.71M71.43 -5.71V5.71"/><rect x="73.36" y="-6.11" width="2.6" height="12.21" fill="#1c1c1c"/><path d="M75.96 -1.99H139.41M75.96 1.99H139.41"/></g><g transform="translate(1447.6 509.1) scale(0.633) rotate(-35.6) translate(-551.34 -234.28)"><g transform="translate(350 95) scale(0.09625)"><path d="M575 150C600 120 660 110 700 140L880 255L965 340" /><path d="M575 150L545 290L520 430L495 520L420 560C395 585 395 640 425 685L480 740C520 775 580 775 620 740C680 680 730 670 780 690L870 750" /><path d="M545 370L710 430L660 575L500 522" /><circle cx="638" cy="215" r="20"/><circle cx="638" cy="215" r="42" stroke-width="1.8"/><path d="M690 180l70 40l-30 100l-70 -40" stroke-width="2.0" /><path d="M700 215l40 20M690 260l40 22" stroke-width="2.5" /><circle cx="445" cy="605" r="25"/><circle cx="540" cy="680" r="22"/><circle cx="540" cy="680" r="46" stroke-width="2.4"/><path d="M505 525l110 35" stroke-width="2.6" /><path d="M880 340L830 655" stroke-width="2.2" /><path d="M285 572L490 705M620 760L850 935M250 655L780 995" /><path d="M760 780l40 20l-15 40l-40 -20zM700 915l35 20l-12 30l-35 -20z" stroke-width="1.5" fill="#1c1c1c" /><path d="M740 1000l60 40l-40 30" stroke-width="2" /></g></g><path d="M1342.37 489.49L1379.49 489.5M1362.51 513.2L1394.08 519.79" /><g transform="translate(1333.5 499.8) scale(0.633) rotate(-30.2) translate(-411.41 -115.69)"><g transform="translate(80 80) scale(0.16846)"><path d="M430 580C380 585 350 612 352 645C355 676 380 692 412 688L482 682L1662 480" /><path d="M430 580L1225 398" /><circle cx="397" cy="643" r="11"/><circle cx="397" cy="643" r="23" stroke-width="1.8"/><path d="M432 605v20M432 655v20M455 600l10 60l-8 25" stroke-width="2.4" /><path d="M464 520L1165 322L1205 283M470 533L979 390L1170 338M527 548L979 412L1225 340" /><path d="M430 528l30 -10" stroke-width="3" /><path d="M1205 283l12 -14" stroke-width="2.5" /><rect x="-11" y="-47.5" width="22" height="95" transform="translate(500 536) rotate(-14)" stroke-width="1.2" fill="#1c1c1c"/><rect x="-11" y="-50" width="22" height="100" transform="translate(1050 387) rotate(-14)" stroke-width="1.2" fill="#1c1c1c"/><rect x="-10" y="-9" width="20" height="18" transform="translate(603 510) rotate(-14)" stroke-width="1" fill="#1c1c1c"/><rect x="-10" y="-9" width="20" height="18" transform="translate(950 412) rotate(-14)" stroke-width="1" fill="#1c1c1c"/></g><g transform="translate(185 100) scale(0.09625)"><path d="M1055 490C1120 400 1200 300 1290 205" /><path d="M1055 490C1200 470 1330 410 1430 355C1520 310 1600 280 1662 265" /><circle cx="1375" cy="240" r="18"/><circle cx="1375" cy="240" r="40" stroke-width="1.5"/><path d="M1335 215C1380 185 1440 200 1482 240C1440 285 1380 295 1335 262" /><circle cx="1462" cy="240" r="8" fill="#1c1c1c"/><path d="M1240 190L1245 95L1275 95L1275 120L1300 120L1300 92L1335 92L1340 185" stroke-width="2.0" /><path d="M1340 120L1440 118M1340 140L1420 135" stroke-width="1.8" /><path d="M1200 200L1215 270" stroke-width="2" /><path d="M1425 140L1714 131" /><rect x="-67.5" y="-67.5" width="135" height="135" transform="translate(1605 390) rotate(-10)" stroke-width="1.5"/><circle cx="1605" cy="390" r="35"/><circle cx="1550" cy="335" r="9" fill="#1c1c1c"/><circle cx="1650" cy="320" r="9" fill="#1c1c1c"/><circle cx="1565" cy="450" r="9" fill="#1c1c1c"/><circle cx="1662" cy="435" r="9" fill="#1c1c1c"/><rect x="-47.5" y="-32.5" width="95" height="65" transform="translate(1550 770) rotate(38)" stroke-width="1.5"/><path d="M1470 725L1500 700L1560 740" stroke-width="2.2" /></g><g transform="translate(350 95) scale(0.09625)"><path d="M0 185L560 130C600 118 650 110 700 140" /><path d="M0 292C100 262 220 252 400 262C470 268 520 275 545 282" /><path d="M0 700L180 660L262 640" /><path d="M20 320L45 430" stroke-width="2.4" /><circle cx="195" cy="585" r="20"/><circle cx="195" cy="585" r="42" stroke-width="1.5"/><path d="M225 545C170 520 120 560 88 592C120 625 180 650 235 615" /><path d="M90 592l25 -12l0 24z" fill="#1c1c1c" /><path d="M120 150v-80h45v80M70 165v-25h40" stroke-width="2.4" /></g></g><g transform="translate(1213.5 622.2) scale(0.633) rotate(71.1) translate(-146.6 -188.42)"><g transform="translate(85 130) scale(0.09625)"><path d="M300 250C275 232 245 230 222 232C190 232 160 250 138 275C100 320 78 400 74 480C70 580 85 690 110 780L135 850L178 850L240 812" /><circle cx="222" cy="300" r="20"/><circle cx="222" cy="300" r="38" stroke-width="1.6"/><path d="M186 318L250 500L272 496L262 315" /><circle cx="208" cy="540" r="27"/><circle cx="268" cy="607" r="27"/><path d="M150 520l14 6M200 488l6 12M318 622l12 4M268 650l2 12" stroke-width="1.4" /><circle cx="308" cy="790" r="20"/><circle cx="308" cy="790" r="42" stroke-width="1.6"/><path d="M270 775L243 700L335 752" /><path d="M238 690L278 722L250 738Z" fill="#1c1c1c" /><path d="M330 320C380 400 470 440 580 460C650 470 680 480 712 496" /><path d="M300 248L330 318" /><path d="M345 846C400 826 470 826 530 870C585 915 650 990 745 1070" /><path d="M862 660C890 700 915 745 1135 1070" /></g><g transform="translate(80 220) scale(0.16846)"><path d="M455 78L955 640C990 690 1010 730 1040 760" /><path d="M678 77L1000 530C1030 590 1050 640 1100 690" /><circle cx="1085" cy="735" r="14"/><circle cx="1085" cy="735" r="36" stroke-width="1.5"/><circle cx="980" cy="592" r="12"/><circle cx="980" cy="592" r="30" stroke-width="1.5"/><rect x="-13" y="-28" width="26" height="56" transform="translate(585 55) rotate(30)" stroke-width="1.6"/><rect x="-13" y="-28" width="26" height="56" transform="translate(725 240) rotate(30)" stroke-width="1.6"/><rect x="-13" y="-28" width="26" height="56" transform="translate(790 330) rotate(30)" stroke-width="1.6"/><rect x="-13" y="-28" width="26" height="56" transform="translate(815 415) rotate(30)" stroke-width="1.6"/><rect x="-13" y="-28" width="26" height="56" transform="translate(880 505) rotate(30)" stroke-width="1.6"/></g></g><g transform="translate(1144.28 723.96) scale(0.633) rotate(-107.1) translate(-263.26 -343.96)"><g transform="translate(225 215) scale(0.09990)"><path d="M545 72L560 60L780 245L766 266Z" /><path d="M560 125L545 150C600 320 650 480 665 620C672 760 600 880 480 945C455 950 440 958 432 985" /><path d="M780 255L1140 590C1230 680 1275 790 1240 905C1222 975 1180 1025 1120 1075" /><path d="M822 305L840 1075" /></g><g transform="translate(225 300) scale(0.09990)"><path d="M432 135L405 250C398 290 415 310 440 322" /><path d="M465 100C468 150 500 172 540 186C580 200 592 262 640 290C700 305 760 250 832 224C900 262 1060 250 1165 175" /><path d="M1245 0C1240 100 1200 200 1130 270C1060 335 960 385 850 400" /><path d="M835 0L838 222" /><path d="M1120 225L1170 160" stroke-width="1.0" /></g><g transform="translate(225 300) scale(0.09990)"><path d="M340 395L420 318L700 392L790 398L905 388C940 395 950 425 940 465C925 490 880 500 850 488" /><path d="M720 470L745 500L700 560M345 490C380 510 440 500 600 520" /><path d="M810 430C850 420 890 430 885 455C880 470 850 465 830 460" stroke-width="1.5" /><path d="M690 390l25 30l25-25" stroke-width="1.0" /><circle cx="462" cy="270" r="20"/><circle cx="462" cy="270" r="40" stroke-width="1.6"/><circle cx="800" cy="338" r="22"/><circle cx="800" cy="338" r="46" stroke-width="2.2"/><circle cx="800" cy="338" r="8" fill="#1c1c1c"/><circle cx="540" cy="290" r="10" fill="#1c1c1c"/><circle cx="718" cy="328" r="12" fill="#1c1c1c"/><circle cx="545" cy="400" r="12" fill="#1c1c1c"/><path d="M460 410h30v20h-30zM460 455h30v25h-30zM575 440l25 5l-5 25l-25 -5z" stroke-width="1.8" /><path d="M770 455l20 10l-10 25" stroke-width="1.6" /></g></g><g transform="translate(1196.4 606.68) rotate(121.78)"><path d="M0 -2.94H6.33M0 2.94H6.33"/><path d="M6.33 -4.91H75.33M6.33 4.91H75.33M6.33 -4.91V4.91"/><path d="M67.1 -5.71V5.71M70.8 -5.71V5.71"/><rect x="72.73" y="-6.11" width="2.6" height="12.21" fill="#1c1c1c"/><path d="M75.33 -1.99H80.71M75.33 1.99H80.71"/></g><g transform="translate(1152.84 676.99) rotate(85.92)"><path d="M3.08 -2.03H28.25M3.08 2.03H28.25"/></g><g transform="translate(1152.84 676.99) rotate(109.46)"><path d="M3.08 -2.03H27.48M3.08 2.03H27.48"/></g><circle cx="1152.84" cy="676.99" r="3.4" stroke-width="1.3"/><circle cx="1152.84" cy="676.99" r="1.3"/><circle cx="1155.07" cy="708.23" r="3.4" stroke-width="1.3"/><circle cx="1155.07" cy="708.23" r="1.3"/><circle cx="1142.66" cy="705.8" r="3.4" stroke-width="1.3"/><circle cx="1142.66" cy="705.8" r="1.3"/><g transform="translate(1284.4 533.8) rotate(136.53)"><path d="M0 -2.94H6.33M0 2.94H6.33"/><path d="M6.33 -4.91H75.96M6.33 4.91H75.96M6.33 -4.91V4.91"/><path d="M67.73 -5.71V5.71M71.43 -5.71V5.71"/><rect x="73.36" y="-6.11" width="2.6" height="12.21" fill="#1c1c1c"/><path d="M75.96 -1.99H82.67M75.96 1.99H82.67"/></g></g>
</svg></body></html>
